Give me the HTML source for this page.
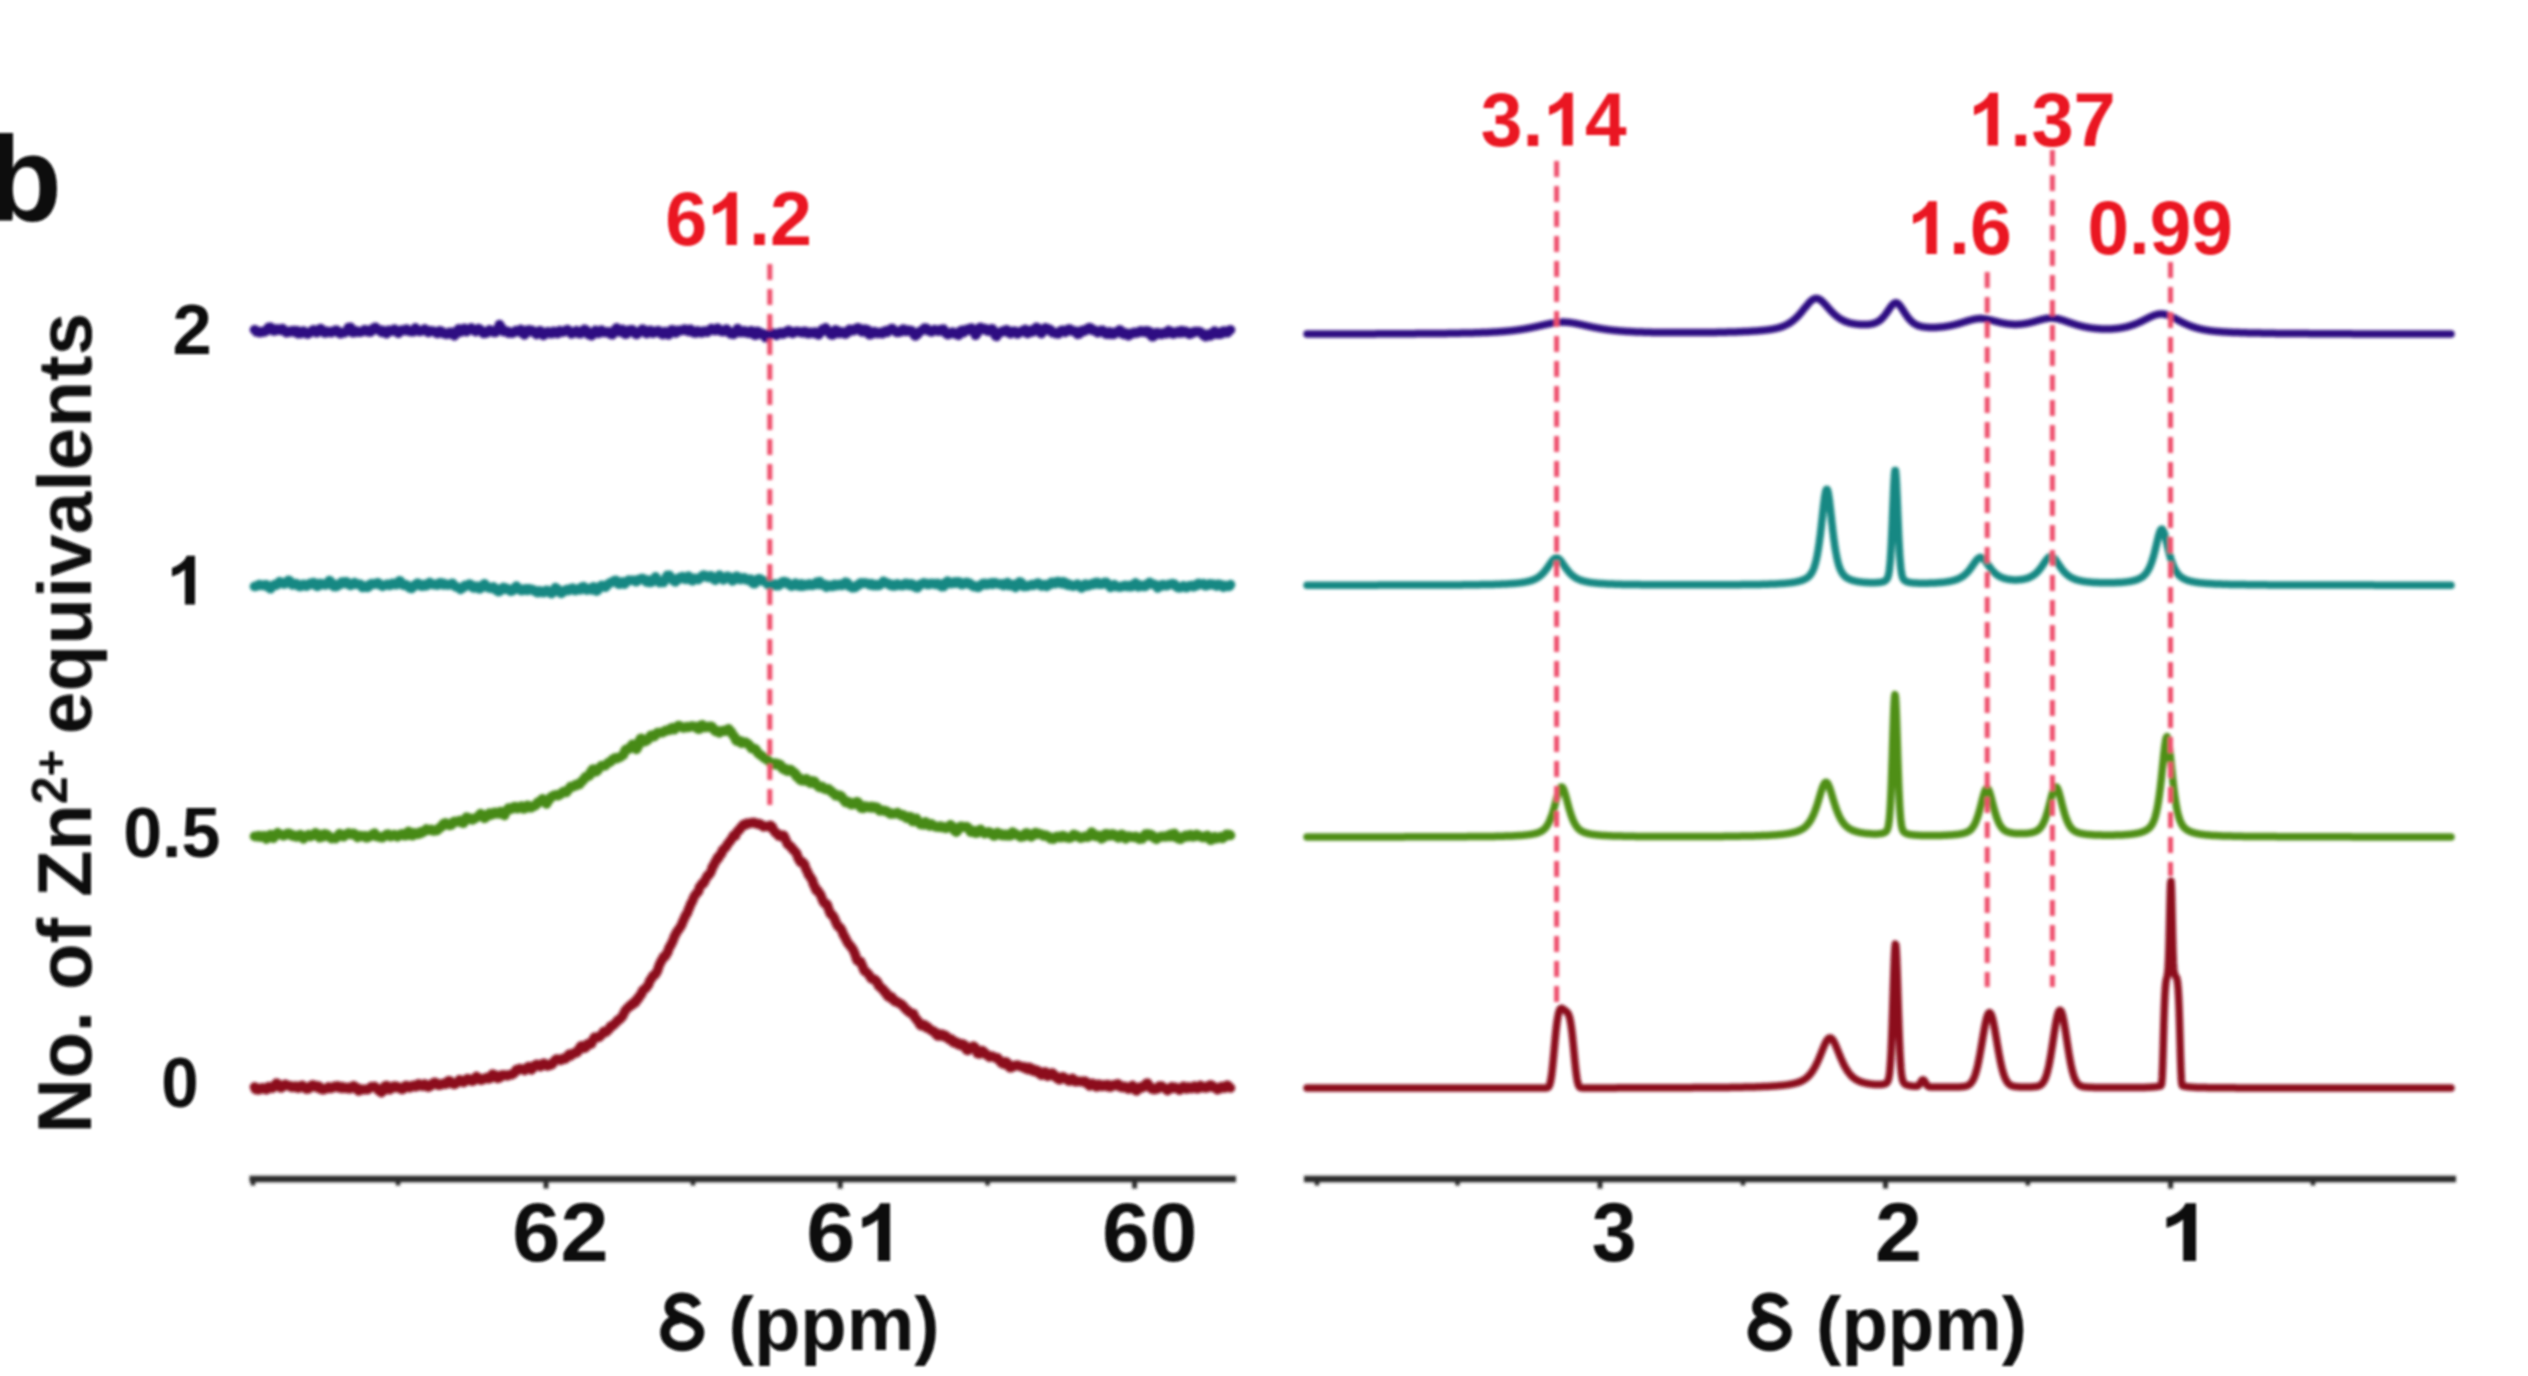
<!DOCTYPE html>
<html lang="en"><head><meta charset="utf-8"><title>NMR titration spectra</title>
<style>
html,body{margin:0;padding:0;background:#fff;}
body{width:2528px;height:1376px;overflow:hidden;font-family:"Liberation Sans",sans-serif;}
svg{display:block;}
text{font-family:"Liberation Sans",sans-serif;}
.tr{fill:none;stroke-linejoin:round;stroke-linecap:round;}
.dash{stroke:#ee4d6b;stroke-width:5;stroke-dasharray:16 9;fill:none;}
</style></head><body>
<svg width="2528" height="1376" viewBox="0 0 2528 1376">
<defs><filter id="soft" x="-2%" y="-2%" width="104%" height="104%"><feGaussianBlur stdDeviation="1.6"/></filter><filter id="softtxt" x="-2%" y="-2%" width="104%" height="104%"><feGaussianBlur stdDeviation="1.1"/></filter></defs>
<rect width="2528" height="1376" fill="#ffffff"/>
<g filter="url(#soft)">
<g id="left-panel">
<path class="tr" stroke="#2e0f82" stroke-width="9.6" d="M254.5,329.7 L255.5,330.0 L256.5,331.9 L257.5,331.9 L258.5,332.2 L259.5,332.6 L260.5,331.7 L261.5,332.2 L262.5,332.0 L263.5,331.5 L264.5,331.8 L265.5,330.5 L266.5,330.9 L267.5,329.3 L268.5,327.5 L269.5,327.1 L270.5,327.3 L271.5,327.8 L272.5,329.2 L273.5,330.9 L274.5,331.0 L275.5,329.9 L276.5,329.1 L277.5,329.0 L278.5,329.2 L279.5,330.1 L280.5,330.1 L281.5,329.3 L282.5,328.5 L283.5,330.8 L284.5,330.5 L285.5,331.3 L286.5,332.8 L287.5,331.3 L288.5,331.9 L289.5,332.1 L290.5,331.3 L291.5,330.8 L292.5,330.9 L293.5,332.0 L294.5,330.6 L295.5,332.4 L296.5,332.5 L297.5,330.7 L298.5,333.8 L299.5,333.7 L300.5,332.6 L301.5,333.2 L302.5,331.9 L303.5,331.1 L304.5,332.7 L305.5,332.6 L306.5,332.7 L307.5,334.1 L308.5,332.9 L309.5,333.1 L310.5,332.1 L311.5,331.0 L312.5,330.5 L313.5,329.8 L314.5,330.1 L315.5,330.7 L316.5,332.8 L317.5,332.1 L318.5,331.6 L319.5,331.4 L320.5,328.6 L321.5,329.4 L322.5,330.0 L323.5,330.5 L324.5,332.9 L325.5,333.0 L326.5,332.7 L327.5,331.4 L328.5,332.1 L329.5,332.0 L330.5,332.1 L331.5,332.6 L332.5,331.2 L333.5,331.4 L334.5,330.7 L335.5,330.3 L336.5,330.1 L337.5,331.2 L338.5,332.8 L339.5,332.8 L340.5,333.8 L341.5,332.4 L342.5,332.8 L343.5,332.8 L344.5,332.7 L345.5,331.9 L346.5,331.3 L347.5,329.8 L348.5,327.5 L349.5,328.3 L350.5,327.2 L351.5,328.9 L352.5,332.6 L353.5,332.2 L354.5,332.4 L355.5,332.4 L356.5,330.9 L357.5,331.5 L358.5,331.8 L359.5,332.3 L360.5,332.3 L361.5,331.5 L362.5,331.6 L363.5,331.0 L364.5,329.7 L365.5,330.8 L366.5,330.1 L367.5,330.9 L368.5,332.0 L369.5,331.9 L370.5,332.1 L371.5,331.1 L372.5,329.2 L373.5,328.1 L374.5,329.0 L375.5,327.2 L376.5,329.7 L377.5,329.2 L378.5,329.5 L379.5,330.6 L380.5,330.6 L381.5,332.2 L382.5,330.2 L383.5,332.1 L384.5,332.6 L385.5,332.5 L386.5,333.6 L387.5,332.3 L388.5,330.2 L389.5,331.2 L390.5,331.0 L391.5,331.1 L392.5,331.2 L393.5,329.7 L394.5,329.1 L395.5,330.2 L396.5,330.8 L397.5,332.2 L398.5,333.3 L399.5,331.6 L400.5,331.5 L401.5,330.1 L402.5,330.1 L403.5,330.4 L404.5,330.4 L405.5,329.7 L406.5,329.0 L407.5,330.8 L408.5,330.4 L409.5,330.7 L410.5,331.7 L411.5,331.5 L412.5,330.8 L413.5,331.6 L414.5,330.7 L415.5,327.9 L416.5,329.9 L417.5,330.0 L418.5,330.7 L419.5,331.5 L420.5,331.3 L421.5,330.8 L422.5,330.7 L423.5,330.3 L424.5,328.9 L425.5,330.5 L426.5,330.2 L427.5,331.4 L428.5,332.5 L429.5,330.9 L430.5,330.9 L431.5,331.2 L432.5,331.0 L433.5,331.2 L434.5,331.7 L435.5,332.2 L436.5,333.1 L437.5,333.5 L438.5,333.0 L439.5,330.8 L440.5,331.0 L441.5,331.5 L442.5,331.9 L443.5,333.6 L444.5,333.5 L445.5,333.3 L446.5,334.3 L447.5,333.4 L448.5,334.0 L449.5,332.2 L450.5,332.2 L451.5,333.0 L452.5,332.4 L453.5,335.2 L454.5,335.7 L455.5,334.3 L456.5,332.1 L457.5,331.1 L458.5,328.9 L459.5,329.9 L460.5,332.2 L461.5,330.0 L462.5,329.0 L463.5,329.3 L464.5,328.6 L465.5,329.8 L466.5,331.7 L467.5,330.7 L468.5,329.4 L469.5,329.4 L470.5,328.6 L471.5,327.9 L472.5,329.7 L473.5,329.7 L474.5,331.0 L475.5,331.5 L476.5,330.5 L477.5,329.7 L478.5,328.6 L479.5,329.6 L480.5,329.5 L481.5,330.7 L482.5,331.8 L483.5,333.4 L484.5,332.9 L485.5,333.3 L486.5,333.0 L487.5,331.2 L488.5,331.1 L489.5,329.9 L490.5,330.7 L491.5,330.6 L492.5,332.0 L493.5,332.1 L494.5,332.5 L495.5,332.5 L496.5,330.5 L497.5,330.2 L498.5,327.5 L499.5,324.6 L500.5,326.1 L501.5,327.9 L502.5,329.7 L503.5,331.5 L504.5,331.1 L505.5,330.9 L506.5,331.0 L507.5,332.1 L508.5,332.9 L509.5,332.0 L510.5,332.5 L511.5,333.0 L512.5,333.2 L513.5,332.3 L514.5,332.0 L515.5,330.9 L516.5,331.7 L517.5,331.5 L518.5,330.9 L519.5,331.5 L520.5,329.4 L521.5,332.1 L522.5,333.5 L523.5,333.1 L524.5,334.9 L525.5,333.7 L526.5,330.2 L527.5,330.8 L528.5,330.1 L529.5,329.8 L530.5,331.2 L531.5,330.7 L532.5,330.6 L533.5,331.6 L534.5,332.8 L535.5,333.1 L536.5,334.6 L537.5,333.0 L538.5,332.4 L539.5,330.8 L540.5,330.8 L541.5,332.2 L542.5,333.3 L543.5,335.5 L544.5,334.2 L545.5,333.6 L546.5,332.6 L547.5,331.8 L548.5,331.8 L549.5,332.9 L550.5,333.6 L551.5,333.7 L552.5,333.2 L553.5,331.3 L554.5,332.2 L555.5,332.7 L556.5,333.3 L557.5,333.5 L558.5,331.2 L559.5,330.7 L560.5,331.4 L561.5,331.3 L562.5,332.1 L563.5,332.0 L564.5,331.3 L565.5,330.3 L566.5,330.3 L567.5,329.7 L568.5,330.4 L569.5,331.1 L570.5,331.8 L571.5,333.9 L572.5,332.9 L573.5,333.0 L574.5,332.7 L575.5,331.3 L576.5,330.7 L577.5,331.7 L578.5,333.3 L579.5,333.1 L580.5,333.8 L581.5,332.4 L582.5,330.9 L583.5,330.1 L584.5,329.3 L585.5,331.3 L586.5,330.3 L587.5,332.3 L588.5,334.6 L589.5,333.7 L590.5,335.0 L591.5,335.8 L592.5,334.3 L593.5,333.5 L594.5,331.8 L595.5,330.2 L596.5,331.6 L597.5,333.0 L598.5,333.4 L599.5,332.6 L600.5,330.8 L601.5,330.2 L602.5,330.9 L603.5,331.8 L604.5,332.5 L605.5,332.0 L606.5,332.2 L607.5,332.1 L608.5,331.8 L609.5,332.5 L610.5,334.2 L611.5,334.5 L612.5,334.7 L613.5,332.7 L614.5,331.4 L615.5,329.2 L616.5,327.9 L617.5,330.1 L618.5,330.4 L619.5,332.0 L620.5,331.7 L621.5,330.7 L622.5,329.4 L623.5,330.1 L624.5,333.6 L625.5,334.1 L626.5,334.0 L627.5,332.5 L628.5,330.4 L629.5,330.1 L630.5,329.8 L631.5,330.9 L632.5,329.9 L633.5,331.1 L634.5,333.0 L635.5,333.9 L636.5,334.4 L637.5,333.9 L638.5,332.9 L639.5,331.6 L640.5,331.7 L641.5,330.1 L642.5,329.0 L643.5,330.0 L644.5,330.1 L645.5,331.5 L646.5,333.6 L647.5,331.4 L648.5,330.9 L649.5,330.8 L650.5,330.3 L651.5,331.5 L652.5,333.1 L653.5,333.1 L654.5,331.7 L655.5,331.2 L656.5,331.0 L657.5,331.2 L658.5,330.6 L659.5,332.6 L660.5,332.4 L661.5,333.2 L662.5,334.6 L663.5,333.1 L664.5,331.6 L665.5,332.6 L666.5,332.8 L667.5,334.5 L668.5,334.9 L669.5,332.8 L670.5,331.5 L671.5,329.8 L672.5,331.2 L673.5,330.0 L674.5,332.4 L675.5,333.0 L676.5,331.2 L677.5,331.9 L678.5,330.5 L679.5,330.2 L680.5,330.6 L681.5,330.4 L682.5,330.5 L683.5,329.6 L684.5,329.0 L685.5,329.7 L686.5,330.7 L687.5,330.3 L688.5,331.4 L689.5,330.9 L690.5,329.2 L691.5,331.3 L692.5,330.9 L693.5,332.8 L694.5,332.9 L695.5,332.5 L696.5,332.8 L697.5,330.8 L698.5,332.0 L699.5,331.5 L700.5,332.2 L701.5,332.9 L702.5,331.4 L703.5,331.4 L704.5,331.0 L705.5,331.8 L706.5,332.0 L707.5,332.1 L708.5,330.5 L709.5,330.2 L710.5,330.1 L711.5,328.5 L712.5,330.0 L713.5,330.4 L714.5,330.0 L715.5,330.6 L716.5,330.0 L717.5,328.1 L718.5,329.7 L719.5,330.0 L720.5,330.0 L721.5,331.5 L722.5,330.5 L723.5,331.6 L724.5,331.4 L725.5,329.9 L726.5,329.0 L727.5,330.3 L728.5,330.9 L729.5,332.2 L730.5,333.9 L731.5,332.4 L732.5,332.8 L733.5,334.4 L734.5,333.6 L735.5,332.1 L736.5,331.3 L737.5,328.5 L738.5,330.2 L739.5,332.3 L740.5,332.5 L741.5,332.5 L742.5,331.6 L743.5,332.2 L744.5,330.7 L745.5,332.4 L746.5,331.9 L747.5,331.7 L748.5,333.3 L749.5,332.7 L750.5,332.4 L751.5,330.7 L752.5,332.9 L753.5,334.0 L754.5,335.0 L755.5,335.2 L756.5,332.4 L757.5,331.4 L758.5,331.8 L759.5,332.5 L760.5,334.2 L761.5,333.6 L762.5,333.6 L763.5,333.7 L764.5,335.0 L765.5,337.6 L766.5,337.6 L767.5,337.0 L768.5,335.8 L769.5,333.6 L770.5,333.1 L771.5,333.7 L772.5,332.8 L773.5,333.9 L774.5,334.4 L775.5,334.6 L776.5,335.3 L777.5,334.1 L778.5,333.3 L779.5,332.9 L780.5,332.5 L781.5,333.2 L782.5,334.0 L783.5,332.9 L784.5,333.4 L785.5,331.9 L786.5,331.3 L787.5,332.2 L788.5,330.2 L789.5,331.4 L790.5,332.0 L791.5,332.0 L792.5,333.4 L793.5,332.9 L794.5,331.8 L795.5,331.6 L796.5,331.4 L797.5,331.7 L798.5,331.5 L799.5,331.8 L800.5,332.4 L801.5,332.1 L802.5,332.7 L803.5,332.9 L804.5,331.3 L805.5,331.7 L806.5,332.3 L807.5,332.0 L808.5,333.8 L809.5,332.7 L810.5,332.3 L811.5,332.6 L812.5,332.6 L813.5,333.3 L814.5,332.2 L815.5,332.0 L816.5,332.7 L817.5,333.3 L818.5,334.9 L819.5,333.0 L820.5,332.8 L821.5,331.7 L822.5,329.3 L823.5,330.9 L824.5,328.8 L825.5,327.7 L826.5,329.4 L827.5,330.1 L828.5,331.1 L829.5,332.5 L830.5,334.5 L831.5,334.8 L832.5,335.0 L833.5,334.5 L834.5,331.8 L835.5,329.8 L836.5,330.3 L837.5,330.8 L838.5,332.0 L839.5,333.4 L840.5,332.4 L841.5,331.9 L842.5,332.5 L843.5,332.1 L844.5,333.7 L845.5,334.1 L846.5,333.1 L847.5,332.9 L848.5,331.1 L849.5,329.3 L850.5,330.0 L851.5,329.6 L852.5,330.8 L853.5,330.7 L854.5,329.9 L855.5,329.4 L856.5,328.3 L857.5,327.8 L858.5,327.8 L859.5,329.1 L860.5,330.2 L861.5,331.6 L862.5,331.9 L863.5,331.7 L864.5,329.0 L865.5,329.4 L866.5,329.9 L867.5,329.8 L868.5,333.7 L869.5,334.8 L870.5,334.6 L871.5,334.2 L872.5,333.4 L873.5,331.9 L874.5,331.6 L875.5,332.1 L876.5,333.1 L877.5,333.5 L878.5,333.4 L879.5,332.8 L880.5,332.3 L881.5,332.4 L882.5,333.7 L883.5,332.7 L884.5,331.3 L885.5,331.2 L886.5,330.5 L887.5,332.3 L888.5,331.1 L889.5,330.5 L890.5,330.1 L891.5,328.6 L892.5,328.6 L893.5,330.3 L894.5,330.4 L895.5,331.4 L896.5,332.4 L897.5,332.4 L898.5,331.7 L899.5,332.2 L900.5,331.9 L901.5,330.2 L902.5,330.6 L903.5,329.0 L904.5,330.4 L905.5,331.4 L906.5,330.4 L907.5,331.1 L908.5,330.2 L909.5,330.8 L910.5,331.0 L911.5,330.6 L912.5,331.9 L913.5,333.1 L914.5,335.4 L915.5,335.9 L916.5,335.0 L917.5,334.4 L918.5,332.5 L919.5,331.6 L920.5,331.5 L921.5,330.6 L922.5,329.9 L923.5,329.4 L924.5,328.0 L925.5,328.2 L926.5,328.2 L927.5,329.6 L928.5,331.0 L929.5,331.0 L930.5,331.4 L931.5,331.9 L932.5,331.0 L933.5,330.1 L934.5,329.5 L935.5,330.1 L936.5,330.8 L937.5,330.5 L938.5,331.1 L939.5,329.9 L940.5,330.5 L941.5,329.8 L942.5,329.2 L943.5,329.1 L944.5,330.7 L945.5,332.9 L946.5,333.7 L947.5,334.7 L948.5,334.3 L949.5,333.2 L950.5,333.0 L951.5,333.5 L952.5,332.1 L953.5,332.9 L954.5,332.8 L955.5,333.4 L956.5,334.5 L957.5,334.4 L958.5,335.4 L959.5,332.0 L960.5,331.0 L961.5,330.4 L962.5,330.2 L963.5,332.6 L964.5,331.7 L965.5,330.4 L966.5,330.3 L967.5,329.1 L968.5,329.1 L969.5,330.1 L970.5,329.4 L971.5,328.1 L972.5,329.4 L973.5,330.2 L974.5,331.5 L975.5,335.3 L976.5,334.2 L977.5,332.4 L978.5,330.7 L979.5,327.9 L980.5,327.4 L981.5,329.1 L982.5,328.1 L983.5,329.5 L984.5,328.6 L985.5,328.8 L986.5,330.4 L987.5,329.9 L988.5,331.1 L989.5,330.4 L990.5,330.0 L991.5,328.8 L992.5,328.8 L993.5,330.9 L994.5,333.2 L995.5,335.9 L996.5,336.5 L997.5,334.3 L998.5,333.8 L999.5,332.6 L1000.5,332.0 L1001.5,332.3 L1002.5,331.1 L1003.5,330.8 L1004.5,330.8 L1005.5,330.1 L1006.5,329.7 L1007.5,332.1 L1008.5,332.1 L1009.5,332.9 L1010.5,333.7 L1011.5,332.3 L1012.5,331.4 L1013.5,331.4 L1014.5,331.8 L1015.5,331.4 L1016.5,332.5 L1017.5,334.0 L1018.5,332.6 L1019.5,332.5 L1020.5,331.9 L1021.5,331.9 L1022.5,330.8 L1023.5,330.1 L1024.5,330.1 L1025.5,329.4 L1026.5,331.6 L1027.5,333.5 L1028.5,332.5 L1029.5,332.6 L1030.5,331.8 L1031.5,330.0 L1032.5,331.9 L1033.5,330.4 L1034.5,328.9 L1035.5,329.1 L1036.5,327.4 L1037.5,327.6 L1038.5,329.8 L1039.5,330.4 L1040.5,333.1 L1041.5,333.5 L1042.5,331.8 L1043.5,330.9 L1044.5,328.7 L1045.5,327.8 L1046.5,329.5 L1047.5,329.6 L1048.5,328.7 L1049.5,330.4 L1050.5,329.9 L1051.5,330.8 L1052.5,332.7 L1053.5,332.6 L1054.5,332.7 L1055.5,333.5 L1056.5,333.8 L1057.5,333.6 L1058.5,333.9 L1059.5,331.6 L1060.5,331.1 L1061.5,330.5 L1062.5,330.3 L1063.5,330.4 L1064.5,332.0 L1065.5,332.3 L1066.5,331.1 L1067.5,330.8 L1068.5,329.1 L1069.5,329.0 L1070.5,329.4 L1071.5,331.0 L1072.5,330.7 L1073.5,331.2 L1074.5,331.2 L1075.5,331.1 L1076.5,332.6 L1077.5,334.3 L1078.5,334.1 L1079.5,333.7 L1080.5,332.1 L1081.5,330.6 L1082.5,330.5 L1083.5,330.4 L1084.5,331.2 L1085.5,329.6 L1086.5,329.8 L1087.5,329.8 L1088.5,328.0 L1089.5,327.6 L1090.5,328.1 L1091.5,328.6 L1092.5,330.3 L1093.5,330.0 L1094.5,330.0 L1095.5,330.6 L1096.5,331.2 L1097.5,332.7 L1098.5,332.3 L1099.5,332.2 L1100.5,331.2 L1101.5,330.2 L1102.5,330.3 L1103.5,331.0 L1104.5,331.8 L1105.5,333.8 L1106.5,334.1 L1107.5,333.6 L1108.5,332.9 L1109.5,331.8 L1110.5,334.4 L1111.5,334.2 L1112.5,334.3 L1113.5,334.4 L1114.5,332.5 L1115.5,332.9 L1116.5,332.9 L1117.5,331.5 L1118.5,330.9 L1119.5,329.9 L1120.5,330.4 L1121.5,333.1 L1122.5,333.6 L1123.5,334.3 L1124.5,333.3 L1125.5,332.9 L1126.5,334.5 L1127.5,334.4 L1128.5,335.6 L1129.5,335.0 L1130.5,334.7 L1131.5,333.2 L1132.5,332.9 L1133.5,333.2 L1134.5,332.3 L1135.5,332.7 L1136.5,333.1 L1137.5,332.4 L1138.5,331.9 L1139.5,332.2 L1140.5,330.9 L1141.5,331.1 L1142.5,331.8 L1143.5,331.1 L1144.5,331.9 L1145.5,332.5 L1146.5,330.8 L1147.5,331.8 L1148.5,331.1 L1149.5,331.5 L1150.5,334.5 L1151.5,336.1 L1152.5,336.8 L1153.5,336.5 L1154.5,334.6 L1155.5,332.9 L1156.5,334.4 L1157.5,332.6 L1158.5,333.5 L1159.5,333.3 L1160.5,333.2 L1161.5,334.5 L1162.5,333.0 L1163.5,333.3 L1164.5,332.7 L1165.5,332.6 L1166.5,333.6 L1167.5,332.9 L1168.5,330.4 L1169.5,331.2 L1170.5,331.4 L1171.5,331.9 L1172.5,333.9 L1173.5,334.0 L1174.5,333.0 L1175.5,332.2 L1176.5,332.0 L1177.5,332.2 L1178.5,331.3 L1179.5,333.0 L1180.5,332.6 L1181.5,330.6 L1182.5,332.9 L1183.5,331.8 L1184.5,331.2 L1185.5,331.9 L1186.5,331.6 L1187.5,332.7 L1188.5,333.5 L1189.5,334.2 L1190.5,334.0 L1191.5,332.4 L1192.5,333.1 L1193.5,332.7 L1194.5,331.6 L1195.5,331.7 L1196.5,331.5 L1197.5,331.6 L1198.5,331.5 L1199.5,331.6 L1200.5,332.5 L1201.5,332.7 L1202.5,334.0 L1203.5,335.4 L1204.5,334.9 L1205.5,336.7 L1206.5,335.2 L1207.5,334.9 L1208.5,334.1 L1209.5,333.8 L1210.5,336.0 L1211.5,333.6 L1212.5,333.0 L1213.5,331.9 L1214.5,331.1 L1215.5,333.5 L1216.5,334.3 L1217.5,334.1 L1218.5,334.0 L1219.5,333.3 L1220.5,334.3 L1221.5,331.9 L1222.5,331.9 L1223.5,331.0 L1224.5,331.0 L1225.5,332.8 L1226.5,331.4 L1227.5,332.7 L1228.5,331.0 L1229.5,330.4 L1230.5,329.8"/>
<path class="tr" stroke="#138883" stroke-width="9.6" d="M254.5,586.5 L255.5,586.3 L256.5,586.1 L257.5,585.6 L258.5,584.9 L259.5,584.5 L260.5,585.3 L261.5,585.1 L262.5,585.4 L263.5,585.4 L264.5,584.9 L265.5,585.5 L266.5,584.8 L267.5,586.8 L268.5,586.8 L269.5,587.8 L270.5,588.8 L271.5,586.8 L272.5,586.3 L273.5,585.3 L274.5,584.7 L275.5,585.1 L276.5,585.2 L277.5,583.6 L278.5,583.4 L279.5,581.7 L280.5,582.2 L281.5,582.9 L282.5,582.6 L283.5,584.0 L284.5,583.9 L285.5,583.4 L286.5,582.6 L287.5,582.0 L288.5,580.3 L289.5,580.7 L290.5,583.0 L291.5,583.0 L292.5,584.9 L293.5,584.6 L294.5,583.7 L295.5,584.2 L296.5,583.7 L297.5,585.0 L298.5,586.1 L299.5,586.4 L300.5,586.5 L301.5,585.4 L302.5,584.6 L303.5,584.3 L304.5,584.8 L305.5,585.4 L306.5,586.2 L307.5,585.0 L308.5,584.2 L309.5,584.8 L310.5,583.3 L311.5,584.2 L312.5,584.2 L313.5,582.6 L314.5,582.9 L315.5,585.2 L316.5,586.2 L317.5,586.4 L318.5,585.7 L319.5,583.6 L320.5,583.5 L321.5,583.7 L322.5,583.9 L323.5,584.8 L324.5,584.7 L325.5,585.0 L326.5,584.7 L327.5,583.0 L328.5,581.8 L329.5,580.5 L330.5,581.8 L331.5,582.5 L332.5,583.3 L333.5,586.3 L334.5,586.6 L335.5,586.2 L336.5,586.5 L337.5,586.0 L338.5,584.6 L339.5,584.7 L340.5,584.0 L341.5,582.1 L342.5,583.7 L343.5,582.6 L344.5,581.9 L345.5,582.9 L346.5,581.7 L347.5,583.5 L348.5,584.5 L349.5,584.5 L350.5,585.5 L351.5,583.9 L352.5,583.7 L353.5,583.3 L354.5,582.6 L355.5,584.3 L356.5,583.6 L357.5,583.7 L358.5,584.2 L359.5,584.3 L360.5,584.4 L361.5,586.3 L362.5,587.4 L363.5,586.1 L364.5,586.9 L365.5,587.2 L366.5,586.1 L367.5,587.3 L368.5,587.0 L369.5,584.8 L370.5,584.1 L371.5,583.5 L372.5,584.2 L373.5,584.3 L374.5,584.2 L375.5,583.7 L376.5,583.2 L377.5,582.8 L378.5,583.0 L379.5,584.6 L380.5,584.9 L381.5,585.9 L382.5,586.3 L383.5,585.6 L384.5,585.3 L385.5,584.7 L386.5,585.0 L387.5,584.2 L388.5,585.2 L389.5,585.5 L390.5,584.4 L391.5,584.8 L392.5,583.4 L393.5,583.5 L394.5,583.5 L395.5,584.7 L396.5,584.6 L397.5,582.9 L398.5,582.9 L399.5,580.7 L400.5,581.2 L401.5,583.6 L402.5,584.6 L403.5,585.1 L404.5,584.6 L405.5,585.1 L406.5,584.9 L407.5,585.8 L408.5,587.1 L409.5,587.6 L410.5,588.3 L411.5,588.4 L412.5,587.9 L413.5,586.6 L414.5,585.3 L415.5,584.5 L416.5,584.3 L417.5,583.1 L418.5,583.6 L419.5,584.4 L420.5,586.0 L421.5,586.1 L422.5,586.1 L423.5,585.9 L424.5,584.6 L425.5,585.9 L426.5,585.7 L427.5,585.2 L428.5,583.8 L429.5,582.4 L430.5,583.1 L431.5,583.8 L432.5,584.2 L433.5,584.7 L434.5,584.3 L435.5,584.7 L436.5,585.0 L437.5,585.1 L438.5,583.8 L439.5,582.7 L440.5,584.3 L441.5,582.9 L442.5,584.0 L443.5,585.0 L444.5,583.6 L445.5,584.7 L446.5,584.9 L447.5,584.8 L448.5,585.0 L449.5,584.3 L450.5,584.3 L451.5,583.7 L452.5,583.4 L453.5,584.9 L454.5,585.5 L455.5,586.8 L456.5,586.9 L457.5,587.4 L458.5,587.8 L459.5,588.1 L460.5,589.4 L461.5,588.7 L462.5,587.8 L463.5,587.6 L464.5,585.7 L465.5,586.0 L466.5,585.8 L467.5,585.0 L468.5,584.8 L469.5,584.0 L470.5,584.4 L471.5,585.4 L472.5,587.4 L473.5,588.0 L474.5,587.9 L475.5,586.7 L476.5,586.3 L477.5,586.3 L478.5,586.9 L479.5,588.8 L480.5,588.5 L481.5,587.7 L482.5,586.7 L483.5,584.4 L484.5,583.7 L485.5,585.7 L486.5,586.5 L487.5,586.6 L488.5,587.9 L489.5,588.0 L490.5,587.6 L491.5,588.3 L492.5,587.6 L493.5,587.0 L494.5,587.8 L495.5,589.2 L496.5,590.4 L497.5,591.1 L498.5,591.7 L499.5,591.4 L500.5,589.5 L501.5,588.6 L502.5,587.9 L503.5,587.3 L504.5,589.1 L505.5,589.0 L506.5,588.2 L507.5,589.5 L508.5,589.4 L509.5,589.9 L510.5,591.3 L511.5,591.1 L512.5,590.9 L513.5,589.1 L514.5,588.0 L515.5,587.0 L516.5,586.1 L517.5,588.0 L518.5,589.4 L519.5,589.4 L520.5,589.4 L521.5,590.7 L522.5,589.6 L523.5,589.1 L524.5,590.1 L525.5,589.0 L526.5,588.9 L527.5,590.4 L528.5,589.9 L529.5,589.0 L530.5,589.7 L531.5,589.7 L532.5,589.6 L533.5,590.6 L534.5,590.4 L535.5,591.9 L536.5,591.9 L537.5,592.7 L538.5,592.7 L539.5,590.7 L540.5,591.7 L541.5,591.4 L542.5,592.4 L543.5,592.7 L544.5,591.8 L545.5,590.8 L546.5,590.3 L547.5,590.5 L548.5,591.9 L549.5,592.6 L550.5,593.0 L551.5,593.6 L552.5,592.7 L553.5,591.4 L554.5,589.8 L555.5,587.6 L556.5,588.6 L557.5,589.0 L558.5,590.7 L559.5,592.1 L560.5,592.2 L561.5,593.4 L562.5,592.4 L563.5,591.8 L564.5,590.6 L565.5,590.0 L566.5,589.6 L567.5,589.7 L568.5,590.7 L569.5,589.3 L570.5,589.8 L571.5,589.1 L572.5,588.0 L573.5,589.7 L574.5,589.4 L575.5,590.6 L576.5,589.2 L577.5,589.3 L578.5,588.9 L579.5,588.7 L580.5,589.9 L581.5,587.2 L582.5,587.0 L583.5,586.6 L584.5,587.5 L585.5,589.4 L586.5,590.0 L587.5,588.8 L588.5,588.5 L589.5,589.5 L590.5,589.2 L591.5,589.9 L592.5,587.6 L593.5,586.8 L594.5,588.6 L595.5,589.1 L596.5,591.0 L597.5,590.6 L598.5,587.8 L599.5,588.1 L600.5,586.2 L601.5,585.5 L602.5,586.2 L603.5,585.8 L604.5,586.8 L605.5,587.1 L606.5,586.2 L607.5,584.5 L608.5,584.1 L609.5,583.2 L610.5,582.6 L611.5,582.5 L612.5,581.9 L613.5,581.0 L614.5,580.8 L615.5,580.4 L616.5,580.7 L617.5,582.1 L618.5,584.3 L619.5,584.2 L620.5,583.5 L621.5,583.6 L622.5,581.9 L623.5,582.5 L624.5,584.1 L625.5,583.0 L626.5,582.2 L627.5,581.3 L628.5,580.2 L629.5,580.5 L630.5,580.2 L631.5,580.2 L632.5,580.2 L633.5,580.3 L634.5,580.7 L635.5,581.7 L636.5,581.6 L637.5,579.8 L638.5,580.0 L639.5,579.8 L640.5,578.9 L641.5,578.5 L642.5,578.5 L643.5,578.7 L644.5,580.1 L645.5,580.0 L646.5,582.0 L647.5,580.6 L648.5,580.1 L649.5,582.5 L650.5,581.3 L651.5,582.2 L652.5,580.6 L653.5,580.1 L654.5,578.9 L655.5,576.9 L656.5,579.7 L657.5,579.7 L658.5,581.5 L659.5,582.6 L660.5,581.6 L661.5,582.2 L662.5,581.9 L663.5,582.5 L664.5,580.6 L665.5,579.3 L666.5,576.6 L667.5,575.3 L668.5,576.2 L669.5,575.6 L670.5,577.0 L671.5,578.1 L672.5,579.4 L673.5,581.0 L674.5,581.0 L675.5,581.9 L676.5,579.9 L677.5,578.7 L678.5,579.4 L679.5,577.6 L680.5,577.9 L681.5,577.2 L682.5,576.6 L683.5,578.6 L684.5,578.2 L685.5,579.3 L686.5,578.6 L687.5,576.5 L688.5,576.2 L689.5,577.0 L690.5,579.3 L691.5,580.4 L692.5,580.8 L693.5,580.2 L694.5,578.3 L695.5,578.5 L696.5,579.1 L697.5,578.8 L698.5,579.5 L699.5,578.4 L700.5,577.9 L701.5,576.5 L702.5,575.7 L703.5,575.1 L704.5,575.2 L705.5,575.7 L706.5,576.1 L707.5,577.4 L708.5,576.4 L709.5,576.5 L710.5,575.7 L711.5,575.9 L712.5,578.1 L713.5,579.3 L714.5,579.7 L715.5,580.2 L716.5,577.8 L717.5,578.3 L718.5,578.1 L719.5,575.0 L720.5,578.0 L721.5,578.1 L722.5,577.8 L723.5,580.0 L724.5,578.0 L725.5,577.0 L726.5,576.7 L727.5,576.2 L728.5,576.7 L729.5,576.9 L730.5,578.9 L731.5,579.5 L732.5,581.0 L733.5,580.4 L734.5,579.8 L735.5,578.5 L736.5,576.1 L737.5,577.6 L738.5,576.9 L739.5,578.7 L740.5,579.7 L741.5,578.1 L742.5,578.6 L743.5,578.0 L744.5,577.8 L745.5,579.1 L746.5,579.9 L747.5,580.0 L748.5,579.8 L749.5,579.5 L750.5,579.1 L751.5,580.3 L752.5,583.0 L753.5,583.5 L754.5,583.7 L755.5,582.9 L756.5,580.5 L757.5,579.4 L758.5,578.8 L759.5,578.8 L760.5,579.2 L761.5,580.5 L762.5,581.0 L763.5,581.2 L764.5,580.8 L765.5,581.5 L766.5,582.3 L767.5,583.8 L768.5,585.3 L769.5,585.3 L770.5,584.9 L771.5,584.2 L772.5,585.6 L773.5,583.8 L774.5,584.9 L775.5,585.6 L776.5,584.1 L777.5,585.6 L778.5,585.7 L779.5,584.1 L780.5,584.2 L781.5,583.1 L782.5,581.7 L783.5,581.8 L784.5,581.5 L785.5,582.3 L786.5,583.2 L787.5,582.7 L788.5,584.3 L789.5,585.1 L790.5,585.4 L791.5,586.2 L792.5,584.8 L793.5,584.4 L794.5,584.2 L795.5,583.3 L796.5,584.0 L797.5,585.8 L798.5,584.2 L799.5,586.2 L800.5,586.0 L801.5,583.8 L802.5,586.2 L803.5,584.6 L804.5,584.5 L805.5,585.7 L806.5,584.6 L807.5,585.2 L808.5,585.2 L809.5,583.8 L810.5,585.1 L811.5,584.8 L812.5,585.3 L813.5,584.8 L814.5,584.1 L815.5,584.7 L816.5,582.2 L817.5,583.1 L818.5,581.9 L819.5,581.7 L820.5,584.7 L821.5,583.9 L822.5,583.9 L823.5,585.3 L824.5,584.3 L825.5,586.2 L826.5,587.3 L827.5,585.6 L828.5,585.5 L829.5,585.2 L830.5,585.7 L831.5,586.4 L832.5,586.5 L833.5,585.5 L834.5,584.4 L835.5,585.8 L836.5,585.8 L837.5,585.1 L838.5,585.1 L839.5,584.3 L840.5,584.7 L841.5,585.5 L842.5,585.3 L843.5,584.8 L844.5,583.1 L845.5,582.3 L846.5,583.4 L847.5,583.0 L848.5,584.5 L849.5,586.4 L850.5,586.3 L851.5,586.6 L852.5,587.9 L853.5,587.5 L854.5,586.8 L855.5,587.3 L856.5,586.1 L857.5,584.9 L858.5,585.3 L859.5,584.6 L860.5,582.9 L861.5,583.4 L862.5,583.1 L863.5,582.9 L864.5,583.1 L865.5,583.0 L866.5,583.2 L867.5,583.6 L868.5,584.0 L869.5,584.7 L870.5,583.8 L871.5,583.6 L872.5,585.4 L873.5,584.4 L874.5,584.9 L875.5,585.8 L876.5,584.6 L877.5,584.9 L878.5,585.4 L879.5,585.4 L880.5,584.1 L881.5,583.7 L882.5,582.8 L883.5,581.2 L884.5,582.2 L885.5,582.2 L886.5,583.1 L887.5,583.3 L888.5,584.0 L889.5,584.9 L890.5,584.1 L891.5,584.9 L892.5,586.0 L893.5,585.9 L894.5,586.0 L895.5,585.8 L896.5,584.0 L897.5,583.9 L898.5,585.0 L899.5,584.5 L900.5,585.0 L901.5,585.6 L902.5,584.6 L903.5,585.3 L904.5,584.7 L905.5,583.3 L906.5,583.3 L907.5,584.7 L908.5,585.2 L909.5,585.4 L910.5,585.3 L911.5,583.7 L912.5,584.4 L913.5,584.9 L914.5,586.8 L915.5,587.0 L916.5,587.6 L917.5,587.7 L918.5,586.6 L919.5,585.4 L920.5,584.3 L921.5,584.1 L922.5,583.5 L923.5,582.9 L924.5,583.7 L925.5,583.4 L926.5,583.3 L927.5,584.6 L928.5,583.8 L929.5,584.4 L930.5,583.8 L931.5,583.3 L932.5,583.7 L933.5,583.5 L934.5,584.1 L935.5,584.4 L936.5,583.5 L937.5,583.4 L938.5,584.5 L939.5,584.2 L940.5,585.8 L941.5,586.5 L942.5,585.3 L943.5,586.6 L944.5,584.5 L945.5,582.6 L946.5,582.0 L947.5,581.2 L948.5,582.0 L949.5,582.8 L950.5,583.8 L951.5,582.6 L952.5,583.2 L953.5,582.5 L954.5,582.0 L955.5,583.2 L956.5,582.0 L957.5,582.0 L958.5,581.8 L959.5,582.1 L960.5,583.3 L961.5,584.7 L962.5,584.7 L963.5,584.1 L964.5,583.1 L965.5,583.0 L966.5,582.2 L967.5,583.7 L968.5,584.0 L969.5,583.1 L970.5,584.8 L971.5,584.6 L972.5,585.2 L973.5,586.5 L974.5,586.4 L975.5,586.5 L976.5,587.1 L977.5,586.3 L978.5,587.2 L979.5,586.5 L980.5,585.7 L981.5,585.1 L982.5,583.8 L983.5,584.3 L984.5,583.3 L985.5,584.4 L986.5,584.8 L987.5,584.5 L988.5,583.8 L989.5,583.3 L990.5,583.5 L991.5,582.8 L992.5,584.4 L993.5,582.8 L994.5,582.8 L995.5,582.9 L996.5,583.4 L997.5,583.8 L998.5,583.8 L999.5,584.1 L1000.5,584.1 L1001.5,584.7 L1002.5,583.8 L1003.5,585.6 L1004.5,584.4 L1005.5,584.6 L1006.5,584.8 L1007.5,582.5 L1008.5,583.9 L1009.5,585.7 L1010.5,585.3 L1011.5,584.8 L1012.5,584.8 L1013.5,584.4 L1014.5,585.5 L1015.5,587.5 L1016.5,586.1 L1017.5,585.2 L1018.5,583.6 L1019.5,581.8 L1020.5,583.1 L1021.5,582.7 L1022.5,585.3 L1023.5,586.4 L1024.5,585.3 L1025.5,586.3 L1026.5,586.0 L1027.5,586.3 L1028.5,585.8 L1029.5,585.5 L1030.5,585.2 L1031.5,584.5 L1032.5,584.9 L1033.5,585.3 L1034.5,584.4 L1035.5,584.0 L1036.5,584.3 L1037.5,583.0 L1038.5,583.1 L1039.5,584.0 L1040.5,585.1 L1041.5,586.1 L1042.5,584.8 L1043.5,585.0 L1044.5,584.9 L1045.5,584.7 L1046.5,586.5 L1047.5,585.8 L1048.5,584.5 L1049.5,584.9 L1050.5,583.4 L1051.5,582.2 L1052.5,583.6 L1053.5,582.5 L1054.5,583.0 L1055.5,583.6 L1056.5,581.9 L1057.5,581.6 L1058.5,581.5 L1059.5,582.8 L1060.5,582.1 L1061.5,583.5 L1062.5,582.9 L1063.5,581.9 L1064.5,584.0 L1065.5,583.4 L1066.5,583.1 L1067.5,585.2 L1068.5,584.1 L1069.5,584.4 L1070.5,585.6 L1071.5,585.3 L1072.5,585.6 L1073.5,586.1 L1074.5,585.5 L1075.5,585.3 L1076.5,585.0 L1077.5,584.1 L1078.5,585.9 L1079.5,585.4 L1080.5,586.0 L1081.5,587.9 L1082.5,586.8 L1083.5,586.0 L1084.5,586.4 L1085.5,584.0 L1086.5,584.5 L1087.5,586.0 L1088.5,585.0 L1089.5,585.4 L1090.5,584.8 L1091.5,583.9 L1092.5,583.6 L1093.5,584.5 L1094.5,582.9 L1095.5,582.6 L1096.5,583.0 L1097.5,582.4 L1098.5,584.1 L1099.5,583.5 L1100.5,584.2 L1101.5,584.3 L1102.5,583.6 L1103.5,583.5 L1104.5,582.3 L1105.5,582.7 L1106.5,582.4 L1107.5,583.5 L1108.5,585.1 L1109.5,585.5 L1110.5,587.3 L1111.5,587.1 L1112.5,585.6 L1113.5,585.6 L1114.5,584.7 L1115.5,585.7 L1116.5,586.5 L1117.5,586.6 L1118.5,587.0 L1119.5,586.7 L1120.5,587.1 L1121.5,586.5 L1122.5,586.1 L1123.5,585.7 L1124.5,586.1 L1125.5,585.4 L1126.5,586.5 L1127.5,586.3 L1128.5,586.3 L1129.5,586.6 L1130.5,585.2 L1131.5,586.7 L1132.5,585.8 L1133.5,584.9 L1134.5,584.6 L1135.5,582.9 L1136.5,584.7 L1137.5,585.8 L1138.5,586.9 L1139.5,586.5 L1140.5,585.2 L1141.5,585.5 L1142.5,586.1 L1143.5,586.4 L1144.5,586.5 L1145.5,586.3 L1146.5,584.3 L1147.5,584.8 L1148.5,584.2 L1149.5,582.3 L1150.5,583.5 L1151.5,583.9 L1152.5,583.7 L1153.5,584.4 L1154.5,585.1 L1155.5,584.9 L1156.5,585.9 L1157.5,587.9 L1158.5,586.5 L1159.5,586.9 L1160.5,586.0 L1161.5,584.9 L1162.5,585.3 L1163.5,584.7 L1164.5,585.7 L1165.5,585.8 L1166.5,585.8 L1167.5,585.6 L1168.5,585.0 L1169.5,584.3 L1170.5,584.1 L1171.5,584.2 L1172.5,583.6 L1173.5,584.1 L1174.5,584.1 L1175.5,585.5 L1176.5,586.9 L1177.5,587.3 L1178.5,587.7 L1179.5,587.8 L1180.5,587.1 L1181.5,586.8 L1182.5,587.0 L1183.5,585.7 L1184.5,586.5 L1185.5,586.5 L1186.5,587.8 L1187.5,587.0 L1188.5,586.5 L1189.5,585.8 L1190.5,585.6 L1191.5,586.0 L1192.5,585.5 L1193.5,586.8 L1194.5,586.4 L1195.5,585.9 L1196.5,585.7 L1197.5,584.1 L1198.5,583.3 L1199.5,584.0 L1200.5,584.0 L1201.5,584.5 L1202.5,584.1 L1203.5,583.7 L1204.5,584.3 L1205.5,585.9 L1206.5,584.8 L1207.5,585.3 L1208.5,584.6 L1209.5,583.9 L1210.5,584.6 L1211.5,584.6 L1212.5,584.1 L1213.5,584.3 L1214.5,585.0 L1215.5,585.0 L1216.5,586.1 L1217.5,585.4 L1218.5,584.2 L1219.5,584.8 L1220.5,584.7 L1221.5,584.8 L1222.5,586.6 L1223.5,587.1 L1224.5,586.1 L1225.5,585.6 L1226.5,586.1 L1227.5,586.2 L1228.5,586.5 L1229.5,586.2 L1230.5,584.6"/>
<path class="tr" stroke="#468a12" stroke-width="9.6" d="M254.5,836.4 L255.5,836.3 L256.5,836.6 L257.5,836.6 L258.5,835.6 L259.5,836.3 L260.5,837.0 L261.5,836.1 L262.5,836.8 L263.5,836.0 L264.5,835.9 L265.5,838.0 L266.5,839.0 L267.5,838.1 L268.5,837.7 L269.5,835.4 L270.5,834.6 L271.5,835.1 L272.5,837.1 L273.5,838.2 L274.5,836.4 L275.5,835.8 L276.5,833.9 L277.5,832.9 L278.5,833.8 L279.5,834.1 L280.5,834.2 L281.5,835.0 L282.5,835.0 L283.5,835.9 L284.5,835.2 L285.5,835.0 L286.5,834.6 L287.5,833.4 L288.5,834.3 L289.5,833.5 L290.5,834.5 L291.5,835.6 L292.5,834.8 L293.5,836.2 L294.5,835.4 L295.5,835.8 L296.5,836.9 L297.5,836.9 L298.5,836.5 L299.5,834.7 L300.5,834.6 L301.5,835.7 L302.5,837.2 L303.5,838.9 L304.5,837.7 L305.5,836.3 L306.5,836.1 L307.5,835.5 L308.5,834.8 L309.5,835.7 L310.5,836.7 L311.5,835.5 L312.5,835.6 L313.5,835.2 L314.5,833.7 L315.5,832.8 L316.5,834.4 L317.5,834.3 L318.5,834.4 L319.5,837.7 L320.5,837.2 L321.5,836.6 L322.5,837.0 L323.5,834.7 L324.5,834.0 L325.5,834.8 L326.5,834.3 L327.5,834.8 L328.5,836.6 L329.5,836.9 L330.5,837.9 L331.5,838.6 L332.5,837.7 L333.5,838.2 L334.5,837.6 L335.5,838.5 L336.5,837.5 L337.5,836.2 L338.5,835.2 L339.5,833.6 L340.5,834.7 L341.5,835.9 L342.5,836.4 L343.5,836.7 L344.5,836.0 L345.5,834.4 L346.5,834.0 L347.5,834.1 L348.5,833.0 L349.5,833.7 L350.5,834.5 L351.5,834.0 L352.5,834.5 L353.5,833.4 L354.5,834.8 L355.5,834.3 L356.5,836.1 L357.5,837.6 L358.5,835.9 L359.5,836.1 L360.5,835.7 L361.5,836.5 L362.5,836.1 L363.5,836.7 L364.5,836.7 L365.5,835.7 L366.5,837.8 L367.5,837.6 L368.5,837.2 L369.5,836.0 L370.5,836.1 L371.5,836.0 L372.5,833.9 L373.5,834.7 L374.5,833.1 L375.5,835.0 L376.5,836.4 L377.5,836.5 L378.5,837.0 L379.5,836.7 L380.5,836.9 L381.5,837.7 L382.5,837.6 L383.5,836.2 L384.5,836.3 L385.5,835.5 L386.5,834.4 L387.5,835.5 L388.5,834.4 L389.5,835.2 L390.5,836.6 L391.5,835.6 L392.5,836.0 L393.5,834.9 L394.5,834.5 L395.5,835.1 L396.5,835.9 L397.5,836.7 L398.5,835.9 L399.5,835.5 L400.5,834.1 L401.5,833.9 L402.5,834.4 L403.5,833.8 L404.5,835.7 L405.5,835.6 L406.5,833.3 L407.5,833.5 L408.5,831.4 L409.5,831.6 L410.5,835.3 L411.5,834.8 L412.5,835.7 L413.5,834.6 L414.5,832.8 L415.5,833.5 L416.5,834.2 L417.5,833.5 L418.5,834.2 L419.5,832.8 L420.5,831.8 L421.5,833.2 L422.5,832.3 L423.5,832.1 L424.5,831.1 L425.5,829.7 L426.5,828.9 L427.5,830.2 L428.5,829.5 L429.5,829.9 L430.5,830.2 L431.5,829.5 L432.5,830.5 L433.5,831.0 L434.5,830.7 L435.5,830.7 L436.5,830.5 L437.5,830.4 L438.5,828.4 L439.5,828.5 L440.5,827.6 L441.5,825.9 L442.5,826.3 L443.5,823.7 L444.5,823.4 L445.5,822.9 L446.5,823.7 L447.5,823.8 L448.5,824.9 L449.5,825.4 L450.5,824.6 L451.5,824.9 L452.5,823.1 L453.5,821.8 L454.5,821.4 L455.5,821.6 L456.5,821.9 L457.5,821.4 L458.5,821.4 L459.5,820.5 L460.5,820.5 L461.5,822.6 L462.5,823.0 L463.5,823.2 L464.5,821.6 L465.5,819.0 L466.5,817.0 L467.5,817.5 L468.5,817.9 L469.5,818.7 L470.5,819.3 L471.5,818.5 L472.5,819.9 L473.5,819.1 L474.5,819.0 L475.5,818.1 L476.5,817.4 L477.5,816.9 L478.5,816.1 L479.5,815.4 L480.5,813.5 L481.5,814.3 L482.5,816.8 L483.5,816.8 L484.5,818.3 L485.5,817.9 L486.5,814.9 L487.5,815.2 L488.5,814.0 L489.5,813.1 L490.5,815.1 L491.5,813.6 L492.5,813.8 L493.5,814.3 L494.5,812.2 L495.5,813.5 L496.5,813.6 L497.5,813.2 L498.5,813.7 L499.5,813.9 L500.5,811.5 L501.5,812.3 L502.5,813.4 L503.5,813.4 L504.5,815.4 L505.5,813.0 L506.5,811.0 L507.5,809.5 L508.5,808.1 L509.5,809.6 L510.5,808.9 L511.5,809.2 L512.5,808.0 L513.5,806.9 L514.5,807.4 L515.5,806.7 L516.5,807.4 L517.5,808.7 L518.5,807.5 L519.5,807.0 L520.5,806.7 L521.5,806.0 L522.5,808.2 L523.5,808.9 L524.5,808.8 L525.5,807.3 L526.5,806.3 L527.5,805.2 L528.5,806.5 L529.5,807.6 L530.5,806.6 L531.5,807.5 L532.5,806.7 L533.5,806.5 L534.5,805.4 L535.5,805.5 L536.5,804.4 L537.5,802.4 L538.5,802.9 L539.5,801.6 L540.5,800.8 L541.5,799.9 L542.5,798.8 L543.5,799.7 L544.5,801.5 L545.5,802.8 L546.5,804.0 L547.5,802.2 L548.5,800.3 L549.5,799.6 L550.5,797.5 L551.5,796.7 L552.5,796.4 L553.5,795.5 L554.5,795.1 L555.5,795.6 L556.5,794.9 L557.5,795.4 L558.5,795.7 L559.5,794.7 L560.5,794.5 L561.5,793.1 L562.5,792.1 L563.5,791.5 L564.5,791.4 L565.5,791.5 L566.5,792.4 L567.5,790.9 L568.5,789.5 L569.5,788.2 L570.5,786.7 L571.5,787.0 L572.5,786.3 L573.5,786.6 L574.5,785.9 L575.5,784.8 L576.5,785.4 L577.5,784.9 L578.5,783.7 L579.5,784.5 L580.5,782.3 L581.5,781.7 L582.5,781.2 L583.5,779.4 L584.5,778.9 L585.5,776.8 L586.5,776.4 L587.5,776.5 L588.5,776.1 L589.5,775.6 L590.5,772.0 L591.5,771.3 L592.5,769.2 L593.5,769.1 L594.5,771.9 L595.5,771.3 L596.5,771.7 L597.5,770.7 L598.5,769.0 L599.5,767.7 L600.5,766.8 L601.5,765.6 L602.5,765.8 L603.5,765.5 L604.5,765.9 L605.5,765.7 L606.5,764.2 L607.5,763.4 L608.5,762.3 L609.5,762.4 L610.5,761.8 L611.5,760.8 L612.5,759.2 L613.5,759.2 L614.5,758.2 L615.5,757.8 L616.5,758.8 L617.5,757.8 L618.5,757.8 L619.5,757.1 L620.5,757.1 L621.5,756.0 L622.5,755.4 L623.5,755.0 L624.5,751.6 L625.5,749.8 L626.5,749.1 L627.5,748.9 L628.5,749.2 L629.5,748.7 L630.5,746.8 L631.5,745.7 L632.5,744.2 L633.5,745.1 L634.5,746.5 L635.5,748.2 L636.5,749.4 L637.5,747.7 L638.5,745.6 L639.5,740.4 L640.5,738.7 L641.5,738.4 L642.5,739.1 L643.5,741.4 L644.5,741.7 L645.5,741.3 L646.5,740.5 L647.5,740.5 L648.5,738.7 L649.5,737.6 L650.5,735.6 L651.5,735.1 L652.5,736.4 L653.5,736.8 L654.5,736.4 L655.5,735.0 L656.5,733.5 L657.5,732.6 L658.5,733.0 L659.5,732.9 L660.5,732.4 L661.5,732.6 L662.5,732.6 L663.5,731.7 L664.5,731.6 L665.5,730.4 L666.5,730.6 L667.5,730.3 L668.5,730.4 L669.5,730.2 L670.5,728.3 L671.5,729.0 L672.5,727.8 L673.5,728.4 L674.5,729.7 L675.5,727.6 L676.5,727.6 L677.5,726.5 L678.5,725.5 L679.5,725.7 L680.5,726.8 L681.5,726.9 L682.5,727.6 L683.5,728.0 L684.5,727.6 L685.5,727.1 L686.5,726.7 L687.5,727.4 L688.5,727.1 L689.5,727.2 L690.5,726.3 L691.5,726.0 L692.5,726.1 L693.5,726.3 L694.5,726.5 L695.5,726.7 L696.5,728.3 L697.5,728.2 L698.5,729.1 L699.5,729.0 L700.5,725.3 L701.5,725.6 L702.5,724.9 L703.5,725.7 L704.5,727.5 L705.5,726.9 L706.5,727.4 L707.5,726.6 L708.5,726.4 L709.5,727.1 L710.5,726.4 L711.5,726.2 L712.5,727.3 L713.5,728.9 L714.5,730.6 L715.5,731.1 L716.5,731.6 L717.5,731.0 L718.5,731.9 L719.5,732.7 L720.5,731.9 L721.5,731.6 L722.5,730.8 L723.5,730.6 L724.5,731.3 L725.5,731.0 L726.5,729.9 L727.5,729.8 L728.5,728.7 L729.5,730.0 L730.5,732.1 L731.5,732.0 L732.5,734.5 L733.5,735.7 L734.5,736.4 L735.5,739.5 L736.5,741.0 L737.5,740.2 L738.5,741.5 L739.5,741.3 L740.5,741.0 L741.5,743.3 L742.5,742.7 L743.5,742.7 L744.5,742.5 L745.5,742.1 L746.5,743.3 L747.5,743.4 L748.5,744.0 L749.5,745.7 L750.5,746.4 L751.5,748.5 L752.5,748.6 L753.5,748.3 L754.5,748.6 L755.5,749.0 L756.5,750.6 L757.5,752.5 L758.5,753.5 L759.5,754.2 L760.5,755.2 L761.5,755.7 L762.5,756.0 L763.5,757.4 L764.5,758.4 L765.5,758.6 L766.5,759.5 L767.5,759.7 L768.5,760.7 L769.5,761.9 L770.5,762.7 L771.5,763.6 L772.5,763.5 L773.5,764.3 L774.5,764.6 L775.5,763.0 L776.5,764.5 L777.5,764.2 L778.5,763.9 L779.5,765.9 L780.5,764.8 L781.5,766.9 L782.5,768.7 L783.5,768.2 L784.5,769.9 L785.5,768.6 L786.5,770.2 L787.5,771.1 L788.5,769.7 L789.5,770.6 L790.5,769.5 L791.5,770.5 L792.5,771.1 L793.5,771.9 L794.5,774.0 L795.5,773.4 L796.5,776.4 L797.5,776.2 L798.5,777.2 L799.5,779.5 L800.5,779.0 L801.5,780.7 L802.5,779.9 L803.5,779.6 L804.5,780.8 L805.5,780.1 L806.5,778.8 L807.5,781.2 L808.5,780.9 L809.5,781.3 L810.5,783.3 L811.5,781.1 L812.5,780.8 L813.5,781.3 L814.5,781.2 L815.5,782.8 L816.5,785.0 L817.5,785.5 L818.5,786.7 L819.5,787.5 L820.5,786.3 L821.5,787.3 L822.5,786.7 L823.5,787.5 L824.5,789.0 L825.5,789.3 L826.5,789.5 L827.5,789.3 L828.5,788.9 L829.5,789.9 L830.5,791.3 L831.5,791.1 L832.5,792.9 L833.5,793.4 L834.5,793.6 L835.5,795.6 L836.5,795.3 L837.5,795.1 L838.5,796.1 L839.5,795.3 L840.5,795.7 L841.5,796.3 L842.5,797.9 L843.5,800.0 L844.5,800.7 L845.5,802.5 L846.5,801.8 L847.5,801.4 L848.5,802.7 L849.5,802.1 L850.5,804.3 L851.5,804.6 L852.5,803.4 L853.5,804.5 L854.5,802.8 L855.5,802.7 L856.5,801.8 L857.5,801.8 L858.5,803.1 L859.5,804.2 L860.5,807.4 L861.5,808.2 L862.5,807.9 L863.5,808.3 L864.5,807.3 L865.5,806.1 L866.5,807.1 L867.5,807.0 L868.5,806.9 L869.5,807.6 L870.5,807.0 L871.5,806.4 L872.5,808.0 L873.5,807.7 L874.5,806.9 L875.5,807.0 L876.5,808.2 L877.5,807.7 L878.5,809.2 L879.5,810.7 L880.5,810.2 L881.5,810.6 L882.5,810.5 L883.5,810.4 L884.5,810.7 L885.5,811.4 L886.5,811.0 L887.5,811.9 L888.5,812.3 L889.5,813.3 L890.5,814.0 L891.5,813.8 L892.5,813.3 L893.5,813.9 L894.5,813.7 L895.5,813.7 L896.5,813.8 L897.5,812.6 L898.5,813.9 L899.5,814.2 L900.5,814.3 L901.5,815.7 L902.5,814.8 L903.5,815.0 L904.5,815.9 L905.5,816.2 L906.5,818.3 L907.5,817.8 L908.5,816.7 L909.5,817.0 L910.5,816.8 L911.5,819.6 L912.5,821.5 L913.5,821.0 L914.5,821.5 L915.5,819.6 L916.5,818.4 L917.5,821.2 L918.5,821.2 L919.5,822.6 L920.5,824.4 L921.5,824.0 L922.5,824.3 L923.5,824.9 L924.5,823.9 L925.5,821.8 L926.5,822.9 L927.5,823.3 L928.5,824.6 L929.5,826.0 L930.5,825.3 L931.5,823.9 L932.5,824.9 L933.5,825.4 L934.5,825.9 L935.5,826.9 L936.5,826.7 L937.5,826.8 L938.5,827.1 L939.5,826.2 L940.5,826.0 L941.5,827.4 L942.5,826.7 L943.5,827.6 L944.5,828.0 L945.5,827.3 L946.5,828.3 L947.5,827.4 L948.5,827.3 L949.5,825.9 L950.5,824.9 L951.5,826.7 L952.5,826.3 L953.5,827.9 L954.5,830.9 L955.5,831.2 L956.5,832.1 L957.5,831.0 L958.5,828.4 L959.5,827.2 L960.5,826.4 L961.5,826.4 L962.5,826.5 L963.5,827.3 L964.5,827.1 L965.5,827.0 L966.5,826.6 L967.5,827.2 L968.5,828.2 L969.5,830.1 L970.5,832.0 L971.5,831.6 L972.5,832.2 L973.5,830.6 L974.5,831.7 L975.5,833.0 L976.5,832.5 L977.5,832.9 L978.5,831.7 L979.5,829.6 L980.5,829.4 L981.5,831.0 L982.5,831.0 L983.5,832.2 L984.5,833.7 L985.5,832.5 L986.5,832.9 L987.5,833.0 L988.5,831.9 L989.5,833.2 L990.5,832.4 L991.5,834.3 L992.5,834.6 L993.5,835.9 L994.5,835.9 L995.5,835.1 L996.5,834.8 L997.5,832.4 L998.5,833.4 L999.5,833.5 L1000.5,833.5 L1001.5,835.4 L1002.5,834.8 L1003.5,834.4 L1004.5,835.7 L1005.5,835.3 L1006.5,834.6 L1007.5,835.7 L1008.5,835.9 L1009.5,835.2 L1010.5,835.8 L1011.5,833.4 L1012.5,832.0 L1013.5,832.8 L1014.5,833.3 L1015.5,833.8 L1016.5,834.4 L1017.5,835.2 L1018.5,835.2 L1019.5,835.7 L1020.5,837.1 L1021.5,836.3 L1022.5,836.6 L1023.5,836.6 L1024.5,834.5 L1025.5,833.3 L1026.5,832.9 L1027.5,833.3 L1028.5,834.7 L1029.5,836.0 L1030.5,836.5 L1031.5,836.8 L1032.5,835.9 L1033.5,833.9 L1034.5,833.4 L1035.5,832.5 L1036.5,832.8 L1037.5,834.2 L1038.5,833.7 L1039.5,833.6 L1040.5,834.0 L1041.5,834.3 L1042.5,834.8 L1043.5,835.9 L1044.5,835.9 L1045.5,835.1 L1046.5,835.6 L1047.5,836.6 L1048.5,836.3 L1049.5,837.9 L1050.5,838.9 L1051.5,838.6 L1052.5,838.6 L1053.5,839.2 L1054.5,838.3 L1055.5,837.0 L1056.5,837.5 L1057.5,836.4 L1058.5,836.4 L1059.5,836.5 L1060.5,837.6 L1061.5,836.6 L1062.5,835.8 L1063.5,836.6 L1064.5,836.2 L1065.5,837.5 L1066.5,837.5 L1067.5,837.7 L1068.5,837.6 L1069.5,838.1 L1070.5,837.9 L1071.5,837.3 L1072.5,836.8 L1073.5,834.3 L1074.5,834.7 L1075.5,835.4 L1076.5,835.3 L1077.5,835.9 L1078.5,837.1 L1079.5,837.0 L1080.5,838.1 L1081.5,838.0 L1082.5,837.4 L1083.5,837.4 L1084.5,836.2 L1085.5,836.2 L1086.5,836.9 L1087.5,837.3 L1088.5,836.9 L1089.5,835.6 L1090.5,833.9 L1091.5,832.0 L1092.5,832.8 L1093.5,835.1 L1094.5,836.1 L1095.5,836.3 L1096.5,836.5 L1097.5,835.4 L1098.5,835.5 L1099.5,835.5 L1100.5,837.4 L1101.5,838.7 L1102.5,838.1 L1103.5,837.8 L1104.5,835.5 L1105.5,833.7 L1106.5,833.8 L1107.5,834.0 L1108.5,835.0 L1109.5,835.9 L1110.5,835.8 L1111.5,835.4 L1112.5,833.9 L1113.5,834.1 L1114.5,834.5 L1115.5,836.4 L1116.5,836.8 L1117.5,837.6 L1118.5,837.9 L1119.5,837.1 L1120.5,836.1 L1121.5,834.4 L1122.5,834.7 L1123.5,835.7 L1124.5,837.4 L1125.5,838.9 L1126.5,838.0 L1127.5,836.7 L1128.5,836.1 L1129.5,836.3 L1130.5,836.8 L1131.5,836.9 L1132.5,837.2 L1133.5,836.8 L1134.5,836.8 L1135.5,836.4 L1136.5,837.9 L1137.5,837.7 L1138.5,837.4 L1139.5,839.1 L1140.5,838.6 L1141.5,838.4 L1142.5,838.8 L1143.5,836.9 L1144.5,835.7 L1145.5,834.1 L1146.5,834.6 L1147.5,834.0 L1148.5,834.9 L1149.5,836.0 L1150.5,834.4 L1151.5,835.6 L1152.5,835.3 L1153.5,836.4 L1154.5,838.4 L1155.5,838.8 L1156.5,839.3 L1157.5,838.4 L1158.5,837.6 L1159.5,837.4 L1160.5,836.5 L1161.5,836.8 L1162.5,836.3 L1163.5,836.3 L1164.5,836.9 L1165.5,836.6 L1166.5,836.1 L1167.5,836.5 L1168.5,835.0 L1169.5,834.9 L1170.5,836.6 L1171.5,834.0 L1172.5,834.8 L1173.5,835.7 L1174.5,833.4 L1175.5,837.3 L1176.5,835.9 L1177.5,836.5 L1178.5,838.8 L1179.5,837.6 L1180.5,839.3 L1181.5,838.5 L1182.5,836.7 L1183.5,836.6 L1184.5,836.0 L1185.5,835.5 L1186.5,836.9 L1187.5,835.5 L1188.5,836.0 L1189.5,836.4 L1190.5,834.6 L1191.5,836.3 L1192.5,836.8 L1193.5,835.6 L1194.5,836.6 L1195.5,835.1 L1196.5,834.4 L1197.5,835.6 L1198.5,835.1 L1199.5,836.4 L1200.5,836.3 L1201.5,837.0 L1202.5,837.5 L1203.5,837.4 L1204.5,837.5 L1205.5,836.4 L1206.5,835.6 L1207.5,835.4 L1208.5,836.5 L1209.5,838.4 L1210.5,840.2 L1211.5,840.0 L1212.5,839.1 L1213.5,837.9 L1214.5,836.9 L1215.5,837.8 L1216.5,838.6 L1217.5,837.7 L1218.5,837.2 L1219.5,837.2 L1220.5,836.7 L1221.5,837.2 L1222.5,838.5 L1223.5,837.2 L1224.5,836.8 L1225.5,836.6 L1226.5,834.3 L1227.5,835.2 L1228.5,834.6 L1229.5,834.5 L1230.5,835.4"/>
<path class="tr" stroke="#8c0e1d" stroke-width="9.6" d="M254.5,1086.9 L255.5,1089.5 L256.5,1089.6 L257.5,1089.8 L258.5,1089.9 L259.5,1088.3 L260.5,1088.6 L261.5,1089.0 L262.5,1087.9 L263.5,1088.8 L264.5,1088.5 L265.5,1088.4 L266.5,1089.7 L267.5,1088.0 L268.5,1086.8 L269.5,1087.4 L270.5,1087.3 L271.5,1087.1 L272.5,1088.2 L273.5,1086.6 L274.5,1085.1 L275.5,1084.5 L276.5,1083.1 L277.5,1083.5 L278.5,1084.8 L279.5,1086.3 L280.5,1087.7 L281.5,1087.9 L282.5,1086.4 L283.5,1086.4 L284.5,1085.6 L285.5,1084.3 L286.5,1085.4 L287.5,1085.5 L288.5,1085.9 L289.5,1085.8 L290.5,1085.8 L291.5,1087.4 L292.5,1086.8 L293.5,1086.6 L294.5,1087.2 L295.5,1086.1 L296.5,1087.2 L297.5,1087.7 L298.5,1088.2 L299.5,1087.2 L300.5,1086.0 L301.5,1086.4 L302.5,1085.6 L303.5,1086.7 L304.5,1087.9 L305.5,1088.4 L306.5,1089.1 L307.5,1088.7 L308.5,1088.9 L309.5,1087.9 L310.5,1086.1 L311.5,1086.6 L312.5,1084.9 L313.5,1085.7 L314.5,1086.8 L315.5,1085.8 L316.5,1086.5 L317.5,1087.8 L318.5,1086.0 L319.5,1087.0 L320.5,1089.0 L321.5,1088.0 L322.5,1089.8 L323.5,1089.7 L324.5,1089.4 L325.5,1088.5 L326.5,1088.6 L327.5,1087.9 L328.5,1087.0 L329.5,1087.9 L330.5,1088.4 L331.5,1088.2 L332.5,1087.8 L333.5,1087.2 L334.5,1086.3 L335.5,1086.5 L336.5,1086.4 L337.5,1086.0 L338.5,1087.6 L339.5,1087.6 L340.5,1086.7 L341.5,1088.4 L342.5,1086.7 L343.5,1087.2 L344.5,1088.2 L345.5,1087.6 L346.5,1088.3 L347.5,1087.5 L348.5,1087.6 L349.5,1088.9 L350.5,1087.1 L351.5,1087.6 L352.5,1087.9 L353.5,1085.7 L354.5,1086.4 L355.5,1087.9 L356.5,1087.3 L357.5,1089.6 L358.5,1091.0 L359.5,1089.5 L360.5,1090.1 L361.5,1089.1 L362.5,1089.6 L363.5,1089.8 L364.5,1089.6 L365.5,1089.3 L366.5,1089.4 L367.5,1089.7 L368.5,1088.9 L369.5,1088.3 L370.5,1087.6 L371.5,1086.6 L372.5,1087.0 L373.5,1086.8 L374.5,1086.4 L375.5,1087.1 L376.5,1088.1 L377.5,1088.8 L378.5,1090.5 L379.5,1090.2 L380.5,1091.8 L381.5,1092.5 L382.5,1091.3 L383.5,1091.0 L384.5,1086.6 L385.5,1085.8 L386.5,1085.5 L387.5,1087.2 L388.5,1088.2 L389.5,1089.7 L390.5,1089.3 L391.5,1088.4 L392.5,1087.5 L393.5,1086.2 L394.5,1086.1 L395.5,1086.0 L396.5,1087.8 L397.5,1086.8 L398.5,1087.7 L399.5,1087.6 L400.5,1087.9 L401.5,1089.4 L402.5,1089.5 L403.5,1088.9 L404.5,1087.4 L405.5,1085.5 L406.5,1085.6 L407.5,1086.1 L408.5,1087.1 L409.5,1087.7 L410.5,1086.6 L411.5,1086.0 L412.5,1085.6 L413.5,1085.3 L414.5,1086.8 L415.5,1086.8 L416.5,1086.6 L417.5,1086.0 L418.5,1083.8 L419.5,1084.1 L420.5,1085.0 L421.5,1085.7 L422.5,1086.2 L423.5,1085.3 L424.5,1083.9 L425.5,1084.9 L426.5,1085.1 L427.5,1087.0 L428.5,1087.1 L429.5,1086.0 L430.5,1086.3 L431.5,1084.2 L432.5,1083.6 L433.5,1082.9 L434.5,1082.3 L435.5,1082.6 L436.5,1083.4 L437.5,1084.7 L438.5,1085.3 L439.5,1085.1 L440.5,1085.1 L441.5,1084.1 L442.5,1083.6 L443.5,1083.9 L444.5,1083.8 L445.5,1084.2 L446.5,1083.5 L447.5,1081.6 L448.5,1080.7 L449.5,1080.8 L450.5,1081.3 L451.5,1083.3 L452.5,1083.9 L453.5,1083.9 L454.5,1084.4 L455.5,1083.8 L456.5,1083.2 L457.5,1082.3 L458.5,1081.3 L459.5,1079.7 L460.5,1080.4 L461.5,1081.1 L462.5,1080.5 L463.5,1082.5 L464.5,1081.8 L465.5,1080.8 L466.5,1080.8 L467.5,1078.7 L468.5,1079.1 L469.5,1079.1 L470.5,1080.3 L471.5,1081.1 L472.5,1081.1 L473.5,1080.8 L474.5,1078.4 L475.5,1077.7 L476.5,1076.6 L477.5,1077.3 L478.5,1078.1 L479.5,1079.2 L480.5,1080.2 L481.5,1080.0 L482.5,1080.0 L483.5,1078.8 L484.5,1078.6 L485.5,1078.5 L486.5,1077.6 L487.5,1077.6 L488.5,1078.9 L489.5,1078.0 L490.5,1078.2 L491.5,1077.1 L492.5,1074.0 L493.5,1074.8 L494.5,1074.8 L495.5,1075.4 L496.5,1077.6 L497.5,1078.3 L498.5,1077.5 L499.5,1077.8 L500.5,1076.8 L501.5,1075.0 L502.5,1075.9 L503.5,1074.9 L504.5,1075.4 L505.5,1075.4 L506.5,1075.1 L507.5,1075.8 L508.5,1075.1 L509.5,1074.8 L510.5,1074.6 L511.5,1074.8 L512.5,1074.3 L513.5,1073.7 L514.5,1072.6 L515.5,1070.9 L516.5,1069.5 L517.5,1069.5 L518.5,1070.1 L519.5,1068.6 L520.5,1069.2 L521.5,1069.4 L522.5,1069.1 L523.5,1069.7 L524.5,1070.4 L525.5,1069.2 L526.5,1068.0 L527.5,1067.7 L528.5,1066.5 L529.5,1067.5 L530.5,1069.0 L531.5,1069.8 L532.5,1068.7 L533.5,1067.3 L534.5,1065.5 L535.5,1065.0 L536.5,1064.4 L537.5,1064.7 L538.5,1065.5 L539.5,1065.3 L540.5,1066.7 L541.5,1065.7 L542.5,1063.9 L543.5,1063.3 L544.5,1063.5 L545.5,1064.6 L546.5,1065.1 L547.5,1066.1 L548.5,1064.8 L549.5,1064.8 L550.5,1065.2 L551.5,1063.7 L552.5,1064.2 L553.5,1062.2 L554.5,1060.8 L555.5,1059.8 L556.5,1059.1 L557.5,1059.2 L558.5,1059.5 L559.5,1059.8 L560.5,1060.3 L561.5,1059.6 L562.5,1058.7 L563.5,1059.4 L564.5,1059.0 L565.5,1059.0 L566.5,1057.8 L567.5,1056.0 L568.5,1054.9 L569.5,1054.1 L570.5,1056.0 L571.5,1054.9 L572.5,1054.4 L573.5,1053.4 L574.5,1052.7 L575.5,1053.1 L576.5,1052.7 L577.5,1052.2 L578.5,1049.6 L579.5,1048.3 L580.5,1046.5 L581.5,1045.7 L582.5,1047.0 L583.5,1048.1 L584.5,1048.2 L585.5,1047.6 L586.5,1046.0 L587.5,1043.9 L588.5,1044.1 L589.5,1044.5 L590.5,1044.3 L591.5,1043.8 L592.5,1040.6 L593.5,1039.1 L594.5,1037.3 L595.5,1037.1 L596.5,1037.9 L597.5,1037.2 L598.5,1037.0 L599.5,1037.1 L600.5,1035.6 L601.5,1034.7 L602.5,1034.0 L603.5,1031.6 L604.5,1031.2 L605.5,1031.4 L606.5,1032.0 L607.5,1030.4 L608.5,1029.8 L609.5,1028.5 L610.5,1026.3 L611.5,1026.6 L612.5,1025.4 L613.5,1025.1 L614.5,1023.9 L615.5,1022.9 L616.5,1022.2 L617.5,1020.5 L618.5,1019.7 L619.5,1019.5 L620.5,1018.4 L621.5,1017.4 L622.5,1016.4 L623.5,1013.9 L624.5,1012.2 L625.5,1010.2 L626.5,1009.2 L627.5,1008.3 L628.5,1007.0 L629.5,1006.8 L630.5,1005.9 L631.5,1004.0 L632.5,1004.8 L633.5,1003.4 L634.5,1001.7 L635.5,1002.6 L636.5,1000.2 L637.5,998.4 L638.5,998.8 L639.5,996.0 L640.5,994.6 L641.5,994.3 L642.5,990.6 L643.5,989.9 L644.5,988.9 L645.5,988.6 L646.5,987.3 L647.5,985.9 L648.5,984.7 L649.5,981.5 L650.5,979.8 L651.5,978.6 L652.5,976.6 L653.5,975.2 L654.5,975.3 L655.5,974.0 L656.5,972.5 L657.5,970.7 L658.5,967.3 L659.5,964.6 L660.5,962.7 L661.5,960.3 L662.5,959.3 L663.5,956.9 L664.5,956.0 L665.5,956.0 L666.5,953.7 L667.5,952.7 L668.5,949.5 L669.5,947.0 L670.5,945.7 L671.5,943.6 L672.5,941.7 L673.5,939.1 L674.5,936.2 L675.5,934.7 L676.5,932.5 L677.5,930.9 L678.5,929.8 L679.5,928.1 L680.5,926.7 L681.5,925.1 L682.5,922.4 L683.5,920.1 L684.5,918.0 L685.5,915.5 L686.5,914.3 L687.5,912.6 L688.5,909.4 L689.5,907.5 L690.5,904.5 L691.5,902.8 L692.5,901.0 L693.5,898.2 L694.5,896.2 L695.5,894.7 L696.5,893.4 L697.5,892.4 L698.5,891.5 L699.5,887.2 L700.5,886.1 L701.5,884.7 L702.5,883.2 L703.5,883.5 L704.5,881.7 L705.5,879.5 L706.5,877.6 L707.5,875.5 L708.5,875.4 L709.5,874.0 L710.5,872.7 L711.5,870.4 L712.5,866.8 L713.5,866.0 L714.5,863.4 L715.5,861.6 L716.5,860.5 L717.5,857.5 L718.5,858.2 L719.5,855.6 L720.5,854.4 L721.5,853.7 L722.5,850.0 L723.5,849.7 L724.5,848.3 L725.5,847.5 L726.5,846.2 L727.5,844.1 L728.5,843.1 L729.5,841.6 L730.5,840.7 L731.5,838.9 L732.5,837.9 L733.5,835.4 L734.5,835.2 L735.5,835.5 L736.5,832.8 L737.5,831.3 L738.5,830.3 L739.5,830.2 L740.5,827.9 L741.5,826.6 L742.5,826.2 L743.5,824.5 L744.5,824.7 L745.5,825.0 L746.5,823.4 L747.5,823.3 L748.5,823.7 L749.5,823.3 L750.5,822.9 L751.5,823.0 L752.5,822.6 L753.5,822.5 L754.5,822.6 L755.5,823.2 L756.5,823.9 L757.5,824.0 L758.5,824.4 L759.5,823.7 L760.5,824.2 L761.5,824.7 L762.5,825.8 L763.5,826.8 L764.5,826.4 L765.5,826.3 L766.5,826.2 L767.5,826.2 L768.5,826.8 L769.5,826.7 L770.5,825.4 L771.5,826.0 L772.5,827.5 L773.5,830.1 L774.5,831.4 L775.5,832.9 L776.5,833.0 L777.5,833.7 L778.5,835.8 L779.5,835.4 L780.5,836.2 L781.5,835.3 L782.5,835.2 L783.5,835.3 L784.5,837.0 L785.5,839.4 L786.5,841.7 L787.5,844.3 L788.5,844.6 L789.5,845.9 L790.5,846.1 L791.5,847.4 L792.5,849.3 L793.5,849.6 L794.5,851.2 L795.5,852.2 L796.5,853.2 L797.5,856.1 L798.5,858.9 L799.5,860.3 L800.5,862.1 L801.5,861.6 L802.5,862.0 L803.5,863.8 L804.5,864.2 L805.5,867.8 L806.5,870.1 L807.5,871.7 L808.5,874.8 L809.5,875.7 L810.5,877.6 L811.5,878.8 L812.5,880.6 L813.5,884.5 L814.5,885.7 L815.5,888.9 L816.5,890.7 L817.5,890.1 L818.5,891.8 L819.5,893.4 L820.5,894.5 L821.5,897.3 L822.5,899.9 L823.5,902.1 L824.5,903.4 L825.5,904.1 L826.5,903.8 L827.5,905.5 L828.5,908.8 L829.5,911.7 L830.5,914.0 L831.5,914.1 L832.5,915.5 L833.5,916.8 L834.5,918.6 L835.5,921.3 L836.5,923.5 L837.5,925.4 L838.5,927.0 L839.5,927.1 L840.5,928.2 L841.5,929.8 L842.5,932.1 L843.5,935.0 L844.5,936.3 L845.5,938.4 L846.5,940.3 L847.5,942.4 L848.5,943.9 L849.5,944.6 L850.5,946.4 L851.5,947.3 L852.5,948.7 L853.5,950.6 L854.5,952.9 L855.5,955.4 L856.5,959.0 L857.5,960.7 L858.5,961.1 L859.5,961.5 L860.5,961.5 L861.5,964.1 L862.5,966.0 L863.5,968.9 L864.5,971.1 L865.5,971.4 L866.5,972.3 L867.5,973.0 L868.5,974.2 L869.5,975.7 L870.5,977.4 L871.5,978.6 L872.5,978.7 L873.5,979.3 L874.5,979.3 L875.5,981.0 L876.5,981.1 L877.5,982.2 L878.5,985.6 L879.5,985.7 L880.5,987.4 L881.5,988.5 L882.5,988.7 L883.5,989.8 L884.5,992.0 L885.5,993.1 L886.5,992.8 L887.5,996.1 L888.5,996.7 L889.5,997.2 L890.5,998.0 L891.5,996.9 L892.5,998.1 L893.5,999.9 L894.5,1001.3 L895.5,1000.9 L896.5,1001.9 L897.5,1002.0 L898.5,1002.7 L899.5,1003.5 L900.5,1003.7 L901.5,1004.3 L902.5,1005.4 L903.5,1006.3 L904.5,1007.7 L905.5,1009.2 L906.5,1009.4 L907.5,1010.9 L908.5,1011.1 L909.5,1012.6 L910.5,1012.5 L911.5,1013.6 L912.5,1013.9 L913.5,1013.8 L914.5,1017.1 L915.5,1017.7 L916.5,1019.8 L917.5,1020.3 L918.5,1021.9 L919.5,1023.8 L920.5,1025.3 L921.5,1025.7 L922.5,1024.2 L923.5,1025.1 L924.5,1024.8 L925.5,1026.2 L926.5,1027.9 L927.5,1026.8 L928.5,1028.1 L929.5,1028.9 L930.5,1029.6 L931.5,1030.6 L932.5,1030.9 L933.5,1031.0 L934.5,1031.8 L935.5,1033.7 L936.5,1034.5 L937.5,1035.9 L938.5,1036.1 L939.5,1033.8 L940.5,1034.3 L941.5,1034.2 L942.5,1034.2 L943.5,1036.5 L944.5,1035.3 L945.5,1035.6 L946.5,1036.4 L947.5,1038.1 L948.5,1039.1 L949.5,1039.3 L950.5,1040.3 L951.5,1039.0 L952.5,1041.4 L953.5,1042.5 L954.5,1041.3 L955.5,1043.1 L956.5,1043.2 L957.5,1042.5 L958.5,1044.7 L959.5,1044.2 L960.5,1044.5 L961.5,1045.7 L962.5,1043.9 L963.5,1044.8 L964.5,1044.9 L965.5,1047.1 L966.5,1049.9 L967.5,1050.5 L968.5,1050.1 L969.5,1048.6 L970.5,1047.6 L971.5,1046.9 L972.5,1047.3 L973.5,1046.3 L974.5,1047.0 L975.5,1048.1 L976.5,1050.5 L977.5,1053.4 L978.5,1053.3 L979.5,1054.1 L980.5,1051.8 L981.5,1051.3 L982.5,1050.7 L983.5,1051.7 L984.5,1053.4 L985.5,1053.4 L986.5,1055.2 L987.5,1055.2 L988.5,1055.5 L989.5,1057.1 L990.5,1056.9 L991.5,1056.1 L992.5,1056.2 L993.5,1057.0 L994.5,1057.4 L995.5,1057.5 L996.5,1058.6 L997.5,1057.7 L998.5,1059.4 L999.5,1060.8 L1000.5,1061.0 L1001.5,1063.3 L1002.5,1063.4 L1003.5,1064.1 L1004.5,1063.2 L1005.5,1061.8 L1006.5,1062.1 L1007.5,1063.0 L1008.5,1065.0 L1009.5,1067.6 L1010.5,1067.7 L1011.5,1067.0 L1012.5,1067.1 L1013.5,1065.8 L1014.5,1065.8 L1015.5,1065.3 L1016.5,1065.6 L1017.5,1065.1 L1018.5,1065.9 L1019.5,1066.0 L1020.5,1066.4 L1021.5,1066.7 L1022.5,1067.3 L1023.5,1067.5 L1024.5,1066.7 L1025.5,1068.6 L1026.5,1067.7 L1027.5,1069.3 L1028.5,1069.6 L1029.5,1067.3 L1030.5,1068.5 L1031.5,1069.0 L1032.5,1068.9 L1033.5,1071.3 L1034.5,1070.8 L1035.5,1070.0 L1036.5,1071.1 L1037.5,1070.5 L1038.5,1073.1 L1039.5,1072.9 L1040.5,1073.8 L1041.5,1075.3 L1042.5,1072.4 L1043.5,1072.6 L1044.5,1072.7 L1045.5,1071.9 L1046.5,1073.9 L1047.5,1076.2 L1048.5,1075.8 L1049.5,1075.6 L1050.5,1073.6 L1051.5,1073.2 L1052.5,1073.0 L1053.5,1074.3 L1054.5,1076.6 L1055.5,1075.7 L1056.5,1077.9 L1057.5,1078.6 L1058.5,1079.3 L1059.5,1079.7 L1060.5,1078.4 L1061.5,1077.4 L1062.5,1076.7 L1063.5,1077.0 L1064.5,1077.8 L1065.5,1078.6 L1066.5,1079.4 L1067.5,1080.0 L1068.5,1080.9 L1069.5,1081.1 L1070.5,1079.0 L1071.5,1079.1 L1072.5,1078.4 L1073.5,1079.1 L1074.5,1081.1 L1075.5,1081.6 L1076.5,1081.3 L1077.5,1081.3 L1078.5,1081.4 L1079.5,1081.3 L1080.5,1081.5 L1081.5,1081.6 L1082.5,1081.7 L1083.5,1081.1 L1084.5,1082.2 L1085.5,1081.5 L1086.5,1082.3 L1087.5,1083.9 L1088.5,1084.5 L1089.5,1085.9 L1090.5,1085.4 L1091.5,1085.1 L1092.5,1083.4 L1093.5,1084.0 L1094.5,1084.9 L1095.5,1086.1 L1096.5,1086.9 L1097.5,1084.3 L1098.5,1085.2 L1099.5,1084.4 L1100.5,1084.8 L1101.5,1086.4 L1102.5,1085.8 L1103.5,1086.2 L1104.5,1085.1 L1105.5,1085.9 L1106.5,1085.1 L1107.5,1084.5 L1108.5,1086.9 L1109.5,1086.9 L1110.5,1087.1 L1111.5,1086.2 L1112.5,1085.1 L1113.5,1084.9 L1114.5,1085.1 L1115.5,1085.7 L1116.5,1085.0 L1117.5,1083.8 L1118.5,1084.1 L1119.5,1085.6 L1120.5,1087.0 L1121.5,1087.4 L1122.5,1087.5 L1123.5,1087.4 L1124.5,1086.3 L1125.5,1086.8 L1126.5,1088.2 L1127.5,1088.0 L1128.5,1089.1 L1129.5,1088.9 L1130.5,1087.4 L1131.5,1086.1 L1132.5,1085.5 L1133.5,1086.7 L1134.5,1088.2 L1135.5,1090.3 L1136.5,1090.9 L1137.5,1090.1 L1138.5,1088.2 L1139.5,1087.2 L1140.5,1087.2 L1141.5,1086.6 L1142.5,1087.7 L1143.5,1087.1 L1144.5,1085.4 L1145.5,1085.2 L1146.5,1083.4 L1147.5,1083.1 L1148.5,1085.2 L1149.5,1085.8 L1150.5,1087.2 L1151.5,1089.0 L1152.5,1089.1 L1153.5,1088.9 L1154.5,1089.7 L1155.5,1089.1 L1156.5,1088.2 L1157.5,1088.9 L1158.5,1086.9 L1159.5,1086.1 L1160.5,1086.0 L1161.5,1086.1 L1162.5,1086.9 L1163.5,1087.4 L1164.5,1088.2 L1165.5,1088.7 L1166.5,1089.6 L1167.5,1090.6 L1168.5,1089.6 L1169.5,1088.4 L1170.5,1088.0 L1171.5,1086.9 L1172.5,1086.8 L1173.5,1088.3 L1174.5,1087.9 L1175.5,1087.4 L1176.5,1088.1 L1177.5,1088.3 L1178.5,1088.5 L1179.5,1090.1 L1180.5,1089.4 L1181.5,1087.7 L1182.5,1087.2 L1183.5,1086.2 L1184.5,1087.8 L1185.5,1087.3 L1186.5,1089.0 L1187.5,1088.4 L1188.5,1086.9 L1189.5,1088.3 L1190.5,1087.6 L1191.5,1088.6 L1192.5,1087.5 L1193.5,1087.2 L1194.5,1086.0 L1195.5,1087.7 L1196.5,1088.7 L1197.5,1088.6 L1198.5,1088.5 L1199.5,1086.3 L1200.5,1085.5 L1201.5,1086.1 L1202.5,1086.7 L1203.5,1087.5 L1204.5,1087.9 L1205.5,1086.8 L1206.5,1088.0 L1207.5,1086.9 L1208.5,1086.0 L1209.5,1086.7 L1210.5,1084.9 L1211.5,1085.3 L1212.5,1087.3 L1213.5,1086.4 L1214.5,1087.9 L1215.5,1087.7 L1216.5,1088.1 L1217.5,1089.7 L1218.5,1088.7 L1219.5,1089.0 L1220.5,1087.4 L1221.5,1086.5 L1222.5,1087.7 L1223.5,1086.8 L1224.5,1088.1 L1225.5,1087.0 L1226.5,1085.5 L1227.5,1085.3 L1228.5,1086.1 L1229.5,1087.1 L1230.5,1087.9"/>
</g>
<g id="right-panel">
<path class="tr" stroke="#2e0f82" stroke-width="7.5" d="M1307.0,334.0 L1307.4,334.0 L1307.8,334.0 L1308.2,334.0 L1308.6,334.0 L1309.0,334.0 L1309.4,334.0 L1309.8,334.0 L1310.2,334.0 L1310.6,334.0 L1311.0,334.0 L1311.4,334.0 L1311.8,334.0 L1312.2,334.0 L1312.6,334.0 L1313.0,334.0 L1313.4,334.0 L1313.8,334.0 L1314.2,334.0 L1314.6,334.0 L1315.0,334.0 L1315.4,334.0 L1315.8,334.0 L1316.2,334.0 L1316.6,334.0 L1317.0,334.0 L1317.4,334.0 L1317.8,334.0 L1318.2,334.0 L1318.6,334.0 L1319.0,334.0 L1319.4,334.0 L1319.8,334.0 L1320.2,334.0 L1320.6,334.0 L1321.0,334.0 L1321.4,334.0 L1321.8,334.0 L1322.2,334.0 L1322.6,334.0 L1323.0,334.0 L1323.4,334.0 L1323.8,334.0 L1324.2,334.0 L1324.6,334.0 L1325.0,334.0 L1325.4,334.0 L1325.8,334.0 L1326.2,334.0 L1326.6,334.0 L1327.0,334.0 L1327.4,334.0 L1327.8,334.0 L1328.2,334.0 L1328.6,334.0 L1329.0,334.0 L1329.4,334.0 L1329.8,334.0 L1330.2,334.0 L1330.6,334.0 L1331.0,334.0 L1331.4,334.0 L1331.8,334.0 L1332.2,334.0 L1332.6,334.0 L1333.0,334.0 L1333.4,334.0 L1333.8,334.0 L1334.2,334.0 L1334.6,334.0 L1335.0,334.0 L1335.4,334.0 L1335.8,334.0 L1336.2,334.0 L1336.6,334.0 L1337.0,334.0 L1337.4,334.0 L1337.8,334.0 L1338.2,334.0 L1338.6,334.0 L1339.0,334.0 L1339.4,334.0 L1339.8,334.0 L1340.2,334.0 L1340.6,334.0 L1341.0,334.0 L1341.4,334.0 L1341.8,334.0 L1342.2,334.0 L1342.6,334.0 L1343.0,333.9 L1343.4,333.9 L1343.8,333.9 L1344.2,333.9 L1344.6,333.9 L1345.0,333.9 L1345.4,333.9 L1345.8,333.9 L1346.2,333.9 L1346.6,333.9 L1347.0,333.9 L1347.4,333.9 L1347.8,333.9 L1348.2,333.9 L1348.6,333.9 L1349.0,333.9 L1349.4,333.9 L1349.8,333.9 L1350.2,333.9 L1350.6,333.9 L1351.0,333.9 L1351.4,333.9 L1351.8,333.9 L1352.2,333.9 L1352.6,333.9 L1353.0,333.9 L1353.4,333.9 L1353.8,333.9 L1354.2,333.9 L1354.6,333.9 L1355.0,333.9 L1355.4,333.9 L1355.8,333.9 L1356.2,333.9 L1356.6,333.9 L1357.0,333.9 L1357.4,333.9 L1357.8,333.9 L1358.2,333.9 L1358.6,333.9 L1359.0,333.9 L1359.4,333.9 L1359.8,333.9 L1360.2,333.9 L1360.6,333.9 L1361.0,333.9 L1361.4,333.9 L1361.8,333.9 L1362.2,333.9 L1362.6,333.9 L1363.0,333.9 L1363.4,333.9 L1363.8,333.9 L1364.2,333.9 L1364.6,333.9 L1365.0,333.9 L1365.4,333.9 L1365.8,333.9 L1366.2,333.9 L1366.6,333.9 L1367.0,333.9 L1367.4,333.9 L1367.8,333.9 L1368.2,333.9 L1368.6,333.9 L1369.0,333.9 L1369.4,333.9 L1369.8,333.9 L1370.2,333.9 L1370.6,333.9 L1371.0,333.9 L1371.4,333.9 L1371.8,333.9 L1372.2,333.9 L1372.6,333.9 L1373.0,333.9 L1373.4,333.9 L1373.8,333.9 L1374.2,333.9 L1374.6,333.9 L1375.0,333.9 L1375.4,333.9 L1375.8,333.9 L1376.2,333.8 L1376.6,333.8 L1377.0,333.8 L1377.4,333.8 L1377.8,333.8 L1378.2,333.8 L1378.6,333.8 L1379.0,333.8 L1379.4,333.8 L1379.8,333.8 L1380.2,333.8 L1380.6,333.8 L1381.0,333.8 L1381.4,333.8 L1381.8,333.8 L1382.2,333.8 L1382.6,333.8 L1383.0,333.8 L1383.4,333.8 L1383.8,333.8 L1384.2,333.8 L1384.6,333.8 L1385.0,333.8 L1385.4,333.8 L1385.8,333.8 L1386.2,333.8 L1386.6,333.8 L1387.0,333.8 L1387.4,333.8 L1387.8,333.8 L1388.2,333.8 L1388.6,333.8 L1389.0,333.8 L1389.4,333.8 L1389.8,333.8 L1390.2,333.8 L1390.6,333.8 L1391.0,333.8 L1391.4,333.8 L1391.8,333.8 L1392.2,333.8 L1392.6,333.8 L1393.0,333.8 L1393.4,333.8 L1393.8,333.8 L1394.2,333.8 L1394.6,333.8 L1395.0,333.8 L1395.4,333.8 L1395.8,333.8 L1396.2,333.8 L1396.6,333.8 L1397.0,333.8 L1397.4,333.8 L1397.8,333.8 L1398.2,333.8 L1398.6,333.8 L1399.0,333.7 L1399.4,333.7 L1399.8,333.7 L1400.2,333.7 L1400.6,333.7 L1401.0,333.7 L1401.4,333.7 L1401.8,333.7 L1402.2,333.7 L1402.6,333.7 L1403.0,333.7 L1403.4,333.7 L1403.8,333.7 L1404.2,333.7 L1404.6,333.7 L1405.0,333.7 L1405.4,333.7 L1405.8,333.7 L1406.2,333.7 L1406.6,333.7 L1407.0,333.7 L1407.4,333.7 L1407.8,333.7 L1408.2,333.7 L1408.6,333.7 L1409.0,333.7 L1409.4,333.7 L1409.8,333.7 L1410.2,333.7 L1410.6,333.7 L1411.0,333.7 L1411.4,333.7 L1411.8,333.7 L1412.2,333.7 L1412.6,333.7 L1413.0,333.7 L1413.4,333.7 L1413.8,333.7 L1414.2,333.7 L1414.6,333.7 L1415.0,333.7 L1415.4,333.7 L1415.8,333.6 L1416.2,333.6 L1416.6,333.6 L1417.0,333.6 L1417.4,333.6 L1417.8,333.6 L1418.2,333.6 L1418.6,333.6 L1419.0,333.6 L1419.4,333.6 L1419.8,333.6 L1420.2,333.6 L1420.6,333.6 L1421.0,333.6 L1421.4,333.6 L1421.8,333.6 L1422.2,333.6 L1422.6,333.6 L1423.0,333.6 L1423.4,333.6 L1423.8,333.6 L1424.2,333.6 L1424.6,333.6 L1425.0,333.6 L1425.4,333.6 L1425.8,333.6 L1426.2,333.6 L1426.6,333.6 L1427.0,333.6 L1427.4,333.6 L1427.8,333.6 L1428.2,333.6 L1428.6,333.5 L1429.0,333.5 L1429.4,333.5 L1429.8,333.5 L1430.2,333.5 L1430.6,333.5 L1431.0,333.5 L1431.4,333.5 L1431.8,333.5 L1432.2,333.5 L1432.6,333.5 L1433.0,333.5 L1433.4,333.5 L1433.8,333.5 L1434.2,333.5 L1434.6,333.5 L1435.0,333.5 L1435.4,333.5 L1435.8,333.5 L1436.2,333.5 L1436.6,333.5 L1437.0,333.5 L1437.4,333.5 L1437.8,333.5 L1438.2,333.5 L1438.6,333.5 L1439.0,333.4 L1439.4,333.4 L1439.8,333.4 L1440.2,333.4 L1440.6,333.4 L1441.0,333.4 L1441.4,333.4 L1441.8,333.4 L1442.2,333.4 L1442.6,333.4 L1443.0,333.4 L1443.4,333.4 L1443.8,333.4 L1444.2,333.4 L1444.6,333.4 L1445.0,333.4 L1445.4,333.4 L1445.8,333.4 L1446.2,333.4 L1446.6,333.4 L1447.0,333.4 L1447.4,333.3 L1447.8,333.3 L1448.2,333.3 L1448.6,333.3 L1449.0,333.3 L1449.4,333.3 L1449.8,333.3 L1450.2,333.3 L1450.6,333.3 L1451.0,333.3 L1451.4,333.3 L1451.8,333.3 L1452.2,333.3 L1452.6,333.3 L1453.0,333.3 L1453.4,333.3 L1453.8,333.3 L1454.2,333.3 L1454.6,333.2 L1455.0,333.2 L1455.4,333.2 L1455.8,333.2 L1456.2,333.2 L1456.6,333.2 L1457.0,333.2 L1457.4,333.2 L1457.8,333.2 L1458.2,333.2 L1458.6,333.2 L1459.0,333.2 L1459.4,333.2 L1459.8,333.2 L1460.2,333.2 L1460.6,333.1 L1461.0,333.1 L1461.4,333.1 L1461.8,333.1 L1462.2,333.1 L1462.6,333.1 L1463.0,333.1 L1463.4,333.1 L1463.8,333.1 L1464.2,333.1 L1464.6,333.1 L1465.0,333.1 L1465.4,333.1 L1465.8,333.0 L1466.2,333.0 L1466.6,333.0 L1467.0,333.0 L1467.4,333.0 L1467.8,333.0 L1468.2,333.0 L1468.6,333.0 L1469.0,333.0 L1469.4,333.0 L1469.8,333.0 L1470.2,332.9 L1470.6,332.9 L1471.0,332.9 L1471.4,332.9 L1471.8,332.9 L1472.2,332.9 L1472.6,332.9 L1473.0,332.9 L1473.4,332.9 L1473.8,332.9 L1474.2,332.8 L1474.6,332.8 L1475.0,332.8 L1475.4,332.8 L1475.8,332.8 L1476.2,332.8 L1476.6,332.8 L1477.0,332.8 L1477.4,332.8 L1477.8,332.7 L1478.2,332.7 L1478.6,332.7 L1479.0,332.7 L1479.4,332.7 L1479.8,332.7 L1480.2,332.7 L1480.6,332.7 L1481.0,332.6 L1481.4,332.6 L1481.8,332.6 L1482.2,332.6 L1482.6,332.6 L1483.0,332.6 L1483.4,332.6 L1483.8,332.5 L1484.2,332.5 L1484.6,332.5 L1485.0,332.5 L1485.4,332.5 L1485.8,332.5 L1486.2,332.4 L1486.6,332.4 L1487.0,332.4 L1487.4,332.4 L1487.8,332.4 L1488.2,332.4 L1488.6,332.3 L1489.0,332.3 L1489.4,332.3 L1489.8,332.3 L1490.2,332.3 L1490.6,332.2 L1491.0,332.2 L1491.4,332.2 L1491.8,332.2 L1492.2,332.2 L1492.6,332.1 L1493.0,332.1 L1493.4,332.1 L1493.8,332.1 L1494.2,332.1 L1494.6,332.0 L1495.0,332.0 L1495.4,332.0 L1495.8,332.0 L1496.2,331.9 L1496.6,331.9 L1497.0,331.9 L1497.4,331.9 L1497.8,331.8 L1498.2,331.8 L1498.6,331.8 L1499.0,331.8 L1499.4,331.7 L1499.8,331.7 L1500.2,331.7 L1500.6,331.7 L1501.0,331.6 L1501.4,331.6 L1501.8,331.6 L1502.2,331.5 L1502.6,331.5 L1503.0,331.5 L1503.4,331.4 L1503.8,331.4 L1504.2,331.4 L1504.6,331.3 L1505.0,331.3 L1505.4,331.3 L1505.8,331.2 L1506.2,331.2 L1506.6,331.2 L1507.0,331.1 L1507.4,331.1 L1507.8,331.1 L1508.2,331.0 L1508.6,331.0 L1509.0,330.9 L1509.4,330.9 L1509.8,330.9 L1510.2,330.8 L1510.6,330.8 L1511.0,330.7 L1511.4,330.7 L1511.8,330.7 L1512.2,330.6 L1512.6,330.6 L1513.0,330.5 L1513.4,330.5 L1513.8,330.4 L1514.2,330.4 L1514.6,330.3 L1515.0,330.3 L1515.4,330.2 L1515.8,330.2 L1516.2,330.1 L1516.6,330.1 L1517.0,330.0 L1517.4,330.0 L1517.8,329.9 L1518.2,329.9 L1518.6,329.8 L1519.0,329.7 L1519.4,329.7 L1519.8,329.6 L1520.2,329.6 L1520.6,329.5 L1521.0,329.5 L1521.4,329.4 L1521.8,329.3 L1522.2,329.3 L1522.6,329.2 L1523.0,329.1 L1523.4,329.1 L1523.8,329.0 L1524.2,329.0 L1524.6,328.9 L1525.0,328.8 L1525.4,328.8 L1525.8,328.7 L1526.2,328.6 L1526.6,328.5 L1527.0,328.5 L1527.4,328.4 L1527.8,328.3 L1528.2,328.3 L1528.6,328.2 L1529.0,328.1 L1529.4,328.0 L1529.8,327.9 L1530.2,327.9 L1530.6,327.8 L1531.0,327.7 L1531.4,327.6 L1531.8,327.6 L1532.2,327.5 L1532.6,327.4 L1533.0,327.3 L1533.4,327.2 L1533.8,327.1 L1534.2,327.1 L1534.6,327.0 L1535.0,326.9 L1535.4,326.8 L1535.8,326.7 L1536.2,326.6 L1536.6,326.5 L1537.0,326.5 L1537.4,326.4 L1537.8,326.3 L1538.2,326.2 L1538.6,326.1 L1539.0,326.0 L1539.4,325.9 L1539.8,325.8 L1540.2,325.7 L1540.6,325.7 L1541.0,325.6 L1541.4,325.5 L1541.8,325.4 L1542.2,325.3 L1542.6,325.2 L1543.0,325.1 L1543.4,325.0 L1543.8,324.9 L1544.2,324.8 L1544.6,324.7 L1545.0,324.7 L1545.4,324.6 L1545.8,324.5 L1546.2,324.4 L1546.6,324.3 L1547.0,324.2 L1547.4,324.1 L1547.8,324.0 L1548.2,324.0 L1548.6,323.9 L1549.0,323.8 L1549.4,323.7 L1549.8,323.6 L1550.2,323.6 L1550.6,323.5 L1551.0,323.4 L1551.4,323.3 L1551.8,323.3 L1552.2,323.2 L1552.6,323.1 L1553.0,323.0 L1553.4,323.0 L1553.8,322.9 L1554.2,322.9 L1554.6,322.8 L1555.0,322.7 L1555.4,322.7 L1555.8,322.6 L1556.2,322.6 L1556.6,322.5 L1557.0,322.5 L1557.4,322.4 L1557.8,322.4 L1558.2,322.4 L1558.6,322.3 L1559.0,322.3 L1559.4,322.3 L1559.8,322.2 L1560.2,322.2 L1560.6,322.2 L1561.0,322.2 L1561.4,322.2 L1561.8,322.2 L1562.2,322.1 L1562.6,322.1 L1563.0,322.1 L1563.4,322.1 L1563.8,322.1 L1564.2,322.1 L1564.6,322.2 L1565.0,322.2 L1565.4,322.2 L1565.8,322.2 L1566.2,322.2 L1566.6,322.3 L1567.0,322.3 L1567.4,322.3 L1567.8,322.3 L1568.2,322.4 L1568.6,322.4 L1569.0,322.5 L1569.4,322.5 L1569.8,322.5 L1570.2,322.6 L1570.6,322.6 L1571.0,322.7 L1571.4,322.8 L1571.8,322.8 L1572.2,322.9 L1572.6,322.9 L1573.0,323.0 L1573.4,323.1 L1573.8,323.1 L1574.2,323.2 L1574.6,323.3 L1575.0,323.3 L1575.4,323.4 L1575.8,323.5 L1576.2,323.6 L1576.6,323.7 L1577.0,323.7 L1577.4,323.8 L1577.8,323.9 L1578.2,324.0 L1578.6,324.1 L1579.0,324.1 L1579.4,324.2 L1579.8,324.3 L1580.2,324.4 L1580.6,324.5 L1581.0,324.6 L1581.4,324.7 L1581.8,324.7 L1582.2,324.8 L1582.6,324.9 L1583.0,325.0 L1583.4,325.1 L1583.8,325.2 L1584.2,325.3 L1584.6,325.4 L1585.0,325.5 L1585.4,325.5 L1585.8,325.6 L1586.2,325.7 L1586.6,325.8 L1587.0,325.9 L1587.4,326.0 L1587.8,326.1 L1588.2,326.2 L1588.6,326.3 L1589.0,326.3 L1589.4,326.4 L1589.8,326.5 L1590.2,326.6 L1590.6,326.7 L1591.0,326.8 L1591.4,326.8 L1591.8,326.9 L1592.2,327.0 L1592.6,327.1 L1593.0,327.2 L1593.4,327.3 L1593.8,327.3 L1594.2,327.4 L1594.6,327.5 L1595.0,327.6 L1595.4,327.6 L1595.8,327.7 L1596.2,327.8 L1596.6,327.9 L1597.0,327.9 L1597.4,328.0 L1597.8,328.1 L1598.2,328.2 L1598.6,328.2 L1599.0,328.3 L1599.4,328.4 L1599.8,328.4 L1600.2,328.5 L1600.6,328.6 L1601.0,328.6 L1601.4,328.7 L1601.8,328.8 L1602.2,328.8 L1602.6,328.9 L1603.0,329.0 L1603.4,329.0 L1603.8,329.1 L1604.2,329.1 L1604.6,329.2 L1605.0,329.3 L1605.4,329.3 L1605.8,329.4 L1606.2,329.4 L1606.6,329.5 L1607.0,329.5 L1607.4,329.6 L1607.8,329.6 L1608.2,329.7 L1608.6,329.8 L1609.0,329.8 L1609.4,329.9 L1609.8,329.9 L1610.2,330.0 L1610.6,330.0 L1611.0,330.0 L1611.4,330.1 L1611.8,330.1 L1612.2,330.2 L1612.6,330.2 L1613.0,330.3 L1613.4,330.3 L1613.8,330.4 L1614.2,330.4 L1614.6,330.4 L1615.0,330.5 L1615.4,330.5 L1615.8,330.6 L1616.2,330.6 L1616.6,330.6 L1617.0,330.7 L1617.4,330.7 L1617.8,330.8 L1618.2,330.8 L1618.6,330.8 L1619.0,330.9 L1619.4,330.9 L1619.8,330.9 L1620.2,331.0 L1620.6,331.0 L1621.0,331.0 L1621.4,331.1 L1621.8,331.1 L1622.2,331.1 L1622.6,331.1 L1623.0,331.2 L1623.4,331.2 L1623.8,331.2 L1624.2,331.3 L1624.6,331.3 L1625.0,331.3 L1625.4,331.3 L1625.8,331.4 L1626.2,331.4 L1626.6,331.4 L1627.0,331.4 L1627.4,331.5 L1627.8,331.5 L1628.2,331.5 L1628.6,331.5 L1629.0,331.6 L1629.4,331.6 L1629.8,331.6 L1630.2,331.6 L1630.6,331.6 L1631.0,331.7 L1631.4,331.7 L1631.8,331.7 L1632.2,331.7 L1632.6,331.7 L1633.0,331.8 L1633.4,331.8 L1633.8,331.8 L1634.2,331.8 L1634.6,331.8 L1635.0,331.9 L1635.4,331.9 L1635.8,331.9 L1636.2,331.9 L1636.6,331.9 L1637.0,331.9 L1637.4,332.0 L1637.8,332.0 L1638.2,332.0 L1638.6,332.0 L1639.0,332.0 L1639.4,332.0 L1639.8,332.0 L1640.2,332.1 L1640.6,332.1 L1641.0,332.1 L1641.4,332.1 L1641.8,332.1 L1642.2,332.1 L1642.6,332.1 L1643.0,332.1 L1643.4,332.2 L1643.8,332.2 L1644.2,332.2 L1644.6,332.2 L1645.0,332.2 L1645.4,332.2 L1645.8,332.2 L1646.2,332.2 L1646.6,332.2 L1647.0,332.3 L1647.4,332.3 L1647.8,332.3 L1648.2,332.3 L1648.6,332.3 L1649.0,332.3 L1649.4,332.3 L1649.8,332.3 L1650.2,332.3 L1650.6,332.3 L1651.0,332.3 L1651.4,332.4 L1651.8,332.4 L1652.2,332.4 L1652.6,332.4 L1653.0,332.4 L1653.4,332.4 L1653.8,332.4 L1654.2,332.4 L1654.6,332.4 L1655.0,332.4 L1655.4,332.4 L1655.8,332.4 L1656.2,332.4 L1656.6,332.4 L1657.0,332.4 L1657.4,332.5 L1657.8,332.5 L1658.2,332.5 L1658.6,332.5 L1659.0,332.5 L1659.4,332.5 L1659.8,332.5 L1660.2,332.5 L1660.6,332.5 L1661.0,332.5 L1661.4,332.5 L1661.8,332.5 L1662.2,332.5 L1662.6,332.5 L1663.0,332.5 L1663.4,332.5 L1663.8,332.5 L1664.2,332.5 L1664.6,332.5 L1665.0,332.5 L1665.4,332.5 L1665.8,332.5 L1666.2,332.6 L1666.6,332.6 L1667.0,332.6 L1667.4,332.6 L1667.8,332.6 L1668.2,332.6 L1668.6,332.6 L1669.0,332.6 L1669.4,332.6 L1669.8,332.6 L1670.2,332.6 L1670.6,332.6 L1671.0,332.6 L1671.4,332.6 L1671.8,332.6 L1672.2,332.6 L1672.6,332.6 L1673.0,332.6 L1673.4,332.6 L1673.8,332.6 L1674.2,332.6 L1674.6,332.6 L1675.0,332.6 L1675.4,332.6 L1675.8,332.6 L1676.2,332.6 L1676.6,332.6 L1677.0,332.6 L1677.4,332.6 L1677.8,332.6 L1678.2,332.6 L1678.6,332.6 L1679.0,332.6 L1679.4,332.6 L1679.8,332.6 L1680.2,332.6 L1680.6,332.6 L1681.0,332.6 L1681.4,332.6 L1681.8,332.6 L1682.2,332.6 L1682.6,332.6 L1683.0,332.6 L1683.4,332.6 L1683.8,332.6 L1684.2,332.6 L1684.6,332.6 L1685.0,332.6 L1685.4,332.6 L1685.8,332.6 L1686.2,332.6 L1686.6,332.6 L1687.0,332.6 L1687.4,332.6 L1687.8,332.6 L1688.2,332.6 L1688.6,332.6 L1689.0,332.6 L1689.4,332.6 L1689.8,332.6 L1690.2,332.6 L1690.6,332.6 L1691.0,332.6 L1691.4,332.6 L1691.8,332.6 L1692.2,332.6 L1692.6,332.6 L1693.0,332.6 L1693.4,332.6 L1693.8,332.6 L1694.2,332.6 L1694.6,332.6 L1695.0,332.6 L1695.4,332.6 L1695.8,332.6 L1696.2,332.6 L1696.6,332.6 L1697.0,332.6 L1697.4,332.6 L1697.8,332.6 L1698.2,332.6 L1698.6,332.6 L1699.0,332.6 L1699.4,332.6 L1699.8,332.6 L1700.2,332.6 L1700.6,332.5 L1701.0,332.5 L1701.4,332.5 L1701.8,332.5 L1702.2,332.5 L1702.6,332.5 L1703.0,332.5 L1703.4,332.5 L1703.8,332.5 L1704.2,332.5 L1704.6,332.5 L1705.0,332.5 L1705.4,332.5 L1705.8,332.5 L1706.2,332.5 L1706.6,332.5 L1707.0,332.5 L1707.4,332.5 L1707.8,332.5 L1708.2,332.5 L1708.6,332.5 L1709.0,332.5 L1709.4,332.5 L1709.8,332.5 L1710.2,332.4 L1710.6,332.4 L1711.0,332.4 L1711.4,332.4 L1711.8,332.4 L1712.2,332.4 L1712.6,332.4 L1713.0,332.4 L1713.4,332.4 L1713.8,332.4 L1714.2,332.4 L1714.6,332.4 L1715.0,332.4 L1715.4,332.4 L1715.8,332.4 L1716.2,332.4 L1716.6,332.4 L1717.0,332.3 L1717.4,332.3 L1717.8,332.3 L1718.2,332.3 L1718.6,332.3 L1719.0,332.3 L1719.4,332.3 L1719.8,332.3 L1720.2,332.3 L1720.6,332.3 L1721.0,332.3 L1721.4,332.3 L1721.8,332.3 L1722.2,332.3 L1722.6,332.2 L1723.0,332.2 L1723.4,332.2 L1723.8,332.2 L1724.2,332.2 L1724.6,332.2 L1725.0,332.2 L1725.4,332.2 L1725.8,332.2 L1726.2,332.2 L1726.6,332.2 L1727.0,332.1 L1727.4,332.1 L1727.8,332.1 L1728.2,332.1 L1728.6,332.1 L1729.0,332.1 L1729.4,332.1 L1729.8,332.1 L1730.2,332.1 L1730.6,332.1 L1731.0,332.0 L1731.4,332.0 L1731.8,332.0 L1732.2,332.0 L1732.6,332.0 L1733.0,332.0 L1733.4,332.0 L1733.8,332.0 L1734.2,331.9 L1734.6,331.9 L1735.0,331.9 L1735.4,331.9 L1735.8,331.9 L1736.2,331.9 L1736.6,331.9 L1737.0,331.9 L1737.4,331.8 L1737.8,331.8 L1738.2,331.8 L1738.6,331.8 L1739.0,331.8 L1739.4,331.8 L1739.8,331.8 L1740.2,331.7 L1740.6,331.7 L1741.0,331.7 L1741.4,331.7 L1741.8,331.7 L1742.2,331.7 L1742.6,331.6 L1743.0,331.6 L1743.4,331.6 L1743.8,331.6 L1744.2,331.6 L1744.6,331.6 L1745.0,331.5 L1745.4,331.5 L1745.8,331.5 L1746.2,331.5 L1746.6,331.5 L1747.0,331.4 L1747.4,331.4 L1747.8,331.4 L1748.2,331.4 L1748.6,331.4 L1749.0,331.3 L1749.4,331.3 L1749.8,331.3 L1750.2,331.3 L1750.6,331.3 L1751.0,331.2 L1751.4,331.2 L1751.8,331.2 L1752.2,331.2 L1752.6,331.1 L1753.0,331.1 L1753.4,331.1 L1753.8,331.1 L1754.2,331.0 L1754.6,331.0 L1755.0,331.0 L1755.4,331.0 L1755.8,330.9 L1756.2,330.9 L1756.6,330.9 L1757.0,330.9 L1757.4,330.8 L1757.8,330.8 L1758.2,330.8 L1758.6,330.7 L1759.0,330.7 L1759.4,330.7 L1759.8,330.6 L1760.2,330.6 L1760.6,330.6 L1761.0,330.5 L1761.4,330.5 L1761.8,330.5 L1762.2,330.4 L1762.6,330.4 L1763.0,330.3 L1763.4,330.3 L1763.8,330.3 L1764.2,330.2 L1764.6,330.2 L1765.0,330.1 L1765.4,330.1 L1765.8,330.1 L1766.2,330.0 L1766.6,330.0 L1767.0,329.9 L1767.4,329.9 L1767.8,329.8 L1768.2,329.8 L1768.6,329.7 L1769.0,329.7 L1769.4,329.6 L1769.8,329.5 L1770.2,329.5 L1770.6,329.4 L1771.0,329.4 L1771.4,329.3 L1771.8,329.2 L1772.2,329.2 L1772.6,329.1 L1773.0,329.0 L1773.4,329.0 L1773.8,328.9 L1774.2,328.8 L1774.6,328.7 L1775.0,328.6 L1775.4,328.6 L1775.8,328.5 L1776.2,328.4 L1776.6,328.3 L1777.0,328.2 L1777.4,328.1 L1777.8,328.0 L1778.2,327.9 L1778.6,327.8 L1779.0,327.7 L1779.4,327.6 L1779.8,327.4 L1780.2,327.3 L1780.6,327.2 L1781.0,327.1 L1781.4,326.9 L1781.8,326.8 L1782.2,326.6 L1782.6,326.5 L1783.0,326.3 L1783.4,326.2 L1783.8,326.0 L1784.2,325.9 L1784.6,325.7 L1785.0,325.5 L1785.4,325.3 L1785.8,325.1 L1786.2,324.9 L1786.6,324.7 L1787.0,324.5 L1787.4,324.3 L1787.8,324.1 L1788.2,323.9 L1788.6,323.6 L1789.0,323.4 L1789.4,323.2 L1789.8,322.9 L1790.2,322.6 L1790.6,322.4 L1791.0,322.1 L1791.4,321.8 L1791.8,321.5 L1792.2,321.2 L1792.6,320.9 L1793.0,320.6 L1793.4,320.3 L1793.8,319.9 L1794.2,319.6 L1794.6,319.3 L1795.0,318.9 L1795.4,318.5 L1795.8,318.2 L1796.2,317.8 L1796.6,317.4 L1797.0,317.0 L1797.4,316.6 L1797.8,316.2 L1798.2,315.8 L1798.6,315.3 L1799.0,314.9 L1799.4,314.5 L1799.8,314.0 L1800.2,313.6 L1800.6,313.1 L1801.0,312.6 L1801.4,312.2 L1801.8,311.7 L1802.2,311.2 L1802.6,310.7 L1803.0,310.2 L1803.4,309.7 L1803.8,309.2 L1804.2,308.7 L1804.6,308.2 L1805.0,307.7 L1805.4,307.2 L1805.8,306.8 L1806.2,306.3 L1806.6,305.8 L1807.0,305.3 L1807.4,304.8 L1807.8,304.3 L1808.2,303.9 L1808.6,303.4 L1809.0,303.0 L1809.4,302.5 L1809.8,302.1 L1810.2,301.7 L1810.6,301.3 L1811.0,301.0 L1811.4,300.6 L1811.8,300.3 L1812.2,300.0 L1812.6,299.7 L1813.0,299.5 L1813.4,299.2 L1813.8,299.0 L1814.2,298.9 L1814.6,298.7 L1815.0,298.6 L1815.4,298.5 L1815.8,298.5 L1816.2,298.4 L1816.6,298.4 L1817.0,298.5 L1817.4,298.6 L1817.8,298.7 L1818.2,298.8 L1818.6,298.9 L1819.0,299.1 L1819.4,299.3 L1819.8,299.6 L1820.2,299.8 L1820.6,300.1 L1821.0,300.4 L1821.4,300.7 L1821.8,301.0 L1822.2,301.4 L1822.6,301.8 L1823.0,302.2 L1823.4,302.6 L1823.8,303.0 L1824.2,303.4 L1824.6,303.8 L1825.0,304.2 L1825.4,304.7 L1825.8,305.1 L1826.2,305.6 L1826.6,306.0 L1827.0,306.5 L1827.4,306.9 L1827.8,307.4 L1828.2,307.8 L1828.6,308.3 L1829.0,308.7 L1829.4,309.2 L1829.8,309.6 L1830.2,310.1 L1830.6,310.5 L1831.0,310.9 L1831.4,311.3 L1831.8,311.8 L1832.2,312.2 L1832.6,312.6 L1833.0,313.0 L1833.4,313.4 L1833.8,313.7 L1834.2,314.1 L1834.6,314.5 L1835.0,314.8 L1835.4,315.2 L1835.8,315.5 L1836.2,315.9 L1836.6,316.2 L1837.0,316.5 L1837.4,316.8 L1837.8,317.1 L1838.2,317.4 L1838.6,317.7 L1839.0,318.0 L1839.4,318.3 L1839.8,318.5 L1840.2,318.8 L1840.6,319.0 L1841.0,319.3 L1841.4,319.5 L1841.8,319.7 L1842.2,319.9 L1842.6,320.1 L1843.0,320.4 L1843.4,320.6 L1843.8,320.7 L1844.2,320.9 L1844.6,321.1 L1845.0,321.3 L1845.4,321.4 L1845.8,321.6 L1846.2,321.8 L1846.6,321.9 L1847.0,322.0 L1847.4,322.2 L1847.8,322.3 L1848.2,322.4 L1848.6,322.6 L1849.0,322.7 L1849.4,322.8 L1849.8,322.9 L1850.2,323.0 L1850.6,323.1 L1851.0,323.2 L1851.4,323.3 L1851.8,323.4 L1852.2,323.4 L1852.6,323.5 L1853.0,323.6 L1853.4,323.7 L1853.8,323.7 L1854.2,323.8 L1854.6,323.9 L1855.0,323.9 L1855.4,324.0 L1855.8,324.0 L1856.2,324.1 L1856.6,324.1 L1857.0,324.2 L1857.4,324.2 L1857.8,324.2 L1858.2,324.3 L1858.6,324.3 L1859.0,324.3 L1859.4,324.4 L1859.8,324.4 L1860.2,324.4 L1860.6,324.4 L1861.0,324.5 L1861.4,324.5 L1861.8,324.5 L1862.2,324.5 L1862.6,324.5 L1863.0,324.5 L1863.4,324.5 L1863.8,324.5 L1864.2,324.5 L1864.6,324.5 L1865.0,324.5 L1865.4,324.5 L1865.8,324.5 L1866.2,324.5 L1866.6,324.5 L1867.0,324.5 L1867.4,324.4 L1867.8,324.4 L1868.2,324.4 L1868.6,324.4 L1869.0,324.3 L1869.4,324.3 L1869.8,324.2 L1870.2,324.2 L1870.6,324.1 L1871.0,324.1 L1871.4,324.0 L1871.8,323.9 L1872.2,323.8 L1872.6,323.7 L1873.0,323.6 L1873.4,323.5 L1873.8,323.4 L1874.2,323.3 L1874.6,323.2 L1875.0,323.0 L1875.4,322.9 L1875.8,322.7 L1876.2,322.5 L1876.6,322.3 L1877.0,322.1 L1877.4,321.9 L1877.8,321.7 L1878.2,321.5 L1878.6,321.2 L1879.0,320.9 L1879.4,320.7 L1879.8,320.4 L1880.2,320.1 L1880.6,319.7 L1881.0,319.4 L1881.4,319.0 L1881.8,318.6 L1882.2,318.2 L1882.6,317.8 L1883.0,317.4 L1883.4,317.0 L1883.8,316.5 L1884.2,316.0 L1884.6,315.5 L1885.0,315.0 L1885.4,314.5 L1885.8,314.0 L1886.2,313.4 L1886.6,312.9 L1887.0,312.3 L1887.4,311.7 L1887.8,311.1 L1888.2,310.6 L1888.6,310.0 L1889.0,309.4 L1889.4,308.8 L1889.8,308.2 L1890.2,307.6 L1890.6,307.1 L1891.0,306.5 L1891.4,306.0 L1891.8,305.5 L1892.2,305.1 L1892.6,304.6 L1893.0,304.2 L1893.4,303.9 L1893.8,303.6 L1894.2,303.3 L1894.6,303.1 L1895.0,302.9 L1895.4,302.8 L1895.8,302.8 L1896.2,302.8 L1896.6,302.9 L1897.0,303.0 L1897.4,303.2 L1897.8,303.5 L1898.2,303.8 L1898.6,304.2 L1899.0,304.6 L1899.4,305.0 L1899.8,305.5 L1900.2,306.0 L1900.6,306.5 L1901.0,307.1 L1901.4,307.7 L1901.8,308.3 L1902.2,308.9 L1902.6,309.5 L1903.0,310.1 L1903.4,310.8 L1903.8,311.4 L1904.2,312.0 L1904.6,312.6 L1905.0,313.3 L1905.4,313.9 L1905.8,314.5 L1906.2,315.0 L1906.6,315.6 L1907.0,316.2 L1907.4,316.7 L1907.8,317.3 L1908.2,317.8 L1908.6,318.3 L1909.0,318.8 L1909.4,319.2 L1909.8,319.7 L1910.2,320.1 L1910.6,320.5 L1911.0,320.9 L1911.4,321.3 L1911.8,321.7 L1912.2,322.0 L1912.6,322.4 L1913.0,322.7 L1913.4,323.0 L1913.8,323.3 L1914.2,323.5 L1914.6,323.8 L1915.0,324.0 L1915.4,324.3 L1915.8,324.5 L1916.2,324.7 L1916.6,324.9 L1917.0,325.1 L1917.4,325.3 L1917.8,325.4 L1918.2,325.6 L1918.6,325.7 L1919.0,325.9 L1919.4,326.0 L1919.8,326.1 L1920.2,326.2 L1920.6,326.3 L1921.0,326.4 L1921.4,326.5 L1921.8,326.6 L1922.2,326.7 L1922.6,326.8 L1923.0,326.8 L1923.4,326.9 L1923.8,327.0 L1924.2,327.0 L1924.6,327.1 L1925.0,327.1 L1925.4,327.1 L1925.8,327.2 L1926.2,327.2 L1926.6,327.3 L1927.0,327.3 L1927.4,327.3 L1927.8,327.3 L1928.2,327.4 L1928.6,327.4 L1929.0,327.4 L1929.4,327.4 L1929.8,327.4 L1930.2,327.4 L1930.6,327.5 L1931.0,327.5 L1931.4,327.5 L1931.8,327.5 L1932.2,327.5 L1932.6,327.5 L1933.0,327.5 L1933.4,327.5 L1933.8,327.4 L1934.2,327.4 L1934.6,327.4 L1935.0,327.4 L1935.4,327.4 L1935.8,327.4 L1936.2,327.4 L1936.6,327.4 L1937.0,327.3 L1937.4,327.3 L1937.8,327.3 L1938.2,327.3 L1938.6,327.2 L1939.0,327.2 L1939.4,327.2 L1939.8,327.1 L1940.2,327.1 L1940.6,327.1 L1941.0,327.0 L1941.4,327.0 L1941.8,326.9 L1942.2,326.9 L1942.6,326.9 L1943.0,326.8 L1943.4,326.8 L1943.8,326.7 L1944.2,326.7 L1944.6,326.6 L1945.0,326.6 L1945.4,326.5 L1945.8,326.4 L1946.2,326.4 L1946.6,326.3 L1947.0,326.2 L1947.4,326.2 L1947.8,326.1 L1948.2,326.0 L1948.6,326.0 L1949.0,325.9 L1949.4,325.8 L1949.8,325.8 L1950.2,325.7 L1950.6,325.6 L1951.0,325.5 L1951.4,325.4 L1951.8,325.3 L1952.2,325.3 L1952.6,325.2 L1953.0,325.1 L1953.4,325.0 L1953.8,324.9 L1954.2,324.8 L1954.6,324.7 L1955.0,324.6 L1955.4,324.5 L1955.8,324.4 L1956.2,324.3 L1956.6,324.2 L1957.0,324.1 L1957.4,324.0 L1957.8,323.9 L1958.2,323.8 L1958.6,323.6 L1959.0,323.5 L1959.4,323.4 L1959.8,323.3 L1960.2,323.2 L1960.6,323.1 L1961.0,322.9 L1961.4,322.8 L1961.8,322.7 L1962.2,322.6 L1962.6,322.5 L1963.0,322.3 L1963.4,322.2 L1963.8,322.1 L1964.2,322.0 L1964.6,321.8 L1965.0,321.7 L1965.4,321.6 L1965.8,321.5 L1966.2,321.4 L1966.6,321.2 L1967.0,321.1 L1967.4,321.0 L1967.8,320.9 L1968.2,320.7 L1968.6,320.6 L1969.0,320.5 L1969.4,320.4 L1969.8,320.3 L1970.2,320.2 L1970.6,320.1 L1971.0,320.0 L1971.4,319.9 L1971.8,319.8 L1972.2,319.7 L1972.6,319.6 L1973.0,319.5 L1973.4,319.4 L1973.8,319.3 L1974.2,319.2 L1974.6,319.2 L1975.0,319.1 L1975.4,319.0 L1975.8,319.0 L1976.2,318.9 L1976.6,318.8 L1977.0,318.8 L1977.4,318.8 L1977.8,318.7 L1978.2,318.7 L1978.6,318.7 L1979.0,318.6 L1979.4,318.6 L1979.8,318.6 L1980.2,318.6 L1980.6,318.6 L1981.0,318.6 L1981.4,318.6 L1981.8,318.6 L1982.2,318.6 L1982.6,318.7 L1983.0,318.7 L1983.4,318.7 L1983.8,318.8 L1984.2,318.8 L1984.6,318.9 L1985.0,318.9 L1985.4,319.0 L1985.8,319.0 L1986.2,319.1 L1986.6,319.2 L1987.0,319.3 L1987.4,319.3 L1987.8,319.4 L1988.2,319.5 L1988.6,319.6 L1989.0,319.7 L1989.4,319.8 L1989.8,319.9 L1990.2,320.0 L1990.6,320.1 L1991.0,320.2 L1991.4,320.3 L1991.8,320.4 L1992.2,320.5 L1992.6,320.6 L1993.0,320.7 L1993.4,320.8 L1993.8,320.9 L1994.2,321.0 L1994.6,321.1 L1995.0,321.2 L1995.4,321.3 L1995.8,321.4 L1996.2,321.5 L1996.6,321.6 L1997.0,321.7 L1997.4,321.8 L1997.8,321.9 L1998.2,322.0 L1998.6,322.1 L1999.0,322.2 L1999.4,322.3 L1999.8,322.4 L2000.2,322.5 L2000.6,322.6 L2001.0,322.7 L2001.4,322.8 L2001.8,322.8 L2002.2,322.9 L2002.6,323.0 L2003.0,323.1 L2003.4,323.2 L2003.8,323.2 L2004.2,323.3 L2004.6,323.4 L2005.0,323.5 L2005.4,323.5 L2005.8,323.6 L2006.2,323.7 L2006.6,323.7 L2007.0,323.8 L2007.4,323.8 L2007.8,323.9 L2008.2,323.9 L2008.6,324.0 L2009.0,324.0 L2009.4,324.1 L2009.8,324.1 L2010.2,324.1 L2010.6,324.2 L2011.0,324.2 L2011.4,324.2 L2011.8,324.3 L2012.2,324.3 L2012.6,324.3 L2013.0,324.3 L2013.4,324.3 L2013.8,324.4 L2014.2,324.4 L2014.6,324.4 L2015.0,324.4 L2015.4,324.4 L2015.8,324.4 L2016.2,324.4 L2016.6,324.4 L2017.0,324.4 L2017.4,324.3 L2017.8,324.3 L2018.2,324.3 L2018.6,324.3 L2019.0,324.3 L2019.4,324.2 L2019.8,324.2 L2020.2,324.2 L2020.6,324.2 L2021.0,324.1 L2021.4,324.1 L2021.8,324.0 L2022.2,324.0 L2022.6,323.9 L2023.0,323.9 L2023.4,323.8 L2023.8,323.8 L2024.2,323.7 L2024.6,323.7 L2025.0,323.6 L2025.4,323.5 L2025.8,323.5 L2026.2,323.4 L2026.6,323.3 L2027.0,323.3 L2027.4,323.2 L2027.8,323.1 L2028.2,323.0 L2028.6,322.9 L2029.0,322.9 L2029.4,322.8 L2029.8,322.7 L2030.2,322.6 L2030.6,322.5 L2031.0,322.4 L2031.4,322.3 L2031.8,322.2 L2032.2,322.1 L2032.6,322.0 L2033.0,321.9 L2033.4,321.8 L2033.8,321.7 L2034.2,321.6 L2034.6,321.5 L2035.0,321.4 L2035.4,321.2 L2035.8,321.1 L2036.2,321.0 L2036.6,320.9 L2037.0,320.8 L2037.4,320.7 L2037.8,320.6 L2038.2,320.5 L2038.6,320.3 L2039.0,320.2 L2039.4,320.1 L2039.8,320.0 L2040.2,319.9 L2040.6,319.8 L2041.0,319.7 L2041.4,319.6 L2041.8,319.5 L2042.2,319.4 L2042.6,319.3 L2043.0,319.2 L2043.4,319.1 L2043.8,319.0 L2044.2,318.9 L2044.6,318.8 L2045.0,318.8 L2045.4,318.7 L2045.8,318.6 L2046.2,318.5 L2046.6,318.5 L2047.0,318.4 L2047.4,318.4 L2047.8,318.3 L2048.2,318.3 L2048.6,318.2 L2049.0,318.2 L2049.4,318.1 L2049.8,318.1 L2050.2,318.1 L2050.6,318.1 L2051.0,318.1 L2051.4,318.1 L2051.8,318.1 L2052.2,318.1 L2052.6,318.1 L2053.0,318.1 L2053.4,318.2 L2053.8,318.2 L2054.2,318.2 L2054.6,318.3 L2055.0,318.3 L2055.4,318.4 L2055.8,318.5 L2056.2,318.5 L2056.6,318.6 L2057.0,318.7 L2057.4,318.7 L2057.8,318.8 L2058.2,318.9 L2058.6,319.0 L2059.0,319.1 L2059.4,319.2 L2059.8,319.3 L2060.2,319.4 L2060.6,319.6 L2061.0,319.7 L2061.4,319.8 L2061.8,319.9 L2062.2,320.0 L2062.6,320.2 L2063.0,320.3 L2063.4,320.4 L2063.8,320.5 L2064.2,320.7 L2064.6,320.8 L2065.0,321.0 L2065.4,321.1 L2065.8,321.2 L2066.2,321.4 L2066.6,321.5 L2067.0,321.6 L2067.4,321.8 L2067.8,321.9 L2068.2,322.1 L2068.6,322.2 L2069.0,322.3 L2069.4,322.5 L2069.8,322.6 L2070.2,322.8 L2070.6,322.9 L2071.0,323.0 L2071.4,323.2 L2071.8,323.3 L2072.2,323.4 L2072.6,323.6 L2073.0,323.7 L2073.4,323.8 L2073.8,324.0 L2074.2,324.1 L2074.6,324.2 L2075.0,324.3 L2075.4,324.5 L2075.8,324.6 L2076.2,324.7 L2076.6,324.8 L2077.0,324.9 L2077.4,325.1 L2077.8,325.2 L2078.2,325.3 L2078.6,325.4 L2079.0,325.5 L2079.4,325.6 L2079.8,325.7 L2080.2,325.8 L2080.6,325.9 L2081.0,326.0 L2081.4,326.1 L2081.8,326.2 L2082.2,326.3 L2082.6,326.4 L2083.0,326.5 L2083.4,326.6 L2083.8,326.7 L2084.2,326.7 L2084.6,326.8 L2085.0,326.9 L2085.4,327.0 L2085.8,327.1 L2086.2,327.2 L2086.6,327.2 L2087.0,327.3 L2087.4,327.4 L2087.8,327.4 L2088.2,327.5 L2088.6,327.6 L2089.0,327.6 L2089.4,327.7 L2089.8,327.8 L2090.2,327.8 L2090.6,327.9 L2091.0,327.9 L2091.4,328.0 L2091.8,328.1 L2092.2,328.1 L2092.6,328.2 L2093.0,328.2 L2093.4,328.3 L2093.8,328.3 L2094.2,328.3 L2094.6,328.4 L2095.0,328.4 L2095.4,328.5 L2095.8,328.5 L2096.2,328.6 L2096.6,328.6 L2097.0,328.6 L2097.4,328.7 L2097.8,328.7 L2098.2,328.7 L2098.6,328.7 L2099.0,328.8 L2099.4,328.8 L2099.8,328.8 L2100.2,328.8 L2100.6,328.9 L2101.0,328.9 L2101.4,328.9 L2101.8,328.9 L2102.2,328.9 L2102.6,329.0 L2103.0,329.0 L2103.4,329.0 L2103.8,329.0 L2104.2,329.0 L2104.6,329.0 L2105.0,329.0 L2105.4,329.0 L2105.8,329.0 L2106.2,329.0 L2106.6,329.0 L2107.0,329.0 L2107.4,329.0 L2107.8,329.0 L2108.2,329.0 L2108.6,329.0 L2109.0,329.0 L2109.4,329.0 L2109.8,329.0 L2110.2,328.9 L2110.6,328.9 L2111.0,328.9 L2111.4,328.9 L2111.8,328.9 L2112.2,328.9 L2112.6,328.8 L2113.0,328.8 L2113.4,328.8 L2113.8,328.8 L2114.2,328.7 L2114.6,328.7 L2115.0,328.7 L2115.4,328.6 L2115.8,328.6 L2116.2,328.5 L2116.6,328.5 L2117.0,328.5 L2117.4,328.4 L2117.8,328.4 L2118.2,328.3 L2118.6,328.3 L2119.0,328.2 L2119.4,328.2 L2119.8,328.1 L2120.2,328.0 L2120.6,328.0 L2121.0,327.9 L2121.4,327.8 L2121.8,327.8 L2122.2,327.7 L2122.6,327.6 L2123.0,327.6 L2123.4,327.5 L2123.8,327.4 L2124.2,327.3 L2124.6,327.2 L2125.0,327.2 L2125.4,327.1 L2125.8,327.0 L2126.2,326.9 L2126.6,326.8 L2127.0,326.7 L2127.4,326.6 L2127.8,326.5 L2128.2,326.4 L2128.6,326.3 L2129.0,326.1 L2129.4,326.0 L2129.8,325.9 L2130.2,325.8 L2130.6,325.7 L2131.0,325.5 L2131.4,325.4 L2131.8,325.3 L2132.2,325.2 L2132.6,325.0 L2133.0,324.9 L2133.4,324.7 L2133.8,324.6 L2134.2,324.4 L2134.6,324.3 L2135.0,324.1 L2135.4,324.0 L2135.8,323.8 L2136.2,323.7 L2136.6,323.5 L2137.0,323.3 L2137.4,323.2 L2137.8,323.0 L2138.2,322.8 L2138.6,322.7 L2139.0,322.5 L2139.4,322.3 L2139.8,322.1 L2140.2,321.9 L2140.6,321.8 L2141.0,321.6 L2141.4,321.4 L2141.8,321.2 L2142.2,321.0 L2142.6,320.8 L2143.0,320.6 L2143.4,320.4 L2143.8,320.2 L2144.2,320.0 L2144.6,319.8 L2145.0,319.6 L2145.4,319.4 L2145.8,319.2 L2146.2,319.0 L2146.6,318.8 L2147.0,318.6 L2147.4,318.4 L2147.8,318.2 L2148.2,318.0 L2148.6,317.8 L2149.0,317.6 L2149.4,317.4 L2149.8,317.2 L2150.2,317.0 L2150.6,316.9 L2151.0,316.7 L2151.4,316.5 L2151.8,316.3 L2152.2,316.1 L2152.6,316.0 L2153.0,315.8 L2153.4,315.6 L2153.8,315.5 L2154.2,315.3 L2154.6,315.2 L2155.0,315.1 L2155.4,314.9 L2155.8,314.8 L2156.2,314.7 L2156.6,314.6 L2157.0,314.5 L2157.4,314.4 L2157.8,314.3 L2158.2,314.2 L2158.6,314.2 L2159.0,314.1 L2159.4,314.0 L2159.8,314.0 L2160.2,314.0 L2160.6,314.0 L2161.0,313.9 L2161.4,313.9 L2161.8,314.0 L2162.2,314.0 L2162.6,314.0 L2163.0,314.0 L2163.4,314.1 L2163.8,314.1 L2164.2,314.2 L2164.6,314.3 L2165.0,314.4 L2165.4,314.4 L2165.8,314.5 L2166.2,314.7 L2166.6,314.8 L2167.0,314.9 L2167.4,315.0 L2167.8,315.2 L2168.2,315.3 L2168.6,315.5 L2169.0,315.6 L2169.4,315.8 L2169.8,316.0 L2170.2,316.1 L2170.6,316.3 L2171.0,316.5 L2171.4,316.7 L2171.8,316.9 L2172.2,317.1 L2172.6,317.3 L2173.0,317.5 L2173.4,317.7 L2173.8,317.9 L2174.2,318.1 L2174.6,318.3 L2175.0,318.5 L2175.4,318.7 L2175.8,318.9 L2176.2,319.1 L2176.6,319.3 L2177.0,319.6 L2177.4,319.8 L2177.8,320.0 L2178.2,320.2 L2178.6,320.4 L2179.0,320.6 L2179.4,320.8 L2179.8,321.0 L2180.2,321.3 L2180.6,321.5 L2181.0,321.7 L2181.4,321.9 L2181.8,322.1 L2182.2,322.3 L2182.6,322.5 L2183.0,322.7 L2183.4,322.9 L2183.8,323.1 L2184.2,323.3 L2184.6,323.4 L2185.0,323.6 L2185.4,323.8 L2185.8,324.0 L2186.2,324.2 L2186.6,324.4 L2187.0,324.5 L2187.4,324.7 L2187.8,324.9 L2188.2,325.0 L2188.6,325.2 L2189.0,325.4 L2189.4,325.5 L2189.8,325.7 L2190.2,325.8 L2190.6,326.0 L2191.0,326.1 L2191.4,326.3 L2191.8,326.4 L2192.2,326.6 L2192.6,326.7 L2193.0,326.9 L2193.4,327.0 L2193.8,327.1 L2194.2,327.2 L2194.6,327.4 L2195.0,327.5 L2195.4,327.6 L2195.8,327.7 L2196.2,327.9 L2196.6,328.0 L2197.0,328.1 L2197.4,328.2 L2197.8,328.3 L2198.2,328.4 L2198.6,328.5 L2199.0,328.6 L2199.4,328.7 L2199.8,328.8 L2200.2,328.9 L2200.6,329.0 L2201.0,329.1 L2201.4,329.2 L2201.8,329.3 L2202.2,329.4 L2202.6,329.4 L2203.0,329.5 L2203.4,329.6 L2203.8,329.7 L2204.2,329.8 L2204.6,329.8 L2205.0,329.9 L2205.4,330.0 L2205.8,330.0 L2206.2,330.1 L2206.6,330.2 L2207.0,330.2 L2207.4,330.3 L2207.8,330.4 L2208.2,330.4 L2208.6,330.5 L2209.0,330.5 L2209.4,330.6 L2209.8,330.7 L2210.2,330.7 L2210.6,330.8 L2211.0,330.8 L2211.4,330.9 L2211.8,330.9 L2212.2,331.0 L2212.6,331.0 L2213.0,331.0 L2213.4,331.1 L2213.8,331.1 L2214.2,331.2 L2214.6,331.2 L2215.0,331.3 L2215.4,331.3 L2215.8,331.3 L2216.2,331.4 L2216.6,331.4 L2217.0,331.4 L2217.4,331.5 L2217.8,331.5 L2218.2,331.6 L2218.6,331.6 L2219.0,331.6 L2219.4,331.6 L2219.8,331.7 L2220.2,331.7 L2220.6,331.7 L2221.0,331.8 L2221.4,331.8 L2221.8,331.8 L2222.2,331.8 L2222.6,331.9 L2223.0,331.9 L2223.4,331.9 L2223.8,332.0 L2224.2,332.0 L2224.6,332.0 L2225.0,332.0 L2225.4,332.0 L2225.8,332.1 L2226.2,332.1 L2226.6,332.1 L2227.0,332.1 L2227.4,332.2 L2227.8,332.2 L2228.2,332.2 L2228.6,332.2 L2229.0,332.2 L2229.4,332.3 L2229.8,332.3 L2230.2,332.3 L2230.6,332.3 L2231.0,332.3 L2231.4,332.3 L2231.8,332.4 L2232.2,332.4 L2232.6,332.4 L2233.0,332.4 L2233.4,332.4 L2233.8,332.4 L2234.2,332.5 L2234.6,332.5 L2235.0,332.5 L2235.4,332.5 L2235.8,332.5 L2236.2,332.5 L2236.6,332.5 L2237.0,332.6 L2237.4,332.6 L2237.8,332.6 L2238.2,332.6 L2238.6,332.6 L2239.0,332.6 L2239.4,332.6 L2239.8,332.7 L2240.2,332.7 L2240.6,332.7 L2241.0,332.7 L2241.4,332.7 L2241.8,332.7 L2242.2,332.7 L2242.6,332.7 L2243.0,332.8 L2243.4,332.8 L2243.8,332.8 L2244.2,332.8 L2244.6,332.8 L2245.0,332.8 L2245.4,332.8 L2245.8,332.8 L2246.2,332.8 L2246.6,332.8 L2247.0,332.9 L2247.4,332.9 L2247.8,332.9 L2248.2,332.9 L2248.6,332.9 L2249.0,332.9 L2249.4,332.9 L2249.8,332.9 L2250.2,332.9 L2250.6,332.9 L2251.0,333.0 L2251.4,333.0 L2251.8,333.0 L2252.2,333.0 L2252.6,333.0 L2253.0,333.0 L2253.4,333.0 L2253.8,333.0 L2254.2,333.0 L2254.6,333.0 L2255.0,333.0 L2255.4,333.0 L2255.8,333.1 L2256.2,333.1 L2256.6,333.1 L2257.0,333.1 L2257.4,333.1 L2257.8,333.1 L2258.2,333.1 L2258.6,333.1 L2259.0,333.1 L2259.4,333.1 L2259.8,333.1 L2260.2,333.1 L2260.6,333.1 L2261.0,333.1 L2261.4,333.2 L2261.8,333.2 L2262.2,333.2 L2262.6,333.2 L2263.0,333.2 L2263.4,333.2 L2263.8,333.2 L2264.2,333.2 L2264.6,333.2 L2265.0,333.2 L2265.4,333.2 L2265.8,333.2 L2266.2,333.2 L2266.6,333.2 L2267.0,333.2 L2267.4,333.2 L2267.8,333.3 L2268.2,333.3 L2268.6,333.3 L2269.0,333.3 L2269.4,333.3 L2269.8,333.3 L2270.2,333.3 L2270.6,333.3 L2271.0,333.3 L2271.4,333.3 L2271.8,333.3 L2272.2,333.3 L2272.6,333.3 L2273.0,333.3 L2273.4,333.3 L2273.8,333.3 L2274.2,333.3 L2274.6,333.3 L2275.0,333.3 L2275.4,333.4 L2275.8,333.4 L2276.2,333.4 L2276.6,333.4 L2277.0,333.4 L2277.4,333.4 L2277.8,333.4 L2278.2,333.4 L2278.6,333.4 L2279.0,333.4 L2279.4,333.4 L2279.8,333.4 L2280.2,333.4 L2280.6,333.4 L2281.0,333.4 L2281.4,333.4 L2281.8,333.4 L2282.2,333.4 L2282.6,333.4 L2283.0,333.4 L2283.4,333.4 L2283.8,333.4 L2284.2,333.5 L2284.6,333.5 L2285.0,333.5 L2285.4,333.5 L2285.8,333.5 L2286.2,333.5 L2286.6,333.5 L2287.0,333.5 L2287.4,333.5 L2287.8,333.5 L2288.2,333.5 L2288.6,333.5 L2289.0,333.5 L2289.4,333.5 L2289.8,333.5 L2290.2,333.5 L2290.6,333.5 L2291.0,333.5 L2291.4,333.5 L2291.8,333.5 L2292.2,333.5 L2292.6,333.5 L2293.0,333.5 L2293.4,333.5 L2293.8,333.5 L2294.2,333.5 L2294.6,333.5 L2295.0,333.5 L2295.4,333.6 L2295.8,333.6 L2296.2,333.6 L2296.6,333.6 L2297.0,333.6 L2297.4,333.6 L2297.8,333.6 L2298.2,333.6 L2298.6,333.6 L2299.0,333.6 L2299.4,333.6 L2299.8,333.6 L2300.2,333.6 L2300.6,333.6 L2301.0,333.6 L2301.4,333.6 L2301.8,333.6 L2302.2,333.6 L2302.6,333.6 L2303.0,333.6 L2303.4,333.6 L2303.8,333.6 L2304.2,333.6 L2304.6,333.6 L2305.0,333.6 L2305.4,333.6 L2305.8,333.6 L2306.2,333.6 L2306.6,333.6 L2307.0,333.6 L2307.4,333.6 L2307.8,333.6 L2308.2,333.6 L2308.6,333.6 L2309.0,333.7 L2309.4,333.7 L2309.8,333.7 L2310.2,333.7 L2310.6,333.7 L2311.0,333.7 L2311.4,333.7 L2311.8,333.7 L2312.2,333.7 L2312.6,333.7 L2313.0,333.7 L2313.4,333.7 L2313.8,333.7 L2314.2,333.7 L2314.6,333.7 L2315.0,333.7 L2315.4,333.7 L2315.8,333.7 L2316.2,333.7 L2316.6,333.7 L2317.0,333.7 L2317.4,333.7 L2317.8,333.7 L2318.2,333.7 L2318.6,333.7 L2319.0,333.7 L2319.4,333.7 L2319.8,333.7 L2320.2,333.7 L2320.6,333.7 L2321.0,333.7 L2321.4,333.7 L2321.8,333.7 L2322.2,333.7 L2322.6,333.7 L2323.0,333.7 L2323.4,333.7 L2323.8,333.7 L2324.2,333.7 L2324.6,333.7 L2325.0,333.7 L2325.4,333.7 L2325.8,333.7 L2326.2,333.7 L2326.6,333.7 L2327.0,333.7 L2327.4,333.8 L2327.8,333.8 L2328.2,333.8 L2328.6,333.8 L2329.0,333.8 L2329.4,333.8 L2329.8,333.8 L2330.2,333.8 L2330.6,333.8 L2331.0,333.8 L2331.4,333.8 L2331.8,333.8 L2332.2,333.8 L2332.6,333.8 L2333.0,333.8 L2333.4,333.8 L2333.8,333.8 L2334.2,333.8 L2334.6,333.8 L2335.0,333.8 L2335.4,333.8 L2335.8,333.8 L2336.2,333.8 L2336.6,333.8 L2337.0,333.8 L2337.4,333.8 L2337.8,333.8 L2338.2,333.8 L2338.6,333.8 L2339.0,333.8 L2339.4,333.8 L2339.8,333.8 L2340.2,333.8 L2340.6,333.8 L2341.0,333.8 L2341.4,333.8 L2341.8,333.8 L2342.2,333.8 L2342.6,333.8 L2343.0,333.8 L2343.4,333.8 L2343.8,333.8 L2344.2,333.8 L2344.6,333.8 L2345.0,333.8 L2345.4,333.8 L2345.8,333.8 L2346.2,333.8 L2346.6,333.8 L2347.0,333.8 L2347.4,333.8 L2347.8,333.8 L2348.2,333.8 L2348.6,333.8 L2349.0,333.8 L2349.4,333.8 L2349.8,333.8 L2350.2,333.8 L2350.6,333.8 L2351.0,333.8 L2351.4,333.8 L2351.8,333.8 L2352.2,333.9 L2352.6,333.9 L2353.0,333.9 L2353.4,333.9 L2353.8,333.9 L2354.2,333.9 L2354.6,333.9 L2355.0,333.9 L2355.4,333.9 L2355.8,333.9 L2356.2,333.9 L2356.6,333.9 L2357.0,333.9 L2357.4,333.9 L2357.8,333.9 L2358.2,333.9 L2358.6,333.9 L2359.0,333.9 L2359.4,333.9 L2359.8,333.9 L2360.2,333.9 L2360.6,333.9 L2361.0,333.9 L2361.4,333.9 L2361.8,333.9 L2362.2,333.9 L2362.6,333.9 L2363.0,333.9 L2363.4,333.9 L2363.8,333.9 L2364.2,333.9 L2364.6,333.9 L2365.0,333.9 L2365.4,333.9 L2365.8,333.9 L2366.2,333.9 L2366.6,333.9 L2367.0,333.9 L2367.4,333.9 L2367.8,333.9 L2368.2,333.9 L2368.6,333.9 L2369.0,333.9 L2369.4,333.9 L2369.8,333.9 L2370.2,333.9 L2370.6,333.9 L2371.0,333.9 L2371.4,333.9 L2371.8,333.9 L2372.2,333.9 L2372.6,333.9 L2373.0,333.9 L2373.4,333.9 L2373.8,333.9 L2374.2,333.9 L2374.6,333.9 L2375.0,333.9 L2375.4,333.9 L2375.8,333.9 L2376.2,333.9 L2376.6,333.9 L2377.0,333.9 L2377.4,333.9 L2377.8,333.9 L2378.2,333.9 L2378.6,333.9 L2379.0,333.9 L2379.4,333.9 L2379.8,333.9 L2380.2,333.9 L2380.6,333.9 L2381.0,333.9 L2381.4,333.9 L2381.8,333.9 L2382.2,333.9 L2382.6,333.9 L2383.0,333.9 L2383.4,333.9 L2383.8,333.9 L2384.2,333.9 L2384.6,333.9 L2385.0,333.9 L2385.4,333.9 L2385.8,333.9 L2386.2,333.9 L2386.6,333.9 L2387.0,333.9 L2387.4,333.9 L2387.8,333.9 L2388.2,333.9 L2388.6,334.0 L2389.0,334.0 L2389.4,334.0 L2389.8,334.0 L2390.2,334.0 L2390.6,334.0 L2391.0,334.0 L2391.4,334.0 L2391.8,334.0 L2392.2,334.0 L2392.6,334.0 L2393.0,334.0 L2393.4,334.0 L2393.8,334.0 L2394.2,334.0 L2394.6,334.0 L2395.0,334.0 L2395.4,334.0 L2395.8,334.0 L2396.2,334.0 L2396.6,334.0 L2397.0,334.0 L2397.4,334.0 L2397.8,334.0 L2398.2,334.0 L2398.6,334.0 L2399.0,334.0 L2399.4,334.0 L2399.8,334.0 L2400.2,334.0 L2400.6,334.0 L2401.0,334.0 L2401.4,334.0 L2401.8,334.0 L2402.2,334.0 L2402.6,334.0 L2403.0,334.0 L2403.4,334.0 L2403.8,334.0 L2404.2,334.0 L2404.6,334.0 L2405.0,334.0 L2405.4,334.0 L2405.8,334.0 L2406.2,334.0 L2406.6,334.0 L2407.0,334.0 L2407.4,334.0 L2407.8,334.0 L2408.2,334.0 L2408.6,334.0 L2409.0,334.0 L2409.4,334.0 L2409.8,334.0 L2410.2,334.0 L2410.6,334.0 L2411.0,334.0 L2411.4,334.0 L2411.8,334.0 L2412.2,334.0 L2412.6,334.0 L2413.0,334.0 L2413.4,334.0 L2413.8,334.0 L2414.2,334.0 L2414.6,334.0 L2415.0,334.0 L2415.4,334.0 L2415.8,334.0 L2416.2,334.0 L2416.6,334.0 L2417.0,334.0 L2417.4,334.0 L2417.8,334.0 L2418.2,334.0 L2418.6,334.0 L2419.0,334.0 L2419.4,334.0 L2419.8,334.0 L2420.2,334.0 L2420.6,334.0 L2421.0,334.0 L2421.4,334.0 L2421.8,334.0 L2422.2,334.0 L2422.6,334.0 L2423.0,334.0 L2423.4,334.0 L2423.8,334.0 L2424.2,334.0 L2424.6,334.0 L2425.0,334.0 L2425.4,334.0 L2425.8,334.0 L2426.2,334.0 L2426.6,334.0 L2427.0,334.0 L2427.4,334.0 L2427.8,334.0 L2428.2,334.0 L2428.6,334.0 L2429.0,334.0 L2429.4,334.0 L2429.8,334.0 L2430.2,334.0 L2430.6,334.0 L2431.0,334.0 L2431.4,334.0 L2431.8,334.0 L2432.2,334.0 L2432.6,334.0 L2433.0,334.0 L2433.4,334.0 L2433.8,334.0 L2434.2,334.0 L2434.6,334.0 L2435.0,334.0 L2435.4,334.0 L2435.8,334.0 L2436.2,334.0 L2436.6,334.0 L2437.0,334.0 L2437.4,334.0 L2437.8,334.0 L2438.2,334.0 L2438.6,334.0 L2439.0,334.0 L2439.4,334.0 L2439.8,334.0 L2440.2,334.0 L2440.6,334.0 L2441.0,334.0 L2441.4,334.0 L2441.8,334.0 L2442.2,334.0 L2442.6,334.0 L2443.0,334.0 L2443.4,334.0 L2443.8,334.0 L2444.2,334.0 L2444.6,334.0 L2445.0,334.0 L2445.4,334.0 L2445.8,334.0 L2446.2,334.0 L2446.6,334.0 L2447.0,334.0 L2447.4,334.0 L2447.8,334.1 L2448.2,334.1 L2448.6,334.1 L2449.0,334.1 L2449.4,334.1 L2449.8,334.1 L2450.2,334.1 L2450.6,334.1 L2451.0,334.1"/>
<path class="tr" stroke="#138883" stroke-width="7.5" d="M1307.0,585.2 L1307.4,585.2 L1307.8,585.2 L1308.2,585.2 L1308.6,585.2 L1309.0,585.2 L1309.4,585.2 L1309.8,585.2 L1310.2,585.2 L1310.6,585.2 L1311.0,585.2 L1311.4,585.2 L1311.8,585.2 L1312.2,585.2 L1312.6,585.2 L1313.0,585.2 L1313.4,585.2 L1313.8,585.2 L1314.2,585.2 L1314.6,585.2 L1315.0,585.2 L1315.4,585.2 L1315.8,585.2 L1316.2,585.2 L1316.6,585.2 L1317.0,585.2 L1317.4,585.2 L1317.8,585.2 L1318.2,585.2 L1318.6,585.2 L1319.0,585.2 L1319.4,585.2 L1319.8,585.2 L1320.2,585.2 L1320.6,585.2 L1321.0,585.2 L1321.4,585.2 L1321.8,585.2 L1322.2,585.2 L1322.6,585.2 L1323.0,585.2 L1323.4,585.2 L1323.8,585.2 L1324.2,585.2 L1324.6,585.2 L1325.0,585.2 L1325.4,585.2 L1325.8,585.2 L1326.2,585.2 L1326.6,585.2 L1327.0,585.2 L1327.4,585.2 L1327.8,585.2 L1328.2,585.2 L1328.6,585.2 L1329.0,585.2 L1329.4,585.2 L1329.8,585.2 L1330.2,585.2 L1330.6,585.2 L1331.0,585.2 L1331.4,585.2 L1331.8,585.2 L1332.2,585.2 L1332.6,585.2 L1333.0,585.2 L1333.4,585.2 L1333.8,585.2 L1334.2,585.2 L1334.6,585.2 L1335.0,585.2 L1335.4,585.2 L1335.8,585.2 L1336.2,585.2 L1336.6,585.2 L1337.0,585.2 L1337.4,585.2 L1337.8,585.2 L1338.2,585.2 L1338.6,585.2 L1339.0,585.2 L1339.4,585.2 L1339.8,585.2 L1340.2,585.2 L1340.6,585.2 L1341.0,585.2 L1341.4,585.2 L1341.8,585.2 L1342.2,585.2 L1342.6,585.2 L1343.0,585.2 L1343.4,585.2 L1343.8,585.2 L1344.2,585.2 L1344.6,585.2 L1345.0,585.2 L1345.4,585.2 L1345.8,585.2 L1346.2,585.2 L1346.6,585.2 L1347.0,585.2 L1347.4,585.2 L1347.8,585.2 L1348.2,585.2 L1348.6,585.2 L1349.0,585.2 L1349.4,585.2 L1349.8,585.2 L1350.2,585.2 L1350.6,585.2 L1351.0,585.2 L1351.4,585.2 L1351.8,585.2 L1352.2,585.2 L1352.6,585.2 L1353.0,585.2 L1353.4,585.2 L1353.8,585.2 L1354.2,585.2 L1354.6,585.2 L1355.0,585.2 L1355.4,585.2 L1355.8,585.2 L1356.2,585.2 L1356.6,585.2 L1357.0,585.2 L1357.4,585.2 L1357.8,585.2 L1358.2,585.2 L1358.6,585.2 L1359.0,585.2 L1359.4,585.2 L1359.8,585.2 L1360.2,585.2 L1360.6,585.2 L1361.0,585.2 L1361.4,585.2 L1361.8,585.2 L1362.2,585.2 L1362.6,585.2 L1363.0,585.2 L1363.4,585.2 L1363.8,585.2 L1364.2,585.2 L1364.6,585.2 L1365.0,585.2 L1365.4,585.2 L1365.8,585.2 L1366.2,585.2 L1366.6,585.2 L1367.0,585.2 L1367.4,585.2 L1367.8,585.2 L1368.2,585.2 L1368.6,585.2 L1369.0,585.2 L1369.4,585.2 L1369.8,585.2 L1370.2,585.2 L1370.6,585.2 L1371.0,585.2 L1371.4,585.2 L1371.8,585.2 L1372.2,585.2 L1372.6,585.2 L1373.0,585.2 L1373.4,585.2 L1373.8,585.2 L1374.2,585.2 L1374.6,585.2 L1375.0,585.2 L1375.4,585.2 L1375.8,585.2 L1376.2,585.2 L1376.6,585.2 L1377.0,585.2 L1377.4,585.2 L1377.8,585.2 L1378.2,585.1 L1378.6,585.1 L1379.0,585.1 L1379.4,585.1 L1379.8,585.1 L1380.2,585.1 L1380.6,585.1 L1381.0,585.1 L1381.4,585.1 L1381.8,585.1 L1382.2,585.1 L1382.6,585.1 L1383.0,585.1 L1383.4,585.1 L1383.8,585.1 L1384.2,585.1 L1384.6,585.1 L1385.0,585.1 L1385.4,585.1 L1385.8,585.1 L1386.2,585.1 L1386.6,585.1 L1387.0,585.1 L1387.4,585.1 L1387.8,585.1 L1388.2,585.1 L1388.6,585.1 L1389.0,585.1 L1389.4,585.1 L1389.8,585.1 L1390.2,585.1 L1390.6,585.1 L1391.0,585.1 L1391.4,585.1 L1391.8,585.1 L1392.2,585.1 L1392.6,585.1 L1393.0,585.1 L1393.4,585.1 L1393.8,585.1 L1394.2,585.1 L1394.6,585.1 L1395.0,585.1 L1395.4,585.1 L1395.8,585.1 L1396.2,585.1 L1396.6,585.1 L1397.0,585.1 L1397.4,585.1 L1397.8,585.1 L1398.2,585.1 L1398.6,585.1 L1399.0,585.1 L1399.4,585.1 L1399.8,585.1 L1400.2,585.1 L1400.6,585.1 L1401.0,585.1 L1401.4,585.1 L1401.8,585.1 L1402.2,585.1 L1402.6,585.1 L1403.0,585.1 L1403.4,585.1 L1403.8,585.1 L1404.2,585.1 L1404.6,585.1 L1405.0,585.1 L1405.4,585.1 L1405.8,585.1 L1406.2,585.1 L1406.6,585.1 L1407.0,585.1 L1407.4,585.1 L1407.8,585.1 L1408.2,585.1 L1408.6,585.1 L1409.0,585.1 L1409.4,585.1 L1409.8,585.1 L1410.2,585.1 L1410.6,585.1 L1411.0,585.1 L1411.4,585.1 L1411.8,585.1 L1412.2,585.1 L1412.6,585.1 L1413.0,585.1 L1413.4,585.1 L1413.8,585.1 L1414.2,585.1 L1414.6,585.1 L1415.0,585.1 L1415.4,585.1 L1415.8,585.1 L1416.2,585.1 L1416.6,585.1 L1417.0,585.1 L1417.4,585.1 L1417.8,585.1 L1418.2,585.1 L1418.6,585.1 L1419.0,585.1 L1419.4,585.1 L1419.8,585.1 L1420.2,585.1 L1420.6,585.1 L1421.0,585.1 L1421.4,585.1 L1421.8,585.1 L1422.2,585.1 L1422.6,585.1 L1423.0,585.1 L1423.4,585.1 L1423.8,585.1 L1424.2,585.1 L1424.6,585.1 L1425.0,585.0 L1425.4,585.0 L1425.8,585.0 L1426.2,585.0 L1426.6,585.0 L1427.0,585.0 L1427.4,585.0 L1427.8,585.0 L1428.2,585.0 L1428.6,585.0 L1429.0,585.0 L1429.4,585.0 L1429.8,585.0 L1430.2,585.0 L1430.6,585.0 L1431.0,585.0 L1431.4,585.0 L1431.8,585.0 L1432.2,585.0 L1432.6,585.0 L1433.0,585.0 L1433.4,585.0 L1433.8,585.0 L1434.2,585.0 L1434.6,585.0 L1435.0,585.0 L1435.4,585.0 L1435.8,585.0 L1436.2,585.0 L1436.6,585.0 L1437.0,585.0 L1437.4,585.0 L1437.8,585.0 L1438.2,585.0 L1438.6,585.0 L1439.0,585.0 L1439.4,585.0 L1439.8,585.0 L1440.2,585.0 L1440.6,585.0 L1441.0,585.0 L1441.4,585.0 L1441.8,585.0 L1442.2,585.0 L1442.6,585.0 L1443.0,585.0 L1443.4,585.0 L1443.8,585.0 L1444.2,585.0 L1444.6,585.0 L1445.0,585.0 L1445.4,585.0 L1445.8,585.0 L1446.2,585.0 L1446.6,585.0 L1447.0,585.0 L1447.4,585.0 L1447.8,585.0 L1448.2,584.9 L1448.6,584.9 L1449.0,584.9 L1449.4,584.9 L1449.8,584.9 L1450.2,584.9 L1450.6,584.9 L1451.0,584.9 L1451.4,584.9 L1451.8,584.9 L1452.2,584.9 L1452.6,584.9 L1453.0,584.9 L1453.4,584.9 L1453.8,584.9 L1454.2,584.9 L1454.6,584.9 L1455.0,584.9 L1455.4,584.9 L1455.8,584.9 L1456.2,584.9 L1456.6,584.9 L1457.0,584.9 L1457.4,584.9 L1457.8,584.9 L1458.2,584.9 L1458.6,584.9 L1459.0,584.9 L1459.4,584.9 L1459.8,584.9 L1460.2,584.9 L1460.6,584.9 L1461.0,584.9 L1461.4,584.9 L1461.8,584.9 L1462.2,584.9 L1462.6,584.8 L1463.0,584.8 L1463.4,584.8 L1463.8,584.8 L1464.2,584.8 L1464.6,584.8 L1465.0,584.8 L1465.4,584.8 L1465.8,584.8 L1466.2,584.8 L1466.6,584.8 L1467.0,584.8 L1467.4,584.8 L1467.8,584.8 L1468.2,584.8 L1468.6,584.8 L1469.0,584.8 L1469.4,584.8 L1469.8,584.8 L1470.2,584.8 L1470.6,584.8 L1471.0,584.8 L1471.4,584.8 L1471.8,584.8 L1472.2,584.8 L1472.6,584.7 L1473.0,584.7 L1473.4,584.7 L1473.8,584.7 L1474.2,584.7 L1474.6,584.7 L1475.0,584.7 L1475.4,584.7 L1475.8,584.7 L1476.2,584.7 L1476.6,584.7 L1477.0,584.7 L1477.4,584.7 L1477.8,584.7 L1478.2,584.7 L1478.6,584.7 L1479.0,584.7 L1479.4,584.7 L1479.8,584.7 L1480.2,584.6 L1480.6,584.6 L1481.0,584.6 L1481.4,584.6 L1481.8,584.6 L1482.2,584.6 L1482.6,584.6 L1483.0,584.6 L1483.4,584.6 L1483.8,584.6 L1484.2,584.6 L1484.6,584.6 L1485.0,584.6 L1485.4,584.6 L1485.8,584.6 L1486.2,584.5 L1486.6,584.5 L1487.0,584.5 L1487.4,584.5 L1487.8,584.5 L1488.2,584.5 L1488.6,584.5 L1489.0,584.5 L1489.4,584.5 L1489.8,584.5 L1490.2,584.5 L1490.6,584.4 L1491.0,584.4 L1491.4,584.4 L1491.8,584.4 L1492.2,584.4 L1492.6,584.4 L1493.0,584.4 L1493.4,584.4 L1493.8,584.4 L1494.2,584.4 L1494.6,584.3 L1495.0,584.3 L1495.4,584.3 L1495.8,584.3 L1496.2,584.3 L1496.6,584.3 L1497.0,584.3 L1497.4,584.3 L1497.8,584.2 L1498.2,584.2 L1498.6,584.2 L1499.0,584.2 L1499.4,584.2 L1499.8,584.2 L1500.2,584.2 L1500.6,584.2 L1501.0,584.1 L1501.4,584.1 L1501.8,584.1 L1502.2,584.1 L1502.6,584.1 L1503.0,584.1 L1503.4,584.0 L1503.8,584.0 L1504.2,584.0 L1504.6,584.0 L1505.0,584.0 L1505.4,583.9 L1505.8,583.9 L1506.2,583.9 L1506.6,583.9 L1507.0,583.9 L1507.4,583.8 L1507.8,583.8 L1508.2,583.8 L1508.6,583.8 L1509.0,583.8 L1509.4,583.7 L1509.8,583.7 L1510.2,583.7 L1510.6,583.7 L1511.0,583.6 L1511.4,583.6 L1511.8,583.6 L1512.2,583.6 L1512.6,583.5 L1513.0,583.5 L1513.4,583.5 L1513.8,583.4 L1514.2,583.4 L1514.6,583.4 L1515.0,583.3 L1515.4,583.3 L1515.8,583.3 L1516.2,583.2 L1516.6,583.2 L1517.0,583.2 L1517.4,583.1 L1517.8,583.1 L1518.2,583.0 L1518.6,583.0 L1519.0,582.9 L1519.4,582.9 L1519.8,582.9 L1520.2,582.8 L1520.6,582.8 L1521.0,582.7 L1521.4,582.6 L1521.8,582.6 L1522.2,582.5 L1522.6,582.5 L1523.0,582.4 L1523.4,582.4 L1523.8,582.3 L1524.2,582.2 L1524.6,582.2 L1525.0,582.1 L1525.4,582.0 L1525.8,581.9 L1526.2,581.9 L1526.6,581.8 L1527.0,581.7 L1527.4,581.6 L1527.8,581.5 L1528.2,581.4 L1528.6,581.3 L1529.0,581.2 L1529.4,581.1 L1529.8,581.0 L1530.2,580.9 L1530.6,580.8 L1531.0,580.6 L1531.4,580.5 L1531.8,580.4 L1532.2,580.2 L1532.6,580.1 L1533.0,579.9 L1533.4,579.8 L1533.8,579.6 L1534.2,579.5 L1534.6,579.3 L1535.0,579.1 L1535.4,578.9 L1535.8,578.7 L1536.2,578.5 L1536.6,578.3 L1537.0,578.0 L1537.4,577.8 L1537.8,577.5 L1538.2,577.3 L1538.6,577.0 L1539.0,576.7 L1539.4,576.4 L1539.8,576.1 L1540.2,575.8 L1540.6,575.5 L1541.0,575.2 L1541.4,574.8 L1541.8,574.4 L1542.2,574.0 L1542.6,573.6 L1543.0,573.2 L1543.4,572.8 L1543.8,572.4 L1544.2,571.9 L1544.6,571.4 L1545.0,571.0 L1545.4,570.5 L1545.8,570.0 L1546.2,569.4 L1546.6,568.9 L1547.0,568.3 L1547.4,567.8 L1547.8,567.2 L1548.2,566.6 L1548.6,566.1 L1549.0,565.5 L1549.4,564.9 L1549.8,564.3 L1550.2,563.7 L1550.6,563.1 L1551.0,562.5 L1551.4,562.0 L1551.8,561.5 L1552.2,560.9 L1552.6,560.5 L1553.0,560.0 L1553.4,559.6 L1553.8,559.2 L1554.2,558.9 L1554.6,558.6 L1555.0,558.3 L1555.4,558.1 L1555.8,558.0 L1556.2,557.9 L1556.6,557.9 L1557.0,558.0 L1557.4,558.1 L1557.8,558.2 L1558.2,558.4 L1558.6,558.7 L1559.0,559.0 L1559.4,559.4 L1559.8,559.8 L1560.2,560.2 L1560.6,560.7 L1561.0,561.2 L1561.4,561.7 L1561.8,562.3 L1562.2,562.8 L1562.6,563.4 L1563.0,564.0 L1563.4,564.6 L1563.8,565.2 L1564.2,565.8 L1564.6,566.3 L1565.0,566.9 L1565.4,567.5 L1565.8,568.1 L1566.2,568.6 L1566.6,569.2 L1567.0,569.7 L1567.4,570.2 L1567.8,570.7 L1568.2,571.2 L1568.6,571.7 L1569.0,572.1 L1569.4,572.6 L1569.8,573.0 L1570.2,573.4 L1570.6,573.8 L1571.0,574.2 L1571.4,574.6 L1571.8,575.0 L1572.2,575.3 L1572.6,575.6 L1573.0,576.0 L1573.4,576.3 L1573.8,576.6 L1574.2,576.9 L1574.6,577.1 L1575.0,577.4 L1575.4,577.7 L1575.8,577.9 L1576.2,578.1 L1576.6,578.4 L1577.0,578.6 L1577.4,578.8 L1577.8,579.0 L1578.2,579.2 L1578.6,579.3 L1579.0,579.5 L1579.4,579.7 L1579.8,579.8 L1580.2,580.0 L1580.6,580.1 L1581.0,580.3 L1581.4,580.4 L1581.8,580.6 L1582.2,580.7 L1582.6,580.8 L1583.0,580.9 L1583.4,581.0 L1583.8,581.1 L1584.2,581.2 L1584.6,581.3 L1585.0,581.4 L1585.4,581.5 L1585.8,581.6 L1586.2,581.7 L1586.6,581.8 L1587.0,581.9 L1587.4,581.9 L1587.8,582.0 L1588.2,582.1 L1588.6,582.2 L1589.0,582.2 L1589.4,582.3 L1589.8,582.4 L1590.2,582.4 L1590.6,582.5 L1591.0,582.5 L1591.4,582.6 L1591.8,582.6 L1592.2,582.7 L1592.6,582.7 L1593.0,582.8 L1593.4,582.8 L1593.8,582.9 L1594.2,582.9 L1594.6,583.0 L1595.0,583.0 L1595.4,583.1 L1595.8,583.1 L1596.2,583.1 L1596.6,583.2 L1597.0,583.2 L1597.4,583.2 L1597.8,583.3 L1598.2,583.3 L1598.6,583.3 L1599.0,583.4 L1599.4,583.4 L1599.8,583.4 L1600.2,583.5 L1600.6,583.5 L1601.0,583.5 L1601.4,583.5 L1601.8,583.6 L1602.2,583.6 L1602.6,583.6 L1603.0,583.6 L1603.4,583.7 L1603.8,583.7 L1604.2,583.7 L1604.6,583.7 L1605.0,583.8 L1605.4,583.8 L1605.8,583.8 L1606.2,583.8 L1606.6,583.8 L1607.0,583.9 L1607.4,583.9 L1607.8,583.9 L1608.2,583.9 L1608.6,583.9 L1609.0,584.0 L1609.4,584.0 L1609.8,584.0 L1610.2,584.0 L1610.6,584.0 L1611.0,584.0 L1611.4,584.1 L1611.8,584.1 L1612.2,584.1 L1612.6,584.1 L1613.0,584.1 L1613.4,584.1 L1613.8,584.1 L1614.2,584.2 L1614.6,584.2 L1615.0,584.2 L1615.4,584.2 L1615.8,584.2 L1616.2,584.2 L1616.6,584.2 L1617.0,584.2 L1617.4,584.2 L1617.8,584.3 L1618.2,584.3 L1618.6,584.3 L1619.0,584.3 L1619.4,584.3 L1619.8,584.3 L1620.2,584.3 L1620.6,584.3 L1621.0,584.3 L1621.4,584.4 L1621.8,584.4 L1622.2,584.4 L1622.6,584.4 L1623.0,584.4 L1623.4,584.4 L1623.8,584.4 L1624.2,584.4 L1624.6,584.4 L1625.0,584.4 L1625.4,584.4 L1625.8,584.4 L1626.2,584.5 L1626.6,584.5 L1627.0,584.5 L1627.4,584.5 L1627.8,584.5 L1628.2,584.5 L1628.6,584.5 L1629.0,584.5 L1629.4,584.5 L1629.8,584.5 L1630.2,584.5 L1630.6,584.5 L1631.0,584.5 L1631.4,584.5 L1631.8,584.5 L1632.2,584.5 L1632.6,584.6 L1633.0,584.6 L1633.4,584.6 L1633.8,584.6 L1634.2,584.6 L1634.6,584.6 L1635.0,584.6 L1635.4,584.6 L1635.8,584.6 L1636.2,584.6 L1636.6,584.6 L1637.0,584.6 L1637.4,584.6 L1637.8,584.6 L1638.2,584.6 L1638.6,584.6 L1639.0,584.6 L1639.4,584.6 L1639.8,584.6 L1640.2,584.6 L1640.6,584.7 L1641.0,584.7 L1641.4,584.7 L1641.8,584.7 L1642.2,584.7 L1642.6,584.7 L1643.0,584.7 L1643.4,584.7 L1643.8,584.7 L1644.2,584.7 L1644.6,584.7 L1645.0,584.7 L1645.4,584.7 L1645.8,584.7 L1646.2,584.7 L1646.6,584.7 L1647.0,584.7 L1647.4,584.7 L1647.8,584.7 L1648.2,584.7 L1648.6,584.7 L1649.0,584.7 L1649.4,584.7 L1649.8,584.7 L1650.2,584.7 L1650.6,584.7 L1651.0,584.7 L1651.4,584.7 L1651.8,584.7 L1652.2,584.7 L1652.6,584.7 L1653.0,584.7 L1653.4,584.8 L1653.8,584.8 L1654.2,584.8 L1654.6,584.8 L1655.0,584.8 L1655.4,584.8 L1655.8,584.8 L1656.2,584.8 L1656.6,584.8 L1657.0,584.8 L1657.4,584.8 L1657.8,584.8 L1658.2,584.8 L1658.6,584.8 L1659.0,584.8 L1659.4,584.8 L1659.8,584.8 L1660.2,584.8 L1660.6,584.8 L1661.0,584.8 L1661.4,584.8 L1661.8,584.8 L1662.2,584.8 L1662.6,584.8 L1663.0,584.8 L1663.4,584.8 L1663.8,584.8 L1664.2,584.8 L1664.6,584.8 L1665.0,584.8 L1665.4,584.8 L1665.8,584.8 L1666.2,584.8 L1666.6,584.8 L1667.0,584.8 L1667.4,584.8 L1667.8,584.8 L1668.2,584.8 L1668.6,584.8 L1669.0,584.8 L1669.4,584.8 L1669.8,584.8 L1670.2,584.8 L1670.6,584.8 L1671.0,584.8 L1671.4,584.8 L1671.8,584.8 L1672.2,584.8 L1672.6,584.8 L1673.0,584.8 L1673.4,584.8 L1673.8,584.8 L1674.2,584.8 L1674.6,584.8 L1675.0,584.8 L1675.4,584.8 L1675.8,584.8 L1676.2,584.8 L1676.6,584.8 L1677.0,584.8 L1677.4,584.8 L1677.8,584.8 L1678.2,584.8 L1678.6,584.8 L1679.0,584.8 L1679.4,584.8 L1679.8,584.8 L1680.2,584.8 L1680.6,584.8 L1681.0,584.8 L1681.4,584.8 L1681.8,584.8 L1682.2,584.8 L1682.6,584.8 L1683.0,584.8 L1683.4,584.8 L1683.8,584.8 L1684.2,584.8 L1684.6,584.8 L1685.0,584.8 L1685.4,584.8 L1685.8,584.8 L1686.2,584.8 L1686.6,584.8 L1687.0,584.8 L1687.4,584.8 L1687.8,584.8 L1688.2,584.8 L1688.6,584.8 L1689.0,584.8 L1689.4,584.8 L1689.8,584.8 L1690.2,584.8 L1690.6,584.8 L1691.0,584.8 L1691.4,584.8 L1691.8,584.8 L1692.2,584.8 L1692.6,584.8 L1693.0,584.8 L1693.4,584.8 L1693.8,584.8 L1694.2,584.8 L1694.6,584.8 L1695.0,584.8 L1695.4,584.8 L1695.8,584.8 L1696.2,584.8 L1696.6,584.8 L1697.0,584.8 L1697.4,584.8 L1697.8,584.8 L1698.2,584.8 L1698.6,584.8 L1699.0,584.8 L1699.4,584.8 L1699.8,584.8 L1700.2,584.8 L1700.6,584.8 L1701.0,584.8 L1701.4,584.8 L1701.8,584.8 L1702.2,584.8 L1702.6,584.8 L1703.0,584.8 L1703.4,584.8 L1703.8,584.8 L1704.2,584.8 L1704.6,584.8 L1705.0,584.8 L1705.4,584.8 L1705.8,584.8 L1706.2,584.8 L1706.6,584.8 L1707.0,584.8 L1707.4,584.8 L1707.8,584.8 L1708.2,584.8 L1708.6,584.8 L1709.0,584.8 L1709.4,584.8 L1709.8,584.8 L1710.2,584.8 L1710.6,584.8 L1711.0,584.8 L1711.4,584.8 L1711.8,584.8 L1712.2,584.8 L1712.6,584.8 L1713.0,584.8 L1713.4,584.8 L1713.8,584.8 L1714.2,584.8 L1714.6,584.8 L1715.0,584.8 L1715.4,584.8 L1715.8,584.8 L1716.2,584.8 L1716.6,584.8 L1717.0,584.8 L1717.4,584.8 L1717.8,584.8 L1718.2,584.8 L1718.6,584.8 L1719.0,584.8 L1719.4,584.8 L1719.8,584.8 L1720.2,584.8 L1720.6,584.8 L1721.0,584.8 L1721.4,584.8 L1721.8,584.8 L1722.2,584.8 L1722.6,584.8 L1723.0,584.8 L1723.4,584.8 L1723.8,584.8 L1724.2,584.8 L1724.6,584.8 L1725.0,584.8 L1725.4,584.8 L1725.8,584.8 L1726.2,584.8 L1726.6,584.8 L1727.0,584.8 L1727.4,584.7 L1727.8,584.7 L1728.2,584.7 L1728.6,584.7 L1729.0,584.7 L1729.4,584.7 L1729.8,584.7 L1730.2,584.7 L1730.6,584.7 L1731.0,584.7 L1731.4,584.7 L1731.8,584.7 L1732.2,584.7 L1732.6,584.7 L1733.0,584.7 L1733.4,584.7 L1733.8,584.7 L1734.2,584.7 L1734.6,584.7 L1735.0,584.7 L1735.4,584.7 L1735.8,584.7 L1736.2,584.7 L1736.6,584.7 L1737.0,584.7 L1737.4,584.7 L1737.8,584.7 L1738.2,584.7 L1738.6,584.7 L1739.0,584.7 L1739.4,584.7 L1739.8,584.7 L1740.2,584.7 L1740.6,584.7 L1741.0,584.6 L1741.4,584.6 L1741.8,584.6 L1742.2,584.6 L1742.6,584.6 L1743.0,584.6 L1743.4,584.6 L1743.8,584.6 L1744.2,584.6 L1744.6,584.6 L1745.0,584.6 L1745.4,584.6 L1745.8,584.6 L1746.2,584.6 L1746.6,584.6 L1747.0,584.6 L1747.4,584.6 L1747.8,584.6 L1748.2,584.6 L1748.6,584.6 L1749.0,584.6 L1749.4,584.6 L1749.8,584.5 L1750.2,584.5 L1750.6,584.5 L1751.0,584.5 L1751.4,584.5 L1751.8,584.5 L1752.2,584.5 L1752.6,584.5 L1753.0,584.5 L1753.4,584.5 L1753.8,584.5 L1754.2,584.5 L1754.6,584.5 L1755.0,584.5 L1755.4,584.5 L1755.8,584.5 L1756.2,584.4 L1756.6,584.4 L1757.0,584.4 L1757.4,584.4 L1757.8,584.4 L1758.2,584.4 L1758.6,584.4 L1759.0,584.4 L1759.4,584.4 L1759.8,584.4 L1760.2,584.4 L1760.6,584.4 L1761.0,584.4 L1761.4,584.3 L1761.8,584.3 L1762.2,584.3 L1762.6,584.3 L1763.0,584.3 L1763.4,584.3 L1763.8,584.3 L1764.2,584.3 L1764.6,584.3 L1765.0,584.3 L1765.4,584.2 L1765.8,584.2 L1766.2,584.2 L1766.6,584.2 L1767.0,584.2 L1767.4,584.2 L1767.8,584.2 L1768.2,584.2 L1768.6,584.2 L1769.0,584.1 L1769.4,584.1 L1769.8,584.1 L1770.2,584.1 L1770.6,584.1 L1771.0,584.1 L1771.4,584.1 L1771.8,584.0 L1772.2,584.0 L1772.6,584.0 L1773.0,584.0 L1773.4,584.0 L1773.8,584.0 L1774.2,583.9 L1774.6,583.9 L1775.0,583.9 L1775.4,583.9 L1775.8,583.9 L1776.2,583.9 L1776.6,583.8 L1777.0,583.8 L1777.4,583.8 L1777.8,583.8 L1778.2,583.8 L1778.6,583.7 L1779.0,583.7 L1779.4,583.7 L1779.8,583.7 L1780.2,583.6 L1780.6,583.6 L1781.0,583.6 L1781.4,583.6 L1781.8,583.5 L1782.2,583.5 L1782.6,583.5 L1783.0,583.5 L1783.4,583.4 L1783.8,583.4 L1784.2,583.4 L1784.6,583.3 L1785.0,583.3 L1785.4,583.3 L1785.8,583.2 L1786.2,583.2 L1786.6,583.2 L1787.0,583.1 L1787.4,583.1 L1787.8,583.1 L1788.2,583.0 L1788.6,583.0 L1789.0,582.9 L1789.4,582.9 L1789.8,582.8 L1790.2,582.8 L1790.6,582.7 L1791.0,582.7 L1791.4,582.6 L1791.8,582.6 L1792.2,582.5 L1792.6,582.5 L1793.0,582.4 L1793.4,582.4 L1793.8,582.3 L1794.2,582.2 L1794.6,582.2 L1795.0,582.1 L1795.4,582.0 L1795.8,581.9 L1796.2,581.9 L1796.6,581.8 L1797.0,581.7 L1797.4,581.6 L1797.8,581.5 L1798.2,581.4 L1798.6,581.3 L1799.0,581.2 L1799.4,581.1 L1799.8,581.0 L1800.2,580.9 L1800.6,580.8 L1801.0,580.7 L1801.4,580.5 L1801.8,580.4 L1802.2,580.2 L1802.6,580.1 L1803.0,579.9 L1803.4,579.8 L1803.8,579.6 L1804.2,579.4 L1804.6,579.2 L1805.0,579.0 L1805.4,578.8 L1805.8,578.6 L1806.2,578.4 L1806.6,578.1 L1807.0,577.8 L1807.4,577.6 L1807.8,577.3 L1808.2,576.9 L1808.6,576.6 L1809.0,576.2 L1809.4,575.8 L1809.8,575.4 L1810.2,574.9 L1810.6,574.4 L1811.0,573.8 L1811.4,573.2 L1811.8,572.6 L1812.2,571.9 L1812.6,571.1 L1813.0,570.2 L1813.4,569.3 L1813.8,568.3 L1814.2,567.2 L1814.6,566.0 L1815.0,564.7 L1815.4,563.3 L1815.8,561.7 L1816.2,560.1 L1816.6,558.3 L1817.0,556.4 L1817.4,554.3 L1817.8,552.1 L1818.2,549.7 L1818.6,547.2 L1819.0,544.5 L1819.4,541.6 L1819.8,538.6 L1820.2,535.5 L1820.6,532.2 L1821.0,528.8 L1821.4,525.3 L1821.8,521.7 L1822.2,518.0 L1822.6,514.3 L1823.0,510.7 L1823.4,507.1 L1823.8,503.7 L1824.2,500.5 L1824.6,497.5 L1825.0,494.9 L1825.4,492.7 L1825.8,491.0 L1826.2,489.8 L1826.6,489.2 L1827.0,489.2 L1827.4,489.8 L1827.8,491.0 L1828.2,492.7 L1828.6,494.9 L1829.0,497.5 L1829.4,500.4 L1829.8,503.7 L1830.2,507.1 L1830.6,510.7 L1831.0,514.3 L1831.4,518.0 L1831.8,521.6 L1832.2,525.2 L1832.6,528.7 L1833.0,532.1 L1833.4,535.4 L1833.8,538.6 L1834.2,541.5 L1834.6,544.4 L1835.0,547.1 L1835.4,549.6 L1835.8,552.0 L1836.2,554.2 L1836.6,556.3 L1837.0,558.2 L1837.4,560.0 L1837.8,561.6 L1838.2,563.2 L1838.6,564.6 L1839.0,565.9 L1839.4,567.1 L1839.8,568.2 L1840.2,569.2 L1840.6,570.1 L1841.0,570.9 L1841.4,571.7 L1841.8,572.4 L1842.2,573.1 L1842.6,573.7 L1843.0,574.2 L1843.4,574.7 L1843.8,575.2 L1844.2,575.6 L1844.6,576.0 L1845.0,576.4 L1845.4,576.8 L1845.8,577.1 L1846.2,577.4 L1846.6,577.7 L1847.0,577.9 L1847.4,578.2 L1847.8,578.4 L1848.2,578.6 L1848.6,578.8 L1849.0,579.0 L1849.4,579.2 L1849.8,579.4 L1850.2,579.5 L1850.6,579.7 L1851.0,579.8 L1851.4,580.0 L1851.8,580.1 L1852.2,580.3 L1852.6,580.4 L1853.0,580.5 L1853.4,580.6 L1853.8,580.7 L1854.2,580.8 L1854.6,580.9 L1855.0,581.0 L1855.4,581.1 L1855.8,581.2 L1856.2,581.3 L1856.6,581.4 L1857.0,581.4 L1857.4,581.5 L1857.8,581.6 L1858.2,581.7 L1858.6,581.7 L1859.0,581.8 L1859.4,581.8 L1859.8,581.9 L1860.2,582.0 L1860.6,582.0 L1861.0,582.1 L1861.4,582.1 L1861.8,582.1 L1862.2,582.2 L1862.6,582.2 L1863.0,582.3 L1863.4,582.3 L1863.8,582.3 L1864.2,582.4 L1864.6,582.4 L1865.0,582.4 L1865.4,582.5 L1865.8,582.5 L1866.2,582.5 L1866.6,582.6 L1867.0,582.6 L1867.4,582.6 L1867.8,582.6 L1868.2,582.6 L1868.6,582.7 L1869.0,582.7 L1869.4,582.7 L1869.8,582.7 L1870.2,582.7 L1870.6,582.7 L1871.0,582.7 L1871.4,582.7 L1871.8,582.7 L1872.2,582.7 L1872.6,582.7 L1873.0,582.7 L1873.4,582.7 L1873.8,582.7 L1874.2,582.7 L1874.6,582.7 L1875.0,582.7 L1875.4,582.7 L1875.8,582.7 L1876.2,582.7 L1876.6,582.6 L1877.0,582.6 L1877.4,582.6 L1877.8,582.6 L1878.2,582.5 L1878.6,582.5 L1879.0,582.4 L1879.4,582.4 L1879.8,582.3 L1880.2,582.3 L1880.6,582.2 L1881.0,582.2 L1881.4,582.1 L1881.8,582.0 L1882.2,581.9 L1882.6,581.8 L1883.0,581.7 L1883.4,581.6 L1883.8,581.4 L1884.2,581.3 L1884.6,581.1 L1885.0,580.9 L1885.4,580.6 L1885.8,580.3 L1886.2,580.0 L1886.6,579.5 L1887.0,579.0 L1887.4,578.2 L1887.8,577.2 L1888.2,576.0 L1888.6,574.3 L1889.0,572.1 L1889.4,569.3 L1889.8,565.7 L1890.2,561.3 L1890.6,555.9 L1891.0,549.6 L1891.4,542.2 L1891.8,533.8 L1892.2,524.7 L1892.6,515.0 L1893.0,505.0 L1893.4,495.3 L1893.8,486.4 L1894.2,478.9 L1894.6,473.4 L1895.0,470.5 L1895.4,470.5 L1895.8,473.4 L1896.2,478.9 L1896.6,486.4 L1897.0,495.4 L1897.4,505.1 L1897.8,515.0 L1898.2,524.7 L1898.6,533.9 L1899.0,542.2 L1899.4,549.6 L1899.8,556.0 L1900.2,561.4 L1900.6,565.8 L1901.0,569.3 L1901.4,572.2 L1901.8,574.4 L1902.2,576.0 L1902.6,577.3 L1903.0,578.3 L1903.4,579.1 L1903.8,579.6 L1904.2,580.1 L1904.6,580.5 L1905.0,580.8 L1905.4,581.0 L1905.8,581.2 L1906.2,581.4 L1906.6,581.6 L1907.0,581.7 L1907.4,581.9 L1907.8,582.0 L1908.2,582.1 L1908.6,582.2 L1909.0,582.3 L1909.4,582.4 L1909.8,582.4 L1910.2,582.5 L1910.6,582.6 L1911.0,582.6 L1911.4,582.7 L1911.8,582.7 L1912.2,582.8 L1912.6,582.8 L1913.0,582.9 L1913.4,582.9 L1913.8,582.9 L1914.2,583.0 L1914.6,583.0 L1915.0,583.0 L1915.4,583.1 L1915.8,583.1 L1916.2,583.1 L1916.6,583.1 L1917.0,583.1 L1917.4,583.1 L1917.8,583.2 L1918.2,583.2 L1918.6,583.2 L1919.0,583.2 L1919.4,583.2 L1919.8,583.2 L1920.2,583.2 L1920.6,583.2 L1921.0,583.2 L1921.4,583.2 L1921.8,583.2 L1922.2,583.2 L1922.6,583.2 L1923.0,583.2 L1923.4,583.2 L1923.8,583.2 L1924.2,583.2 L1924.6,583.2 L1925.0,583.2 L1925.4,583.2 L1925.8,583.2 L1926.2,583.2 L1926.6,583.2 L1927.0,583.2 L1927.4,583.2 L1927.8,583.2 L1928.2,583.2 L1928.6,583.2 L1929.0,583.1 L1929.4,583.1 L1929.8,583.1 L1930.2,583.1 L1930.6,583.1 L1931.0,583.1 L1931.4,583.1 L1931.8,583.1 L1932.2,583.0 L1932.6,583.0 L1933.0,583.0 L1933.4,583.0 L1933.8,583.0 L1934.2,582.9 L1934.6,582.9 L1935.0,582.9 L1935.4,582.9 L1935.8,582.9 L1936.2,582.8 L1936.6,582.8 L1937.0,582.8 L1937.4,582.8 L1937.8,582.7 L1938.2,582.7 L1938.6,582.7 L1939.0,582.6 L1939.4,582.6 L1939.8,582.6 L1940.2,582.5 L1940.6,582.5 L1941.0,582.5 L1941.4,582.4 L1941.8,582.4 L1942.2,582.4 L1942.6,582.3 L1943.0,582.3 L1943.4,582.2 L1943.8,582.2 L1944.2,582.2 L1944.6,582.1 L1945.0,582.1 L1945.4,582.0 L1945.8,582.0 L1946.2,581.9 L1946.6,581.8 L1947.0,581.8 L1947.4,581.7 L1947.8,581.7 L1948.2,581.6 L1948.6,581.5 L1949.0,581.5 L1949.4,581.4 L1949.8,581.3 L1950.2,581.2 L1950.6,581.2 L1951.0,581.1 L1951.4,581.0 L1951.8,580.9 L1952.2,580.8 L1952.6,580.7 L1953.0,580.6 L1953.4,580.5 L1953.8,580.4 L1954.2,580.3 L1954.6,580.2 L1955.0,580.0 L1955.4,579.9 L1955.8,579.8 L1956.2,579.6 L1956.6,579.5 L1957.0,579.4 L1957.4,579.2 L1957.8,579.0 L1958.2,578.9 L1958.6,578.7 L1959.0,578.5 L1959.4,578.3 L1959.8,578.1 L1960.2,577.9 L1960.6,577.7 L1961.0,577.5 L1961.4,577.2 L1961.8,577.0 L1962.2,576.7 L1962.6,576.4 L1963.0,576.2 L1963.4,575.9 L1963.8,575.6 L1964.2,575.3 L1964.6,574.9 L1965.0,574.6 L1965.4,574.2 L1965.8,573.9 L1966.2,573.5 L1966.6,573.1 L1967.0,572.7 L1967.4,572.3 L1967.8,571.9 L1968.2,571.4 L1968.6,570.9 L1969.0,570.5 L1969.4,570.0 L1969.8,569.5 L1970.2,568.9 L1970.6,568.4 L1971.0,567.9 L1971.4,567.3 L1971.8,566.7 L1972.2,566.2 L1972.6,565.6 L1973.0,565.0 L1973.4,564.4 L1973.8,563.8 L1974.2,563.3 L1974.6,562.7 L1975.0,562.1 L1975.4,561.6 L1975.8,561.0 L1976.2,560.5 L1976.6,560.1 L1977.0,559.6 L1977.4,559.2 L1977.8,558.8 L1978.2,558.5 L1978.6,558.2 L1979.0,557.9 L1979.4,557.7 L1979.8,557.6 L1980.2,557.5 L1980.6,557.5 L1981.0,557.5 L1981.4,557.6 L1981.8,557.8 L1982.2,558.0 L1982.6,558.2 L1983.0,558.5 L1983.4,558.9 L1983.8,559.3 L1984.2,559.7 L1984.6,560.1 L1985.0,560.6 L1985.4,561.1 L1985.8,561.7 L1986.2,562.2 L1986.6,562.8 L1987.0,563.3 L1987.4,563.9 L1987.8,564.5 L1988.2,565.0 L1988.6,565.6 L1989.0,566.2 L1989.4,566.7 L1989.8,567.2 L1990.2,567.8 L1990.6,568.3 L1991.0,568.8 L1991.4,569.3 L1991.8,569.8 L1992.2,570.3 L1992.6,570.7 L1993.0,571.2 L1993.4,571.6 L1993.8,572.0 L1994.2,572.4 L1994.6,572.8 L1995.0,573.1 L1995.4,573.5 L1995.8,573.8 L1996.2,574.2 L1996.6,574.5 L1997.0,574.8 L1997.4,575.1 L1997.8,575.3 L1998.2,575.6 L1998.6,575.9 L1999.0,576.1 L1999.4,576.3 L1999.8,576.5 L2000.2,576.8 L2000.6,577.0 L2001.0,577.1 L2001.4,577.3 L2001.8,577.5 L2002.2,577.7 L2002.6,577.8 L2003.0,578.0 L2003.4,578.1 L2003.8,578.2 L2004.2,578.4 L2004.6,578.5 L2005.0,578.6 L2005.4,578.7 L2005.8,578.8 L2006.2,578.9 L2006.6,579.0 L2007.0,579.1 L2007.4,579.2 L2007.8,579.2 L2008.2,579.3 L2008.6,579.4 L2009.0,579.4 L2009.4,579.5 L2009.8,579.6 L2010.2,579.6 L2010.6,579.6 L2011.0,579.7 L2011.4,579.7 L2011.8,579.8 L2012.2,579.8 L2012.6,579.8 L2013.0,579.8 L2013.4,579.9 L2013.8,579.9 L2014.2,579.9 L2014.6,579.9 L2015.0,579.9 L2015.4,579.9 L2015.8,579.9 L2016.2,579.9 L2016.6,579.9 L2017.0,579.9 L2017.4,579.9 L2017.8,579.8 L2018.2,579.8 L2018.6,579.8 L2019.0,579.8 L2019.4,579.7 L2019.8,579.7 L2020.2,579.7 L2020.6,579.6 L2021.0,579.6 L2021.4,579.5 L2021.8,579.5 L2022.2,579.4 L2022.6,579.3 L2023.0,579.3 L2023.4,579.2 L2023.8,579.1 L2024.2,579.0 L2024.6,579.0 L2025.0,578.9 L2025.4,578.8 L2025.8,578.7 L2026.2,578.6 L2026.6,578.4 L2027.0,578.3 L2027.4,578.2 L2027.8,578.1 L2028.2,577.9 L2028.6,577.8 L2029.0,577.6 L2029.4,577.4 L2029.8,577.3 L2030.2,577.1 L2030.6,576.9 L2031.0,576.7 L2031.4,576.5 L2031.8,576.2 L2032.2,576.0 L2032.6,575.8 L2033.0,575.5 L2033.4,575.2 L2033.8,575.0 L2034.2,574.7 L2034.6,574.4 L2035.0,574.1 L2035.4,573.7 L2035.8,573.4 L2036.2,573.0 L2036.6,572.6 L2037.0,572.3 L2037.4,571.9 L2037.8,571.4 L2038.2,571.0 L2038.6,570.6 L2039.0,570.1 L2039.4,569.6 L2039.8,569.1 L2040.2,568.6 L2040.6,568.1 L2041.0,567.6 L2041.4,567.0 L2041.8,566.5 L2042.2,565.9 L2042.6,565.3 L2043.0,564.7 L2043.4,564.2 L2043.8,563.6 L2044.2,563.0 L2044.6,562.4 L2045.0,561.8 L2045.4,561.2 L2045.8,560.7 L2046.2,560.1 L2046.6,559.6 L2047.0,559.1 L2047.4,558.6 L2047.8,558.2 L2048.2,557.8 L2048.6,557.5 L2049.0,557.2 L2049.4,556.9 L2049.8,556.7 L2050.2,556.6 L2050.6,556.5 L2051.0,556.5 L2051.4,556.5 L2051.8,556.6 L2052.2,556.7 L2052.6,556.9 L2053.0,557.2 L2053.4,557.5 L2053.8,557.9 L2054.2,558.3 L2054.6,558.7 L2055.0,559.2 L2055.4,559.7 L2055.8,560.3 L2056.2,560.8 L2056.6,561.4 L2057.0,562.0 L2057.4,562.6 L2057.8,563.2 L2058.2,563.8 L2058.6,564.4 L2059.0,565.0 L2059.4,565.6 L2059.8,566.2 L2060.2,566.7 L2060.6,567.3 L2061.0,567.9 L2061.4,568.4 L2061.8,569.0 L2062.2,569.5 L2062.6,570.0 L2063.0,570.5 L2063.4,570.9 L2063.8,571.4 L2064.2,571.9 L2064.6,572.3 L2065.0,572.7 L2065.4,573.1 L2065.8,573.5 L2066.2,573.9 L2066.6,574.2 L2067.0,574.6 L2067.4,574.9 L2067.8,575.2 L2068.2,575.5 L2068.6,575.8 L2069.0,576.1 L2069.4,576.4 L2069.8,576.6 L2070.2,576.9 L2070.6,577.1 L2071.0,577.4 L2071.4,577.6 L2071.8,577.8 L2072.2,578.0 L2072.6,578.2 L2073.0,578.4 L2073.4,578.6 L2073.8,578.7 L2074.2,578.9 L2074.6,579.1 L2075.0,579.2 L2075.4,579.4 L2075.8,579.5 L2076.2,579.6 L2076.6,579.8 L2077.0,579.9 L2077.4,580.0 L2077.8,580.1 L2078.2,580.2 L2078.6,580.3 L2079.0,580.4 L2079.4,580.5 L2079.8,580.6 L2080.2,580.7 L2080.6,580.8 L2081.0,580.9 L2081.4,581.0 L2081.8,581.0 L2082.2,581.1 L2082.6,581.2 L2083.0,581.3 L2083.4,581.3 L2083.8,581.4 L2084.2,581.4 L2084.6,581.5 L2085.0,581.6 L2085.4,581.6 L2085.8,581.7 L2086.2,581.7 L2086.6,581.8 L2087.0,581.8 L2087.4,581.9 L2087.8,581.9 L2088.2,582.0 L2088.6,582.0 L2089.0,582.0 L2089.4,582.1 L2089.8,582.1 L2090.2,582.1 L2090.6,582.2 L2091.0,582.2 L2091.4,582.2 L2091.8,582.3 L2092.2,582.3 L2092.6,582.3 L2093.0,582.4 L2093.4,582.4 L2093.8,582.4 L2094.2,582.4 L2094.6,582.5 L2095.0,582.5 L2095.4,582.5 L2095.8,582.5 L2096.2,582.5 L2096.6,582.6 L2097.0,582.6 L2097.4,582.6 L2097.8,582.6 L2098.2,582.6 L2098.6,582.7 L2099.0,582.7 L2099.4,582.7 L2099.8,582.7 L2100.2,582.7 L2100.6,582.7 L2101.0,582.7 L2101.4,582.7 L2101.8,582.8 L2102.2,582.8 L2102.6,582.8 L2103.0,582.8 L2103.4,582.8 L2103.8,582.8 L2104.2,582.8 L2104.6,582.8 L2105.0,582.8 L2105.4,582.8 L2105.8,582.8 L2106.2,582.8 L2106.6,582.8 L2107.0,582.8 L2107.4,582.8 L2107.8,582.8 L2108.2,582.8 L2108.6,582.8 L2109.0,582.8 L2109.4,582.8 L2109.8,582.8 L2110.2,582.8 L2110.6,582.8 L2111.0,582.8 L2111.4,582.8 L2111.8,582.8 L2112.2,582.8 L2112.6,582.8 L2113.0,582.7 L2113.4,582.7 L2113.8,582.7 L2114.2,582.7 L2114.6,582.7 L2115.0,582.7 L2115.4,582.7 L2115.8,582.7 L2116.2,582.6 L2116.6,582.6 L2117.0,582.6 L2117.4,582.6 L2117.8,582.6 L2118.2,582.6 L2118.6,582.5 L2119.0,582.5 L2119.4,582.5 L2119.8,582.5 L2120.2,582.4 L2120.6,582.4 L2121.0,582.4 L2121.4,582.4 L2121.8,582.3 L2122.2,582.3 L2122.6,582.3 L2123.0,582.2 L2123.4,582.2 L2123.8,582.2 L2124.2,582.1 L2124.6,582.1 L2125.0,582.0 L2125.4,582.0 L2125.8,582.0 L2126.2,581.9 L2126.6,581.9 L2127.0,581.8 L2127.4,581.8 L2127.8,581.7 L2128.2,581.6 L2128.6,581.6 L2129.0,581.5 L2129.4,581.5 L2129.8,581.4 L2130.2,581.3 L2130.6,581.3 L2131.0,581.2 L2131.4,581.1 L2131.8,581.0 L2132.2,581.0 L2132.6,580.9 L2133.0,580.8 L2133.4,580.7 L2133.8,580.6 L2134.2,580.5 L2134.6,580.4 L2135.0,580.3 L2135.4,580.1 L2135.8,580.0 L2136.2,579.9 L2136.6,579.8 L2137.0,579.6 L2137.4,579.5 L2137.8,579.3 L2138.2,579.2 L2138.6,579.0 L2139.0,578.8 L2139.4,578.6 L2139.8,578.4 L2140.2,578.2 L2140.6,578.0 L2141.0,577.8 L2141.4,577.5 L2141.8,577.3 L2142.2,577.0 L2142.6,576.7 L2143.0,576.4 L2143.4,576.0 L2143.8,575.7 L2144.2,575.3 L2144.6,574.9 L2145.0,574.5 L2145.4,574.1 L2145.8,573.6 L2146.2,573.1 L2146.6,572.5 L2147.0,572.0 L2147.4,571.3 L2147.8,570.7 L2148.2,570.0 L2148.6,569.3 L2149.0,568.5 L2149.4,567.7 L2149.8,566.8 L2150.2,565.9 L2150.6,564.9 L2151.0,563.9 L2151.4,562.8 L2151.8,561.7 L2152.2,560.5 L2152.6,559.2 L2153.0,557.9 L2153.4,556.6 L2153.8,555.1 L2154.2,553.6 L2154.6,552.1 L2155.0,550.5 L2155.4,548.9 L2155.8,547.2 L2156.2,545.6 L2156.6,543.9 L2157.0,542.2 L2157.4,540.5 L2157.8,538.8 L2158.2,537.2 L2158.6,535.7 L2159.0,534.3 L2159.4,533.0 L2159.8,531.9 L2160.2,530.9 L2160.6,530.1 L2161.0,529.5 L2161.4,529.2 L2161.8,529.1 L2162.2,529.2 L2162.6,529.5 L2163.0,530.1 L2163.4,530.9 L2163.8,531.9 L2164.2,533.0 L2164.6,534.3 L2165.0,535.8 L2165.4,537.3 L2165.8,538.9 L2166.2,540.5 L2166.6,542.2 L2167.0,543.9 L2167.4,545.6 L2167.8,547.3 L2168.2,549.0 L2168.6,550.6 L2169.0,552.2 L2169.4,553.7 L2169.8,555.2 L2170.2,556.7 L2170.6,558.0 L2171.0,559.4 L2171.4,560.6 L2171.8,561.8 L2172.2,563.0 L2172.6,564.0 L2173.0,565.1 L2173.4,566.1 L2173.8,567.0 L2174.2,567.9 L2174.6,568.7 L2175.0,569.5 L2175.4,570.2 L2175.8,570.9 L2176.2,571.5 L2176.6,572.2 L2177.0,572.7 L2177.4,573.3 L2177.8,573.8 L2178.2,574.3 L2178.6,574.7 L2179.0,575.2 L2179.4,575.6 L2179.8,575.9 L2180.2,576.3 L2180.6,576.6 L2181.0,576.9 L2181.4,577.2 L2181.8,577.5 L2182.2,577.8 L2182.6,578.1 L2183.0,578.3 L2183.4,578.5 L2183.8,578.7 L2184.2,578.9 L2184.6,579.1 L2185.0,579.3 L2185.4,579.5 L2185.8,579.7 L2186.2,579.8 L2186.6,580.0 L2187.0,580.1 L2187.4,580.3 L2187.8,580.4 L2188.2,580.5 L2188.6,580.7 L2189.0,580.8 L2189.4,580.9 L2189.8,581.0 L2190.2,581.1 L2190.6,581.2 L2191.0,581.3 L2191.4,581.4 L2191.8,581.5 L2192.2,581.6 L2192.6,581.7 L2193.0,581.7 L2193.4,581.8 L2193.8,581.9 L2194.2,582.0 L2194.6,582.0 L2195.0,582.1 L2195.4,582.2 L2195.8,582.2 L2196.2,582.3 L2196.6,582.4 L2197.0,582.4 L2197.4,582.5 L2197.8,582.5 L2198.2,582.6 L2198.6,582.6 L2199.0,582.7 L2199.4,582.7 L2199.8,582.8 L2200.2,582.8 L2200.6,582.9 L2201.0,582.9 L2201.4,582.9 L2201.8,583.0 L2202.2,583.0 L2202.6,583.1 L2203.0,583.1 L2203.4,583.1 L2203.8,583.2 L2204.2,583.2 L2204.6,583.2 L2205.0,583.3 L2205.4,583.3 L2205.8,583.3 L2206.2,583.4 L2206.6,583.4 L2207.0,583.4 L2207.4,583.5 L2207.8,583.5 L2208.2,583.5 L2208.6,583.5 L2209.0,583.6 L2209.4,583.6 L2209.8,583.6 L2210.2,583.6 L2210.6,583.7 L2211.0,583.7 L2211.4,583.7 L2211.8,583.7 L2212.2,583.8 L2212.6,583.8 L2213.0,583.8 L2213.4,583.8 L2213.8,583.8 L2214.2,583.9 L2214.6,583.9 L2215.0,583.9 L2215.4,583.9 L2215.8,583.9 L2216.2,583.9 L2216.6,584.0 L2217.0,584.0 L2217.4,584.0 L2217.8,584.0 L2218.2,584.0 L2218.6,584.0 L2219.0,584.1 L2219.4,584.1 L2219.8,584.1 L2220.2,584.1 L2220.6,584.1 L2221.0,584.1 L2221.4,584.1 L2221.8,584.2 L2222.2,584.2 L2222.6,584.2 L2223.0,584.2 L2223.4,584.2 L2223.8,584.2 L2224.2,584.2 L2224.6,584.2 L2225.0,584.3 L2225.4,584.3 L2225.8,584.3 L2226.2,584.3 L2226.6,584.3 L2227.0,584.3 L2227.4,584.3 L2227.8,584.3 L2228.2,584.3 L2228.6,584.3 L2229.0,584.4 L2229.4,584.4 L2229.8,584.4 L2230.2,584.4 L2230.6,584.4 L2231.0,584.4 L2231.4,584.4 L2231.8,584.4 L2232.2,584.4 L2232.6,584.4 L2233.0,584.4 L2233.4,584.4 L2233.8,584.5 L2234.2,584.5 L2234.6,584.5 L2235.0,584.5 L2235.4,584.5 L2235.8,584.5 L2236.2,584.5 L2236.6,584.5 L2237.0,584.5 L2237.4,584.5 L2237.8,584.5 L2238.2,584.5 L2238.6,584.5 L2239.0,584.5 L2239.4,584.6 L2239.8,584.6 L2240.2,584.6 L2240.6,584.6 L2241.0,584.6 L2241.4,584.6 L2241.8,584.6 L2242.2,584.6 L2242.6,584.6 L2243.0,584.6 L2243.4,584.6 L2243.8,584.6 L2244.2,584.6 L2244.6,584.6 L2245.0,584.6 L2245.4,584.6 L2245.8,584.6 L2246.2,584.7 L2246.6,584.7 L2247.0,584.7 L2247.4,584.7 L2247.8,584.7 L2248.2,584.7 L2248.6,584.7 L2249.0,584.7 L2249.4,584.7 L2249.8,584.7 L2250.2,584.7 L2250.6,584.7 L2251.0,584.7 L2251.4,584.7 L2251.8,584.7 L2252.2,584.7 L2252.6,584.7 L2253.0,584.7 L2253.4,584.7 L2253.8,584.7 L2254.2,584.7 L2254.6,584.7 L2255.0,584.7 L2255.4,584.8 L2255.8,584.8 L2256.2,584.8 L2256.6,584.8 L2257.0,584.8 L2257.4,584.8 L2257.8,584.8 L2258.2,584.8 L2258.6,584.8 L2259.0,584.8 L2259.4,584.8 L2259.8,584.8 L2260.2,584.8 L2260.6,584.8 L2261.0,584.8 L2261.4,584.8 L2261.8,584.8 L2262.2,584.8 L2262.6,584.8 L2263.0,584.8 L2263.4,584.8 L2263.8,584.8 L2264.2,584.8 L2264.6,584.8 L2265.0,584.8 L2265.4,584.8 L2265.8,584.8 L2266.2,584.8 L2266.6,584.8 L2267.0,584.8 L2267.4,584.9 L2267.8,584.9 L2268.2,584.9 L2268.6,584.9 L2269.0,584.9 L2269.4,584.9 L2269.8,584.9 L2270.2,584.9 L2270.6,584.9 L2271.0,584.9 L2271.4,584.9 L2271.8,584.9 L2272.2,584.9 L2272.6,584.9 L2273.0,584.9 L2273.4,584.9 L2273.8,584.9 L2274.2,584.9 L2274.6,584.9 L2275.0,584.9 L2275.4,584.9 L2275.8,584.9 L2276.2,584.9 L2276.6,584.9 L2277.0,584.9 L2277.4,584.9 L2277.8,584.9 L2278.2,584.9 L2278.6,584.9 L2279.0,584.9 L2279.4,584.9 L2279.8,584.9 L2280.2,584.9 L2280.6,584.9 L2281.0,584.9 L2281.4,584.9 L2281.8,584.9 L2282.2,584.9 L2282.6,584.9 L2283.0,584.9 L2283.4,584.9 L2283.8,584.9 L2284.2,584.9 L2284.6,584.9 L2285.0,584.9 L2285.4,585.0 L2285.8,585.0 L2286.2,585.0 L2286.6,585.0 L2287.0,585.0 L2287.4,585.0 L2287.8,585.0 L2288.2,585.0 L2288.6,585.0 L2289.0,585.0 L2289.4,585.0 L2289.8,585.0 L2290.2,585.0 L2290.6,585.0 L2291.0,585.0 L2291.4,585.0 L2291.8,585.0 L2292.2,585.0 L2292.6,585.0 L2293.0,585.0 L2293.4,585.0 L2293.8,585.0 L2294.2,585.0 L2294.6,585.0 L2295.0,585.0 L2295.4,585.0 L2295.8,585.0 L2296.2,585.0 L2296.6,585.0 L2297.0,585.0 L2297.4,585.0 L2297.8,585.0 L2298.2,585.0 L2298.6,585.0 L2299.0,585.0 L2299.4,585.0 L2299.8,585.0 L2300.2,585.0 L2300.6,585.0 L2301.0,585.0 L2301.4,585.0 L2301.8,585.0 L2302.2,585.0 L2302.6,585.0 L2303.0,585.0 L2303.4,585.0 L2303.8,585.0 L2304.2,585.0 L2304.6,585.0 L2305.0,585.0 L2305.4,585.0 L2305.8,585.0 L2306.2,585.0 L2306.6,585.0 L2307.0,585.0 L2307.4,585.0 L2307.8,585.0 L2308.2,585.0 L2308.6,585.0 L2309.0,585.0 L2309.4,585.0 L2309.8,585.0 L2310.2,585.0 L2310.6,585.0 L2311.0,585.0 L2311.4,585.0 L2311.8,585.0 L2312.2,585.0 L2312.6,585.0 L2313.0,585.0 L2313.4,585.0 L2313.8,585.0 L2314.2,585.0 L2314.6,585.0 L2315.0,585.1 L2315.4,585.1 L2315.8,585.1 L2316.2,585.1 L2316.6,585.1 L2317.0,585.1 L2317.4,585.1 L2317.8,585.1 L2318.2,585.1 L2318.6,585.1 L2319.0,585.1 L2319.4,585.1 L2319.8,585.1 L2320.2,585.1 L2320.6,585.1 L2321.0,585.1 L2321.4,585.1 L2321.8,585.1 L2322.2,585.1 L2322.6,585.1 L2323.0,585.1 L2323.4,585.1 L2323.8,585.1 L2324.2,585.1 L2324.6,585.1 L2325.0,585.1 L2325.4,585.1 L2325.8,585.1 L2326.2,585.1 L2326.6,585.1 L2327.0,585.1 L2327.4,585.1 L2327.8,585.1 L2328.2,585.1 L2328.6,585.1 L2329.0,585.1 L2329.4,585.1 L2329.8,585.1 L2330.2,585.1 L2330.6,585.1 L2331.0,585.1 L2331.4,585.1 L2331.8,585.1 L2332.2,585.1 L2332.6,585.1 L2333.0,585.1 L2333.4,585.1 L2333.8,585.1 L2334.2,585.1 L2334.6,585.1 L2335.0,585.1 L2335.4,585.1 L2335.8,585.1 L2336.2,585.1 L2336.6,585.1 L2337.0,585.1 L2337.4,585.1 L2337.8,585.1 L2338.2,585.1 L2338.6,585.1 L2339.0,585.1 L2339.4,585.1 L2339.8,585.1 L2340.2,585.1 L2340.6,585.1 L2341.0,585.1 L2341.4,585.1 L2341.8,585.1 L2342.2,585.1 L2342.6,585.1 L2343.0,585.1 L2343.4,585.1 L2343.8,585.1 L2344.2,585.1 L2344.6,585.1 L2345.0,585.1 L2345.4,585.1 L2345.8,585.1 L2346.2,585.1 L2346.6,585.1 L2347.0,585.1 L2347.4,585.1 L2347.8,585.1 L2348.2,585.1 L2348.6,585.1 L2349.0,585.1 L2349.4,585.1 L2349.8,585.1 L2350.2,585.1 L2350.6,585.1 L2351.0,585.1 L2351.4,585.1 L2351.8,585.1 L2352.2,585.1 L2352.6,585.1 L2353.0,585.1 L2353.4,585.1 L2353.8,585.1 L2354.2,585.1 L2354.6,585.1 L2355.0,585.1 L2355.4,585.1 L2355.8,585.1 L2356.2,585.1 L2356.6,585.1 L2357.0,585.1 L2357.4,585.1 L2357.8,585.1 L2358.2,585.1 L2358.6,585.1 L2359.0,585.1 L2359.4,585.1 L2359.8,585.1 L2360.2,585.1 L2360.6,585.1 L2361.0,585.1 L2361.4,585.1 L2361.8,585.1 L2362.2,585.1 L2362.6,585.1 L2363.0,585.1 L2363.4,585.1 L2363.8,585.1 L2364.2,585.1 L2364.6,585.1 L2365.0,585.1 L2365.4,585.1 L2365.8,585.1 L2366.2,585.1 L2366.6,585.1 L2367.0,585.1 L2367.4,585.1 L2367.8,585.1 L2368.2,585.1 L2368.6,585.1 L2369.0,585.1 L2369.4,585.1 L2369.8,585.1 L2370.2,585.1 L2370.6,585.1 L2371.0,585.1 L2371.4,585.1 L2371.8,585.1 L2372.2,585.1 L2372.6,585.1 L2373.0,585.1 L2373.4,585.1 L2373.8,585.1 L2374.2,585.2 L2374.6,585.2 L2375.0,585.2 L2375.4,585.2 L2375.8,585.2 L2376.2,585.2 L2376.6,585.2 L2377.0,585.2 L2377.4,585.2 L2377.8,585.2 L2378.2,585.2 L2378.6,585.2 L2379.0,585.2 L2379.4,585.2 L2379.8,585.2 L2380.2,585.2 L2380.6,585.2 L2381.0,585.2 L2381.4,585.2 L2381.8,585.2 L2382.2,585.2 L2382.6,585.2 L2383.0,585.2 L2383.4,585.2 L2383.8,585.2 L2384.2,585.2 L2384.6,585.2 L2385.0,585.2 L2385.4,585.2 L2385.8,585.2 L2386.2,585.2 L2386.6,585.2 L2387.0,585.2 L2387.4,585.2 L2387.8,585.2 L2388.2,585.2 L2388.6,585.2 L2389.0,585.2 L2389.4,585.2 L2389.8,585.2 L2390.2,585.2 L2390.6,585.2 L2391.0,585.2 L2391.4,585.2 L2391.8,585.2 L2392.2,585.2 L2392.6,585.2 L2393.0,585.2 L2393.4,585.2 L2393.8,585.2 L2394.2,585.2 L2394.6,585.2 L2395.0,585.2 L2395.4,585.2 L2395.8,585.2 L2396.2,585.2 L2396.6,585.2 L2397.0,585.2 L2397.4,585.2 L2397.8,585.2 L2398.2,585.2 L2398.6,585.2 L2399.0,585.2 L2399.4,585.2 L2399.8,585.2 L2400.2,585.2 L2400.6,585.2 L2401.0,585.2 L2401.4,585.2 L2401.8,585.2 L2402.2,585.2 L2402.6,585.2 L2403.0,585.2 L2403.4,585.2 L2403.8,585.2 L2404.2,585.2 L2404.6,585.2 L2405.0,585.2 L2405.4,585.2 L2405.8,585.2 L2406.2,585.2 L2406.6,585.2 L2407.0,585.2 L2407.4,585.2 L2407.8,585.2 L2408.2,585.2 L2408.6,585.2 L2409.0,585.2 L2409.4,585.2 L2409.8,585.2 L2410.2,585.2 L2410.6,585.2 L2411.0,585.2 L2411.4,585.2 L2411.8,585.2 L2412.2,585.2 L2412.6,585.2 L2413.0,585.2 L2413.4,585.2 L2413.8,585.2 L2414.2,585.2 L2414.6,585.2 L2415.0,585.2 L2415.4,585.2 L2415.8,585.2 L2416.2,585.2 L2416.6,585.2 L2417.0,585.2 L2417.4,585.2 L2417.8,585.2 L2418.2,585.2 L2418.6,585.2 L2419.0,585.2 L2419.4,585.2 L2419.8,585.2 L2420.2,585.2 L2420.6,585.2 L2421.0,585.2 L2421.4,585.2 L2421.8,585.2 L2422.2,585.2 L2422.6,585.2 L2423.0,585.2 L2423.4,585.2 L2423.8,585.2 L2424.2,585.2 L2424.6,585.2 L2425.0,585.2 L2425.4,585.2 L2425.8,585.2 L2426.2,585.2 L2426.6,585.2 L2427.0,585.2 L2427.4,585.2 L2427.8,585.2 L2428.2,585.2 L2428.6,585.2 L2429.0,585.2 L2429.4,585.2 L2429.8,585.2 L2430.2,585.2 L2430.6,585.2 L2431.0,585.2 L2431.4,585.2 L2431.8,585.2 L2432.2,585.2 L2432.6,585.2 L2433.0,585.2 L2433.4,585.2 L2433.8,585.2 L2434.2,585.2 L2434.6,585.2 L2435.0,585.2 L2435.4,585.2 L2435.8,585.2 L2436.2,585.2 L2436.6,585.2 L2437.0,585.2 L2437.4,585.2 L2437.8,585.2 L2438.2,585.2 L2438.6,585.2 L2439.0,585.2 L2439.4,585.2 L2439.8,585.2 L2440.2,585.2 L2440.6,585.2 L2441.0,585.2 L2441.4,585.2 L2441.8,585.2 L2442.2,585.2 L2442.6,585.2 L2443.0,585.2 L2443.4,585.2 L2443.8,585.2 L2444.2,585.2 L2444.6,585.2 L2445.0,585.2 L2445.4,585.2 L2445.8,585.2 L2446.2,585.2 L2446.6,585.2 L2447.0,585.2 L2447.4,585.2 L2447.8,585.2 L2448.2,585.2 L2448.6,585.2 L2449.0,585.2 L2449.4,585.2 L2449.8,585.2 L2450.2,585.2 L2450.6,585.2 L2451.0,585.2"/>
<path class="tr" stroke="#4f8f14" stroke-width="7.5" d="M1307.0,836.9 L1307.4,836.9 L1307.8,836.9 L1308.2,836.9 L1308.6,836.9 L1309.0,836.9 L1309.4,836.9 L1309.8,836.9 L1310.2,836.9 L1310.6,836.9 L1311.0,836.9 L1311.4,836.9 L1311.8,836.9 L1312.2,836.9 L1312.6,836.9 L1313.0,836.9 L1313.4,836.9 L1313.8,836.9 L1314.2,836.9 L1314.6,836.9 L1315.0,836.9 L1315.4,836.9 L1315.8,836.9 L1316.2,836.9 L1316.6,836.9 L1317.0,836.9 L1317.4,836.9 L1317.8,836.9 L1318.2,836.9 L1318.6,836.9 L1319.0,836.9 L1319.4,836.9 L1319.8,836.9 L1320.2,836.9 L1320.6,836.9 L1321.0,836.9 L1321.4,836.9 L1321.8,836.9 L1322.2,836.9 L1322.6,836.9 L1323.0,836.9 L1323.4,836.9 L1323.8,836.9 L1324.2,836.9 L1324.6,836.9 L1325.0,836.9 L1325.4,836.9 L1325.8,836.9 L1326.2,836.9 L1326.6,836.9 L1327.0,836.9 L1327.4,836.9 L1327.8,836.9 L1328.2,836.9 L1328.6,836.9 L1329.0,836.9 L1329.4,836.9 L1329.8,836.9 L1330.2,836.9 L1330.6,836.9 L1331.0,836.9 L1331.4,836.9 L1331.8,836.9 L1332.2,836.9 L1332.6,836.9 L1333.0,836.9 L1333.4,836.9 L1333.8,836.9 L1334.2,836.9 L1334.6,836.9 L1335.0,836.9 L1335.4,836.9 L1335.8,836.9 L1336.2,836.9 L1336.6,836.9 L1337.0,836.9 L1337.4,836.9 L1337.8,836.9 L1338.2,836.9 L1338.6,836.9 L1339.0,836.9 L1339.4,836.9 L1339.8,836.9 L1340.2,836.9 L1340.6,836.9 L1341.0,836.9 L1341.4,836.9 L1341.8,836.9 L1342.2,836.9 L1342.6,836.9 L1343.0,836.9 L1343.4,836.9 L1343.8,836.9 L1344.2,836.9 L1344.6,836.9 L1345.0,836.9 L1345.4,836.9 L1345.8,836.9 L1346.2,836.9 L1346.6,836.9 L1347.0,836.9 L1347.4,836.9 L1347.8,836.9 L1348.2,836.9 L1348.6,836.9 L1349.0,836.9 L1349.4,836.9 L1349.8,836.9 L1350.2,836.9 L1350.6,836.9 L1351.0,836.9 L1351.4,836.9 L1351.8,836.9 L1352.2,836.9 L1352.6,836.9 L1353.0,836.9 L1353.4,836.9 L1353.8,836.9 L1354.2,836.9 L1354.6,836.9 L1355.0,836.9 L1355.4,836.9 L1355.8,836.9 L1356.2,836.9 L1356.6,836.9 L1357.0,836.9 L1357.4,836.9 L1357.8,836.9 L1358.2,836.9 L1358.6,836.9 L1359.0,836.9 L1359.4,836.9 L1359.8,836.9 L1360.2,836.9 L1360.6,836.9 L1361.0,836.9 L1361.4,836.9 L1361.8,836.9 L1362.2,836.9 L1362.6,836.9 L1363.0,836.9 L1363.4,836.9 L1363.8,836.9 L1364.2,836.9 L1364.6,836.9 L1365.0,836.9 L1365.4,836.9 L1365.8,836.9 L1366.2,836.9 L1366.6,836.9 L1367.0,836.9 L1367.4,836.9 L1367.8,836.9 L1368.2,836.9 L1368.6,836.9 L1369.0,836.9 L1369.4,836.9 L1369.8,836.9 L1370.2,836.9 L1370.6,836.9 L1371.0,836.9 L1371.4,836.9 L1371.8,836.9 L1372.2,836.9 L1372.6,836.9 L1373.0,836.9 L1373.4,836.9 L1373.8,836.9 L1374.2,836.9 L1374.6,836.9 L1375.0,836.9 L1375.4,836.9 L1375.8,836.9 L1376.2,836.9 L1376.6,836.9 L1377.0,836.9 L1377.4,836.9 L1377.8,836.9 L1378.2,836.9 L1378.6,836.9 L1379.0,836.9 L1379.4,836.9 L1379.8,836.9 L1380.2,836.9 L1380.6,836.9 L1381.0,836.9 L1381.4,836.9 L1381.8,836.9 L1382.2,836.9 L1382.6,836.9 L1383.0,836.9 L1383.4,836.9 L1383.8,836.9 L1384.2,836.9 L1384.6,836.9 L1385.0,836.9 L1385.4,836.9 L1385.8,836.9 L1386.2,836.9 L1386.6,836.9 L1387.0,836.9 L1387.4,836.9 L1387.8,836.9 L1388.2,836.9 L1388.6,836.9 L1389.0,836.9 L1389.4,836.9 L1389.8,836.9 L1390.2,836.9 L1390.6,836.9 L1391.0,836.9 L1391.4,836.9 L1391.8,836.9 L1392.2,836.9 L1392.6,836.9 L1393.0,836.9 L1393.4,836.9 L1393.8,836.9 L1394.2,836.9 L1394.6,836.9 L1395.0,836.9 L1395.4,836.9 L1395.8,836.9 L1396.2,836.9 L1396.6,836.9 L1397.0,836.9 L1397.4,836.9 L1397.8,836.9 L1398.2,836.9 L1398.6,836.9 L1399.0,836.9 L1399.4,836.9 L1399.8,836.9 L1400.2,836.9 L1400.6,836.9 L1401.0,836.9 L1401.4,836.9 L1401.8,836.9 L1402.2,836.9 L1402.6,836.9 L1403.0,836.9 L1403.4,836.9 L1403.8,836.9 L1404.2,836.9 L1404.6,836.8 L1405.0,836.8 L1405.4,836.8 L1405.8,836.8 L1406.2,836.8 L1406.6,836.8 L1407.0,836.8 L1407.4,836.8 L1407.8,836.8 L1408.2,836.8 L1408.6,836.8 L1409.0,836.8 L1409.4,836.8 L1409.8,836.8 L1410.2,836.8 L1410.6,836.8 L1411.0,836.8 L1411.4,836.8 L1411.8,836.8 L1412.2,836.8 L1412.6,836.8 L1413.0,836.8 L1413.4,836.8 L1413.8,836.8 L1414.2,836.8 L1414.6,836.8 L1415.0,836.8 L1415.4,836.8 L1415.8,836.8 L1416.2,836.8 L1416.6,836.8 L1417.0,836.8 L1417.4,836.8 L1417.8,836.8 L1418.2,836.8 L1418.6,836.8 L1419.0,836.8 L1419.4,836.8 L1419.8,836.8 L1420.2,836.8 L1420.6,836.8 L1421.0,836.8 L1421.4,836.8 L1421.8,836.8 L1422.2,836.8 L1422.6,836.8 L1423.0,836.8 L1423.4,836.8 L1423.8,836.8 L1424.2,836.8 L1424.6,836.8 L1425.0,836.8 L1425.4,836.8 L1425.8,836.8 L1426.2,836.8 L1426.6,836.8 L1427.0,836.8 L1427.4,836.8 L1427.8,836.8 L1428.2,836.8 L1428.6,836.8 L1429.0,836.8 L1429.4,836.8 L1429.8,836.8 L1430.2,836.8 L1430.6,836.8 L1431.0,836.8 L1431.4,836.8 L1431.8,836.8 L1432.2,836.8 L1432.6,836.8 L1433.0,836.8 L1433.4,836.8 L1433.8,836.8 L1434.2,836.8 L1434.6,836.8 L1435.0,836.8 L1435.4,836.8 L1435.8,836.8 L1436.2,836.8 L1436.6,836.8 L1437.0,836.8 L1437.4,836.8 L1437.8,836.8 L1438.2,836.8 L1438.6,836.8 L1439.0,836.8 L1439.4,836.8 L1439.8,836.8 L1440.2,836.8 L1440.6,836.8 L1441.0,836.8 L1441.4,836.8 L1441.8,836.8 L1442.2,836.8 L1442.6,836.8 L1443.0,836.8 L1443.4,836.8 L1443.8,836.8 L1444.2,836.8 L1444.6,836.8 L1445.0,836.8 L1445.4,836.8 L1445.8,836.8 L1446.2,836.8 L1446.6,836.8 L1447.0,836.7 L1447.4,836.7 L1447.8,836.7 L1448.2,836.7 L1448.6,836.7 L1449.0,836.7 L1449.4,836.7 L1449.8,836.7 L1450.2,836.7 L1450.6,836.7 L1451.0,836.7 L1451.4,836.7 L1451.8,836.7 L1452.2,836.7 L1452.6,836.7 L1453.0,836.7 L1453.4,836.7 L1453.8,836.7 L1454.2,836.7 L1454.6,836.7 L1455.0,836.7 L1455.4,836.7 L1455.8,836.7 L1456.2,836.7 L1456.6,836.7 L1457.0,836.7 L1457.4,836.7 L1457.8,836.7 L1458.2,836.7 L1458.6,836.7 L1459.0,836.7 L1459.4,836.7 L1459.8,836.7 L1460.2,836.7 L1460.6,836.7 L1461.0,836.7 L1461.4,836.7 L1461.8,836.7 L1462.2,836.7 L1462.6,836.7 L1463.0,836.7 L1463.4,836.7 L1463.8,836.7 L1464.2,836.7 L1464.6,836.7 L1465.0,836.7 L1465.4,836.7 L1465.8,836.7 L1466.2,836.7 L1466.6,836.7 L1467.0,836.7 L1467.4,836.6 L1467.8,836.6 L1468.2,836.6 L1468.6,836.6 L1469.0,836.6 L1469.4,836.6 L1469.8,836.6 L1470.2,836.6 L1470.6,836.6 L1471.0,836.6 L1471.4,836.6 L1471.8,836.6 L1472.2,836.6 L1472.6,836.6 L1473.0,836.6 L1473.4,836.6 L1473.8,836.6 L1474.2,836.6 L1474.6,836.6 L1475.0,836.6 L1475.4,836.6 L1475.8,836.6 L1476.2,836.6 L1476.6,836.6 L1477.0,836.6 L1477.4,836.6 L1477.8,836.6 L1478.2,836.6 L1478.6,836.6 L1479.0,836.6 L1479.4,836.6 L1479.8,836.6 L1480.2,836.5 L1480.6,836.5 L1481.0,836.5 L1481.4,836.5 L1481.8,836.5 L1482.2,836.5 L1482.6,836.5 L1483.0,836.5 L1483.4,836.5 L1483.8,836.5 L1484.2,836.5 L1484.6,836.5 L1485.0,836.5 L1485.4,836.5 L1485.8,836.5 L1486.2,836.5 L1486.6,836.5 L1487.0,836.5 L1487.4,836.5 L1487.8,836.5 L1488.2,836.5 L1488.6,836.5 L1489.0,836.4 L1489.4,836.4 L1489.8,836.4 L1490.2,836.4 L1490.6,836.4 L1491.0,836.4 L1491.4,836.4 L1491.8,836.4 L1492.2,836.4 L1492.6,836.4 L1493.0,836.4 L1493.4,836.4 L1493.8,836.4 L1494.2,836.4 L1494.6,836.4 L1495.0,836.4 L1495.4,836.3 L1495.8,836.3 L1496.2,836.3 L1496.6,836.3 L1497.0,836.3 L1497.4,836.3 L1497.8,836.3 L1498.2,836.3 L1498.6,836.3 L1499.0,836.3 L1499.4,836.3 L1499.8,836.3 L1500.2,836.3 L1500.6,836.2 L1501.0,836.2 L1501.4,836.2 L1501.8,836.2 L1502.2,836.2 L1502.6,836.2 L1503.0,836.2 L1503.4,836.2 L1503.8,836.2 L1504.2,836.2 L1504.6,836.1 L1505.0,836.1 L1505.4,836.1 L1505.8,836.1 L1506.2,836.1 L1506.6,836.1 L1507.0,836.1 L1507.4,836.1 L1507.8,836.1 L1508.2,836.0 L1508.6,836.0 L1509.0,836.0 L1509.4,836.0 L1509.8,836.0 L1510.2,836.0 L1510.6,836.0 L1511.0,835.9 L1511.4,835.9 L1511.8,835.9 L1512.2,835.9 L1512.6,835.9 L1513.0,835.9 L1513.4,835.8 L1513.8,835.8 L1514.2,835.8 L1514.6,835.8 L1515.0,835.8 L1515.4,835.7 L1515.8,835.7 L1516.2,835.7 L1516.6,835.7 L1517.0,835.7 L1517.4,835.6 L1517.8,835.6 L1518.2,835.6 L1518.6,835.6 L1519.0,835.5 L1519.4,835.5 L1519.8,835.5 L1520.2,835.5 L1520.6,835.4 L1521.0,835.4 L1521.4,835.4 L1521.8,835.4 L1522.2,835.3 L1522.6,835.3 L1523.0,835.3 L1523.4,835.2 L1523.8,835.2 L1524.2,835.2 L1524.6,835.1 L1525.0,835.1 L1525.4,835.0 L1525.8,835.0 L1526.2,835.0 L1526.6,834.9 L1527.0,834.9 L1527.4,834.8 L1527.8,834.8 L1528.2,834.7 L1528.6,834.7 L1529.0,834.6 L1529.4,834.6 L1529.8,834.5 L1530.2,834.5 L1530.6,834.4 L1531.0,834.3 L1531.4,834.3 L1531.8,834.2 L1532.2,834.1 L1532.6,834.1 L1533.0,834.0 L1533.4,833.9 L1533.8,833.8 L1534.2,833.7 L1534.6,833.7 L1535.0,833.6 L1535.4,833.5 L1535.8,833.4 L1536.2,833.3 L1536.6,833.1 L1537.0,833.0 L1537.4,832.9 L1537.8,832.8 L1538.2,832.6 L1538.6,832.5 L1539.0,832.3 L1539.4,832.2 L1539.8,832.0 L1540.2,831.8 L1540.6,831.6 L1541.0,831.4 L1541.4,831.2 L1541.8,830.9 L1542.2,830.7 L1542.6,830.4 L1543.0,830.1 L1543.4,829.8 L1543.8,829.4 L1544.2,829.1 L1544.6,828.7 L1545.0,828.3 L1545.4,827.8 L1545.8,827.3 L1546.2,826.8 L1546.6,826.3 L1547.0,825.7 L1547.4,825.1 L1547.8,824.4 L1548.2,823.7 L1548.6,823.0 L1549.0,822.2 L1549.4,821.4 L1549.8,820.5 L1550.2,819.5 L1550.6,818.5 L1551.0,817.5 L1551.4,816.4 L1551.8,815.3 L1552.2,814.1 L1552.6,812.9 L1553.0,811.6 L1553.4,810.2 L1553.8,808.9 L1554.2,807.5 L1554.6,806.0 L1555.0,804.5 L1555.4,803.0 L1555.8,801.5 L1556.2,800.0 L1556.6,798.5 L1557.0,797.0 L1557.4,795.6 L1557.8,794.2 L1558.2,792.8 L1558.6,791.6 L1559.0,790.5 L1559.4,789.5 L1559.8,788.6 L1560.2,787.9 L1560.6,787.4 L1561.0,787.1 L1561.4,786.9 L1561.8,787.0 L1562.2,787.2 L1562.6,787.6 L1563.0,788.2 L1563.4,789.0 L1563.8,790.0 L1564.2,791.0 L1564.6,792.2 L1565.0,793.5 L1565.4,794.9 L1565.8,796.3 L1566.2,797.7 L1566.6,799.2 L1567.0,800.8 L1567.4,802.3 L1567.8,803.8 L1568.2,805.3 L1568.6,806.7 L1569.0,808.2 L1569.4,809.6 L1569.8,810.9 L1570.2,812.2 L1570.6,813.5 L1571.0,814.7 L1571.4,815.9 L1571.8,817.0 L1572.2,818.0 L1572.6,819.0 L1573.0,820.0 L1573.4,820.9 L1573.8,821.8 L1574.2,822.6 L1574.6,823.3 L1575.0,824.1 L1575.4,824.7 L1575.8,825.4 L1576.2,826.0 L1576.6,826.5 L1577.0,827.1 L1577.4,827.6 L1577.8,828.0 L1578.2,828.5 L1578.6,828.9 L1579.0,829.2 L1579.4,829.6 L1579.8,829.9 L1580.2,830.2 L1580.6,830.5 L1581.0,830.8 L1581.4,831.0 L1581.8,831.2 L1582.2,831.5 L1582.6,831.7 L1583.0,831.9 L1583.4,832.0 L1583.8,832.2 L1584.2,832.4 L1584.6,832.5 L1585.0,832.7 L1585.4,832.8 L1585.8,832.9 L1586.2,833.0 L1586.6,833.2 L1587.0,833.3 L1587.4,833.4 L1587.8,833.5 L1588.2,833.6 L1588.6,833.7 L1589.0,833.7 L1589.4,833.8 L1589.8,833.9 L1590.2,834.0 L1590.6,834.1 L1591.0,834.1 L1591.4,834.2 L1591.8,834.3 L1592.2,834.3 L1592.6,834.4 L1593.0,834.4 L1593.4,834.5 L1593.8,834.6 L1594.2,834.6 L1594.6,834.7 L1595.0,834.7 L1595.4,834.8 L1595.8,834.8 L1596.2,834.8 L1596.6,834.9 L1597.0,834.9 L1597.4,835.0 L1597.8,835.0 L1598.2,835.0 L1598.6,835.1 L1599.0,835.1 L1599.4,835.2 L1599.8,835.2 L1600.2,835.2 L1600.6,835.2 L1601.0,835.3 L1601.4,835.3 L1601.8,835.3 L1602.2,835.4 L1602.6,835.4 L1603.0,835.4 L1603.4,835.4 L1603.8,835.5 L1604.2,835.5 L1604.6,835.5 L1605.0,835.5 L1605.4,835.6 L1605.8,835.6 L1606.2,835.6 L1606.6,835.6 L1607.0,835.7 L1607.4,835.7 L1607.8,835.7 L1608.2,835.7 L1608.6,835.7 L1609.0,835.7 L1609.4,835.8 L1609.8,835.8 L1610.2,835.8 L1610.6,835.8 L1611.0,835.8 L1611.4,835.8 L1611.8,835.9 L1612.2,835.9 L1612.6,835.9 L1613.0,835.9 L1613.4,835.9 L1613.8,835.9 L1614.2,835.9 L1614.6,836.0 L1615.0,836.0 L1615.4,836.0 L1615.8,836.0 L1616.2,836.0 L1616.6,836.0 L1617.0,836.0 L1617.4,836.0 L1617.8,836.0 L1618.2,836.1 L1618.6,836.1 L1619.0,836.1 L1619.4,836.1 L1619.8,836.1 L1620.2,836.1 L1620.6,836.1 L1621.0,836.1 L1621.4,836.1 L1621.8,836.1 L1622.2,836.1 L1622.6,836.2 L1623.0,836.2 L1623.4,836.2 L1623.8,836.2 L1624.2,836.2 L1624.6,836.2 L1625.0,836.2 L1625.4,836.2 L1625.8,836.2 L1626.2,836.2 L1626.6,836.2 L1627.0,836.2 L1627.4,836.2 L1627.8,836.3 L1628.2,836.3 L1628.6,836.3 L1629.0,836.3 L1629.4,836.3 L1629.8,836.3 L1630.2,836.3 L1630.6,836.3 L1631.0,836.3 L1631.4,836.3 L1631.8,836.3 L1632.2,836.3 L1632.6,836.3 L1633.0,836.3 L1633.4,836.3 L1633.8,836.3 L1634.2,836.3 L1634.6,836.3 L1635.0,836.3 L1635.4,836.4 L1635.8,836.4 L1636.2,836.4 L1636.6,836.4 L1637.0,836.4 L1637.4,836.4 L1637.8,836.4 L1638.2,836.4 L1638.6,836.4 L1639.0,836.4 L1639.4,836.4 L1639.8,836.4 L1640.2,836.4 L1640.6,836.4 L1641.0,836.4 L1641.4,836.4 L1641.8,836.4 L1642.2,836.4 L1642.6,836.4 L1643.0,836.4 L1643.4,836.4 L1643.8,836.4 L1644.2,836.4 L1644.6,836.4 L1645.0,836.4 L1645.4,836.4 L1645.8,836.4 L1646.2,836.4 L1646.6,836.4 L1647.0,836.4 L1647.4,836.4 L1647.8,836.5 L1648.2,836.5 L1648.6,836.5 L1649.0,836.5 L1649.4,836.5 L1649.8,836.5 L1650.2,836.5 L1650.6,836.5 L1651.0,836.5 L1651.4,836.5 L1651.8,836.5 L1652.2,836.5 L1652.6,836.5 L1653.0,836.5 L1653.4,836.5 L1653.8,836.5 L1654.2,836.5 L1654.6,836.5 L1655.0,836.5 L1655.4,836.5 L1655.8,836.5 L1656.2,836.5 L1656.6,836.5 L1657.0,836.5 L1657.4,836.5 L1657.8,836.5 L1658.2,836.5 L1658.6,836.5 L1659.0,836.5 L1659.4,836.5 L1659.8,836.5 L1660.2,836.5 L1660.6,836.5 L1661.0,836.5 L1661.4,836.5 L1661.8,836.5 L1662.2,836.5 L1662.6,836.5 L1663.0,836.5 L1663.4,836.5 L1663.8,836.5 L1664.2,836.5 L1664.6,836.5 L1665.0,836.5 L1665.4,836.5 L1665.8,836.5 L1666.2,836.5 L1666.6,836.5 L1667.0,836.5 L1667.4,836.5 L1667.8,836.5 L1668.2,836.5 L1668.6,836.5 L1669.0,836.5 L1669.4,836.5 L1669.8,836.5 L1670.2,836.5 L1670.6,836.5 L1671.0,836.5 L1671.4,836.5 L1671.8,836.5 L1672.2,836.5 L1672.6,836.5 L1673.0,836.5 L1673.4,836.5 L1673.8,836.5 L1674.2,836.5 L1674.6,836.5 L1675.0,836.5 L1675.4,836.5 L1675.8,836.5 L1676.2,836.5 L1676.6,836.5 L1677.0,836.5 L1677.4,836.5 L1677.8,836.5 L1678.2,836.5 L1678.6,836.5 L1679.0,836.5 L1679.4,836.5 L1679.8,836.5 L1680.2,836.5 L1680.6,836.5 L1681.0,836.5 L1681.4,836.5 L1681.8,836.5 L1682.2,836.5 L1682.6,836.5 L1683.0,836.5 L1683.4,836.5 L1683.8,836.5 L1684.2,836.5 L1684.6,836.5 L1685.0,836.5 L1685.4,836.5 L1685.8,836.5 L1686.2,836.5 L1686.6,836.5 L1687.0,836.5 L1687.4,836.5 L1687.8,836.5 L1688.2,836.5 L1688.6,836.5 L1689.0,836.5 L1689.4,836.5 L1689.8,836.5 L1690.2,836.5 L1690.6,836.5 L1691.0,836.5 L1691.4,836.5 L1691.8,836.5 L1692.2,836.5 L1692.6,836.5 L1693.0,836.5 L1693.4,836.5 L1693.8,836.5 L1694.2,836.5 L1694.6,836.5 L1695.0,836.5 L1695.4,836.5 L1695.8,836.5 L1696.2,836.5 L1696.6,836.5 L1697.0,836.5 L1697.4,836.5 L1697.8,836.5 L1698.2,836.5 L1698.6,836.5 L1699.0,836.5 L1699.4,836.5 L1699.8,836.5 L1700.2,836.5 L1700.6,836.5 L1701.0,836.5 L1701.4,836.5 L1701.8,836.5 L1702.2,836.5 L1702.6,836.5 L1703.0,836.5 L1703.4,836.5 L1703.8,836.5 L1704.2,836.5 L1704.6,836.5 L1705.0,836.5 L1705.4,836.5 L1705.8,836.5 L1706.2,836.5 L1706.6,836.5 L1707.0,836.5 L1707.4,836.5 L1707.8,836.5 L1708.2,836.5 L1708.6,836.4 L1709.0,836.4 L1709.4,836.4 L1709.8,836.4 L1710.2,836.4 L1710.6,836.4 L1711.0,836.4 L1711.4,836.4 L1711.8,836.4 L1712.2,836.4 L1712.6,836.4 L1713.0,836.4 L1713.4,836.4 L1713.8,836.4 L1714.2,836.4 L1714.6,836.4 L1715.0,836.4 L1715.4,836.4 L1715.8,836.4 L1716.2,836.4 L1716.6,836.4 L1717.0,836.4 L1717.4,836.4 L1717.8,836.4 L1718.2,836.4 L1718.6,836.4 L1719.0,836.4 L1719.4,836.4 L1719.8,836.4 L1720.2,836.4 L1720.6,836.4 L1721.0,836.4 L1721.4,836.4 L1721.8,836.4 L1722.2,836.4 L1722.6,836.4 L1723.0,836.4 L1723.4,836.4 L1723.8,836.3 L1724.2,836.3 L1724.6,836.3 L1725.0,836.3 L1725.4,836.3 L1725.8,836.3 L1726.2,836.3 L1726.6,836.3 L1727.0,836.3 L1727.4,836.3 L1727.8,836.3 L1728.2,836.3 L1728.6,836.3 L1729.0,836.3 L1729.4,836.3 L1729.8,836.3 L1730.2,836.3 L1730.6,836.3 L1731.0,836.3 L1731.4,836.3 L1731.8,836.3 L1732.2,836.3 L1732.6,836.3 L1733.0,836.3 L1733.4,836.2 L1733.8,836.2 L1734.2,836.2 L1734.6,836.2 L1735.0,836.2 L1735.4,836.2 L1735.8,836.2 L1736.2,836.2 L1736.6,836.2 L1737.0,836.2 L1737.4,836.2 L1737.8,836.2 L1738.2,836.2 L1738.6,836.2 L1739.0,836.2 L1739.4,836.2 L1739.8,836.2 L1740.2,836.2 L1740.6,836.1 L1741.0,836.1 L1741.4,836.1 L1741.8,836.1 L1742.2,836.1 L1742.6,836.1 L1743.0,836.1 L1743.4,836.1 L1743.8,836.1 L1744.2,836.1 L1744.6,836.1 L1745.0,836.1 L1745.4,836.1 L1745.8,836.1 L1746.2,836.1 L1746.6,836.0 L1747.0,836.0 L1747.4,836.0 L1747.8,836.0 L1748.2,836.0 L1748.6,836.0 L1749.0,836.0 L1749.4,836.0 L1749.8,836.0 L1750.2,836.0 L1750.6,836.0 L1751.0,836.0 L1751.4,835.9 L1751.8,835.9 L1752.2,835.9 L1752.6,835.9 L1753.0,835.9 L1753.4,835.9 L1753.8,835.9 L1754.2,835.9 L1754.6,835.9 L1755.0,835.8 L1755.4,835.8 L1755.8,835.8 L1756.2,835.8 L1756.6,835.8 L1757.0,835.8 L1757.4,835.8 L1757.8,835.8 L1758.2,835.8 L1758.6,835.7 L1759.0,835.7 L1759.4,835.7 L1759.8,835.7 L1760.2,835.7 L1760.6,835.7 L1761.0,835.7 L1761.4,835.6 L1761.8,835.6 L1762.2,835.6 L1762.6,835.6 L1763.0,835.6 L1763.4,835.6 L1763.8,835.6 L1764.2,835.5 L1764.6,835.5 L1765.0,835.5 L1765.4,835.5 L1765.8,835.5 L1766.2,835.5 L1766.6,835.4 L1767.0,835.4 L1767.4,835.4 L1767.8,835.4 L1768.2,835.4 L1768.6,835.3 L1769.0,835.3 L1769.4,835.3 L1769.8,835.3 L1770.2,835.3 L1770.6,835.2 L1771.0,835.2 L1771.4,835.2 L1771.8,835.2 L1772.2,835.1 L1772.6,835.1 L1773.0,835.1 L1773.4,835.1 L1773.8,835.0 L1774.2,835.0 L1774.6,835.0 L1775.0,835.0 L1775.4,834.9 L1775.8,834.9 L1776.2,834.9 L1776.6,834.8 L1777.0,834.8 L1777.4,834.8 L1777.8,834.7 L1778.2,834.7 L1778.6,834.7 L1779.0,834.6 L1779.4,834.6 L1779.8,834.6 L1780.2,834.5 L1780.6,834.5 L1781.0,834.4 L1781.4,834.4 L1781.8,834.4 L1782.2,834.3 L1782.6,834.3 L1783.0,834.2 L1783.4,834.2 L1783.8,834.1 L1784.2,834.1 L1784.6,834.0 L1785.0,834.0 L1785.4,833.9 L1785.8,833.9 L1786.2,833.8 L1786.6,833.8 L1787.0,833.7 L1787.4,833.6 L1787.8,833.6 L1788.2,833.5 L1788.6,833.4 L1789.0,833.4 L1789.4,833.3 L1789.8,833.2 L1790.2,833.2 L1790.6,833.1 L1791.0,833.0 L1791.4,832.9 L1791.8,832.8 L1792.2,832.7 L1792.6,832.6 L1793.0,832.6 L1793.4,832.5 L1793.8,832.4 L1794.2,832.3 L1794.6,832.1 L1795.0,832.0 L1795.4,831.9 L1795.8,831.8 L1796.2,831.7 L1796.6,831.5 L1797.0,831.4 L1797.4,831.3 L1797.8,831.1 L1798.2,831.0 L1798.6,830.8 L1799.0,830.6 L1799.4,830.5 L1799.8,830.3 L1800.2,830.1 L1800.6,829.9 L1801.0,829.7 L1801.4,829.5 L1801.8,829.3 L1802.2,829.0 L1802.6,828.8 L1803.0,828.5 L1803.4,828.3 L1803.8,828.0 L1804.2,827.7 L1804.6,827.4 L1805.0,827.0 L1805.4,826.7 L1805.8,826.3 L1806.2,825.9 L1806.6,825.5 L1807.0,825.1 L1807.4,824.7 L1807.8,824.2 L1808.2,823.7 L1808.6,823.2 L1809.0,822.7 L1809.4,822.1 L1809.8,821.5 L1810.2,820.9 L1810.6,820.3 L1811.0,819.6 L1811.4,818.9 L1811.8,818.1 L1812.2,817.3 L1812.6,816.5 L1813.0,815.7 L1813.4,814.8 L1813.8,813.9 L1814.2,812.9 L1814.6,811.9 L1815.0,810.9 L1815.4,809.8 L1815.8,808.7 L1816.2,807.6 L1816.6,806.4 L1817.0,805.2 L1817.4,803.9 L1817.8,802.7 L1818.2,801.4 L1818.6,800.0 L1819.0,798.7 L1819.4,797.4 L1819.8,796.0 L1820.2,794.7 L1820.6,793.3 L1821.0,792.0 L1821.4,790.8 L1821.8,789.5 L1822.2,788.3 L1822.6,787.2 L1823.0,786.2 L1823.4,785.3 L1823.8,784.5 L1824.2,783.8 L1824.6,783.2 L1825.0,782.7 L1825.4,782.4 L1825.8,782.3 L1826.2,782.3 L1826.6,782.4 L1827.0,782.7 L1827.4,783.2 L1827.8,783.7 L1828.2,784.4 L1828.6,785.3 L1829.0,786.2 L1829.4,787.2 L1829.8,788.3 L1830.2,789.5 L1830.6,790.7 L1831.0,792.0 L1831.4,793.3 L1831.8,794.6 L1832.2,796.0 L1832.6,797.3 L1833.0,798.7 L1833.4,800.0 L1833.8,801.3 L1834.2,802.6 L1834.6,803.9 L1835.0,805.1 L1835.4,806.3 L1835.8,807.5 L1836.2,808.6 L1836.6,809.7 L1837.0,810.8 L1837.4,811.8 L1837.8,812.8 L1838.2,813.8 L1838.6,814.7 L1839.0,815.6 L1839.4,816.4 L1839.8,817.3 L1840.2,818.0 L1840.6,818.8 L1841.0,819.5 L1841.4,820.2 L1841.8,820.8 L1842.2,821.4 L1842.6,822.0 L1843.0,822.6 L1843.4,823.1 L1843.8,823.6 L1844.2,824.1 L1844.6,824.6 L1845.0,825.0 L1845.4,825.4 L1845.8,825.8 L1846.2,826.2 L1846.6,826.5 L1847.0,826.9 L1847.4,827.2 L1847.8,827.5 L1848.2,827.8 L1848.6,828.1 L1849.0,828.4 L1849.4,828.6 L1849.8,828.9 L1850.2,829.1 L1850.6,829.3 L1851.0,829.5 L1851.4,829.7 L1851.8,829.9 L1852.2,830.1 L1852.6,830.3 L1853.0,830.4 L1853.4,830.6 L1853.8,830.8 L1854.2,830.9 L1854.6,831.0 L1855.0,831.2 L1855.4,831.3 L1855.8,831.4 L1856.2,831.5 L1856.6,831.7 L1857.0,831.8 L1857.4,831.9 L1857.8,832.0 L1858.2,832.1 L1858.6,832.2 L1859.0,832.3 L1859.4,832.4 L1859.8,832.4 L1860.2,832.5 L1860.6,832.6 L1861.0,832.7 L1861.4,832.7 L1861.8,832.8 L1862.2,832.9 L1862.6,832.9 L1863.0,833.0 L1863.4,833.1 L1863.8,833.1 L1864.2,833.2 L1864.6,833.2 L1865.0,833.3 L1865.4,833.3 L1865.8,833.4 L1866.2,833.4 L1866.6,833.5 L1867.0,833.5 L1867.4,833.5 L1867.8,833.6 L1868.2,833.6 L1868.6,833.6 L1869.0,833.7 L1869.4,833.7 L1869.8,833.7 L1870.2,833.8 L1870.6,833.8 L1871.0,833.8 L1871.4,833.8 L1871.8,833.8 L1872.2,833.9 L1872.6,833.9 L1873.0,833.9 L1873.4,833.9 L1873.8,833.9 L1874.2,833.9 L1874.6,833.9 L1875.0,833.9 L1875.4,833.9 L1875.8,833.9 L1876.2,833.9 L1876.6,833.9 L1877.0,833.9 L1877.4,833.9 L1877.8,833.9 L1878.2,833.8 L1878.6,833.8 L1879.0,833.8 L1879.4,833.7 L1879.8,833.7 L1880.2,833.6 L1880.6,833.6 L1881.0,833.5 L1881.4,833.5 L1881.8,833.4 L1882.2,833.3 L1882.6,833.2 L1883.0,833.1 L1883.4,833.0 L1883.8,832.9 L1884.2,832.7 L1884.6,832.5 L1885.0,832.3 L1885.4,832.1 L1885.8,831.8 L1886.2,831.4 L1886.6,830.9 L1887.0,830.2 L1887.4,829.4 L1887.8,828.2 L1888.2,826.6 L1888.6,824.5 L1889.0,821.8 L1889.4,818.1 L1889.8,813.5 L1890.2,807.6 L1890.6,800.5 L1891.0,792.0 L1891.4,782.1 L1891.8,771.0 L1892.2,758.9 L1892.6,746.2 L1893.0,733.4 L1893.4,721.3 L1893.8,710.5 L1894.2,702.0 L1894.6,696.5 L1895.0,694.6 L1895.4,696.5 L1895.8,702.0 L1896.2,710.6 L1896.6,721.4 L1897.0,733.5 L1897.4,746.3 L1897.8,759.0 L1898.2,771.1 L1898.6,782.2 L1899.0,792.1 L1899.4,800.7 L1899.8,807.9 L1900.2,813.7 L1900.6,818.4 L1901.0,822.1 L1901.4,824.9 L1901.8,827.0 L1902.2,828.6 L1902.6,829.7 L1903.0,830.6 L1903.4,831.3 L1903.8,831.8 L1904.2,832.2 L1904.6,832.5 L1905.0,832.8 L1905.4,833.0 L1905.8,833.2 L1906.2,833.4 L1906.6,833.6 L1907.0,833.7 L1907.4,833.8 L1907.8,834.0 L1908.2,834.1 L1908.6,834.2 L1909.0,834.3 L1909.4,834.3 L1909.8,834.4 L1910.2,834.5 L1910.6,834.6 L1911.0,834.6 L1911.4,834.7 L1911.8,834.7 L1912.2,834.8 L1912.6,834.8 L1913.0,834.9 L1913.4,834.9 L1913.8,835.0 L1914.2,835.0 L1914.6,835.0 L1915.0,835.1 L1915.4,835.1 L1915.8,835.1 L1916.2,835.2 L1916.6,835.2 L1917.0,835.2 L1917.4,835.2 L1917.8,835.2 L1918.2,835.3 L1918.6,835.3 L1919.0,835.3 L1919.4,835.3 L1919.8,835.3 L1920.2,835.4 L1920.6,835.4 L1921.0,835.4 L1921.4,835.4 L1921.8,835.4 L1922.2,835.4 L1922.6,835.4 L1923.0,835.4 L1923.4,835.4 L1923.8,835.5 L1924.2,835.5 L1924.6,835.5 L1925.0,835.5 L1925.4,835.5 L1925.8,835.5 L1926.2,835.5 L1926.6,835.5 L1927.0,835.5 L1927.4,835.5 L1927.8,835.5 L1928.2,835.5 L1928.6,835.5 L1929.0,835.5 L1929.4,835.5 L1929.8,835.5 L1930.2,835.5 L1930.6,835.5 L1931.0,835.5 L1931.4,835.5 L1931.8,835.5 L1932.2,835.5 L1932.6,835.5 L1933.0,835.5 L1933.4,835.5 L1933.8,835.5 L1934.2,835.5 L1934.6,835.5 L1935.0,835.5 L1935.4,835.5 L1935.8,835.5 L1936.2,835.5 L1936.6,835.5 L1937.0,835.5 L1937.4,835.5 L1937.8,835.5 L1938.2,835.5 L1938.6,835.4 L1939.0,835.4 L1939.4,835.4 L1939.8,835.4 L1940.2,835.4 L1940.6,835.4 L1941.0,835.4 L1941.4,835.4 L1941.8,835.4 L1942.2,835.4 L1942.6,835.3 L1943.0,835.3 L1943.4,835.3 L1943.8,835.3 L1944.2,835.3 L1944.6,835.3 L1945.0,835.3 L1945.4,835.3 L1945.8,835.2 L1946.2,835.2 L1946.6,835.2 L1947.0,835.2 L1947.4,835.2 L1947.8,835.1 L1948.2,835.1 L1948.6,835.1 L1949.0,835.1 L1949.4,835.1 L1949.8,835.0 L1950.2,835.0 L1950.6,835.0 L1951.0,835.0 L1951.4,834.9 L1951.8,834.9 L1952.2,834.9 L1952.6,834.8 L1953.0,834.8 L1953.4,834.8 L1953.8,834.7 L1954.2,834.7 L1954.6,834.7 L1955.0,834.6 L1955.4,834.6 L1955.8,834.6 L1956.2,834.5 L1956.6,834.5 L1957.0,834.4 L1957.4,834.4 L1957.8,834.3 L1958.2,834.3 L1958.6,834.2 L1959.0,834.2 L1959.4,834.1 L1959.8,834.0 L1960.2,834.0 L1960.6,833.9 L1961.0,833.8 L1961.4,833.8 L1961.8,833.7 L1962.2,833.6 L1962.6,833.5 L1963.0,833.4 L1963.4,833.3 L1963.8,833.2 L1964.2,833.1 L1964.6,833.0 L1965.0,832.9 L1965.4,832.7 L1965.8,832.6 L1966.2,832.5 L1966.6,832.3 L1967.0,832.1 L1967.4,831.9 L1967.8,831.7 L1968.2,831.5 L1968.6,831.3 L1969.0,831.0 L1969.4,830.7 L1969.8,830.4 L1970.2,830.1 L1970.6,829.8 L1971.0,829.4 L1971.4,829.0 L1971.8,828.5 L1972.2,828.0 L1972.6,827.5 L1973.0,826.9 L1973.4,826.3 L1973.8,825.7 L1974.2,825.0 L1974.6,824.2 L1975.0,823.4 L1975.4,822.6 L1975.8,821.7 L1976.2,820.7 L1976.6,819.7 L1977.0,818.6 L1977.4,817.4 L1977.8,816.2 L1978.2,815.0 L1978.6,813.7 L1979.0,812.3 L1979.4,810.9 L1979.8,809.4 L1980.2,807.9 L1980.6,806.4 L1981.0,804.9 L1981.4,803.3 L1981.8,801.7 L1982.2,800.1 L1982.6,798.6 L1983.0,797.1 L1983.4,795.6 L1983.8,794.3 L1984.2,793.0 L1984.6,791.8 L1985.0,790.8 L1985.4,789.9 L1985.8,789.2 L1986.2,788.7 L1986.6,788.4 L1987.0,788.2 L1987.4,788.3 L1987.8,788.7 L1988.2,789.2 L1988.6,789.9 L1989.0,790.7 L1989.4,791.8 L1989.8,792.9 L1990.2,794.2 L1990.6,795.6 L1991.0,797.0 L1991.4,798.5 L1991.8,800.1 L1992.2,801.6 L1992.6,803.2 L1993.0,804.7 L1993.4,806.3 L1993.8,807.8 L1994.2,809.3 L1994.6,810.7 L1995.0,812.1 L1995.4,813.5 L1995.8,814.8 L1996.2,816.0 L1996.6,817.2 L1997.0,818.4 L1997.4,819.4 L1997.8,820.5 L1998.2,821.4 L1998.6,822.3 L1999.0,823.2 L1999.4,824.0 L1999.8,824.7 L2000.2,825.4 L2000.6,826.0 L2001.0,826.6 L2001.4,827.2 L2001.8,827.7 L2002.2,828.2 L2002.6,828.6 L2003.0,829.0 L2003.4,829.4 L2003.8,829.7 L2004.2,830.1 L2004.6,830.3 L2005.0,830.6 L2005.4,830.9 L2005.8,831.1 L2006.2,831.3 L2006.6,831.5 L2007.0,831.6 L2007.4,831.8 L2007.8,832.0 L2008.2,832.1 L2008.6,832.2 L2009.0,832.3 L2009.4,832.4 L2009.8,832.5 L2010.2,832.6 L2010.6,832.7 L2011.0,832.8 L2011.4,832.9 L2011.8,833.0 L2012.2,833.0 L2012.6,833.1 L2013.0,833.1 L2013.4,833.2 L2013.8,833.2 L2014.2,833.3 L2014.6,833.3 L2015.0,833.4 L2015.4,833.4 L2015.8,833.4 L2016.2,833.5 L2016.6,833.5 L2017.0,833.5 L2017.4,833.5 L2017.8,833.5 L2018.2,833.6 L2018.6,833.6 L2019.0,833.6 L2019.4,833.6 L2019.8,833.6 L2020.2,833.6 L2020.6,833.6 L2021.0,833.6 L2021.4,833.6 L2021.8,833.6 L2022.2,833.6 L2022.6,833.6 L2023.0,833.6 L2023.4,833.6 L2023.8,833.6 L2024.2,833.5 L2024.6,833.5 L2025.0,833.5 L2025.4,833.5 L2025.8,833.4 L2026.2,833.4 L2026.6,833.4 L2027.0,833.3 L2027.4,833.3 L2027.8,833.3 L2028.2,833.2 L2028.6,833.2 L2029.0,833.1 L2029.4,833.1 L2029.8,833.0 L2030.2,832.9 L2030.6,832.9 L2031.0,832.8 L2031.4,832.7 L2031.8,832.6 L2032.2,832.5 L2032.6,832.4 L2033.0,832.3 L2033.4,832.2 L2033.8,832.1 L2034.2,832.0 L2034.6,831.8 L2035.0,831.7 L2035.4,831.5 L2035.8,831.3 L2036.2,831.1 L2036.6,830.9 L2037.0,830.7 L2037.4,830.4 L2037.8,830.2 L2038.2,829.9 L2038.6,829.6 L2039.0,829.2 L2039.4,828.8 L2039.8,828.4 L2040.2,828.0 L2040.6,827.5 L2041.0,827.0 L2041.4,826.5 L2041.8,825.9 L2042.2,825.2 L2042.6,824.5 L2043.0,823.8 L2043.4,823.0 L2043.8,822.2 L2044.2,821.3 L2044.6,820.3 L2045.0,819.3 L2045.4,818.3 L2045.8,817.1 L2046.2,816.0 L2046.6,814.7 L2047.0,813.4 L2047.4,812.1 L2047.8,810.7 L2048.2,809.3 L2048.6,807.8 L2049.0,806.3 L2049.4,804.8 L2049.8,803.2 L2050.2,801.6 L2050.6,800.0 L2051.0,798.5 L2051.4,796.9 L2051.8,795.4 L2052.2,794.0 L2052.6,792.6 L2053.0,791.4 L2053.4,790.2 L2053.8,789.2 L2054.2,788.3 L2054.6,787.7 L2055.0,787.2 L2055.4,786.9 L2055.8,786.8 L2056.2,786.9 L2056.6,787.2 L2057.0,787.7 L2057.4,788.4 L2057.8,789.2 L2058.2,790.3 L2058.6,791.4 L2059.0,792.7 L2059.4,794.1 L2059.8,795.5 L2060.2,797.0 L2060.6,798.5 L2061.0,800.1 L2061.4,801.7 L2061.8,803.3 L2062.2,804.9 L2062.6,806.4 L2063.0,807.9 L2063.4,809.4 L2063.8,810.8 L2064.2,812.2 L2064.6,813.6 L2065.0,814.9 L2065.4,816.1 L2065.8,817.3 L2066.2,818.4 L2066.6,819.5 L2067.0,820.5 L2067.4,821.5 L2067.8,822.4 L2068.2,823.2 L2068.6,824.0 L2069.0,824.8 L2069.4,825.4 L2069.8,826.1 L2070.2,826.7 L2070.6,827.3 L2071.0,827.8 L2071.4,828.3 L2071.8,828.7 L2072.2,829.1 L2072.6,829.5 L2073.0,829.9 L2073.4,830.2 L2073.8,830.5 L2074.2,830.8 L2074.6,831.0 L2075.0,831.3 L2075.4,831.5 L2075.8,831.7 L2076.2,831.9 L2076.6,832.1 L2077.0,832.2 L2077.4,832.4 L2077.8,832.5 L2078.2,832.7 L2078.6,832.8 L2079.0,832.9 L2079.4,833.0 L2079.8,833.1 L2080.2,833.2 L2080.6,833.3 L2081.0,833.4 L2081.4,833.5 L2081.8,833.6 L2082.2,833.7 L2082.6,833.7 L2083.0,833.8 L2083.4,833.9 L2083.8,833.9 L2084.2,834.0 L2084.6,834.0 L2085.0,834.1 L2085.4,834.1 L2085.8,834.2 L2086.2,834.2 L2086.6,834.3 L2087.0,834.3 L2087.4,834.4 L2087.8,834.4 L2088.2,834.5 L2088.6,834.5 L2089.0,834.5 L2089.4,834.6 L2089.8,834.6 L2090.2,834.6 L2090.6,834.7 L2091.0,834.7 L2091.4,834.7 L2091.8,834.7 L2092.2,834.8 L2092.6,834.8 L2093.0,834.8 L2093.4,834.8 L2093.8,834.9 L2094.2,834.9 L2094.6,834.9 L2095.0,834.9 L2095.4,834.9 L2095.8,835.0 L2096.2,835.0 L2096.6,835.0 L2097.0,835.0 L2097.4,835.0 L2097.8,835.0 L2098.2,835.1 L2098.6,835.1 L2099.0,835.1 L2099.4,835.1 L2099.8,835.1 L2100.2,835.1 L2100.6,835.1 L2101.0,835.1 L2101.4,835.1 L2101.8,835.2 L2102.2,835.2 L2102.6,835.2 L2103.0,835.2 L2103.4,835.2 L2103.8,835.2 L2104.2,835.2 L2104.6,835.2 L2105.0,835.2 L2105.4,835.2 L2105.8,835.2 L2106.2,835.2 L2106.6,835.2 L2107.0,835.2 L2107.4,835.2 L2107.8,835.2 L2108.2,835.2 L2108.6,835.2 L2109.0,835.2 L2109.4,835.2 L2109.8,835.2 L2110.2,835.2 L2110.6,835.2 L2111.0,835.2 L2111.4,835.2 L2111.8,835.2 L2112.2,835.2 L2112.6,835.2 L2113.0,835.2 L2113.4,835.2 L2113.8,835.2 L2114.2,835.2 L2114.6,835.2 L2115.0,835.1 L2115.4,835.1 L2115.8,835.1 L2116.2,835.1 L2116.6,835.1 L2117.0,835.1 L2117.4,835.1 L2117.8,835.1 L2118.2,835.1 L2118.6,835.0 L2119.0,835.0 L2119.4,835.0 L2119.8,835.0 L2120.2,835.0 L2120.6,835.0 L2121.0,835.0 L2121.4,834.9 L2121.8,834.9 L2122.2,834.9 L2122.6,834.9 L2123.0,834.9 L2123.4,834.8 L2123.8,834.8 L2124.2,834.8 L2124.6,834.8 L2125.0,834.7 L2125.4,834.7 L2125.8,834.7 L2126.2,834.7 L2126.6,834.6 L2127.0,834.6 L2127.4,834.6 L2127.8,834.5 L2128.2,834.5 L2128.6,834.5 L2129.0,834.4 L2129.4,834.4 L2129.8,834.3 L2130.2,834.3 L2130.6,834.3 L2131.0,834.2 L2131.4,834.2 L2131.8,834.1 L2132.2,834.1 L2132.6,834.0 L2133.0,834.0 L2133.4,833.9 L2133.8,833.9 L2134.2,833.8 L2134.6,833.7 L2135.0,833.7 L2135.4,833.6 L2135.8,833.5 L2136.2,833.5 L2136.6,833.4 L2137.0,833.3 L2137.4,833.2 L2137.8,833.2 L2138.2,833.1 L2138.6,833.0 L2139.0,832.9 L2139.4,832.8 L2139.8,832.7 L2140.2,832.6 L2140.6,832.5 L2141.0,832.3 L2141.4,832.2 L2141.8,832.1 L2142.2,832.0 L2142.6,831.8 L2143.0,831.7 L2143.4,831.5 L2143.8,831.4 L2144.2,831.2 L2144.6,831.0 L2145.0,830.8 L2145.4,830.6 L2145.8,830.4 L2146.2,830.2 L2146.6,830.0 L2147.0,829.7 L2147.4,829.4 L2147.8,829.2 L2148.2,828.8 L2148.6,828.5 L2149.0,828.2 L2149.4,827.8 L2149.8,827.4 L2150.2,827.0 L2150.6,826.5 L2151.0,826.0 L2151.4,825.4 L2151.8,824.8 L2152.2,824.1 L2152.6,823.4 L2153.0,822.6 L2153.4,821.7 L2153.8,820.8 L2154.2,819.8 L2154.6,818.6 L2155.0,817.4 L2155.4,816.0 L2155.8,814.6 L2156.2,813.0 L2156.6,811.2 L2157.0,809.3 L2157.4,807.3 L2157.8,805.1 L2158.2,802.7 L2158.6,800.2 L2159.0,797.5 L2159.4,794.6 L2159.8,791.6 L2160.2,788.4 L2160.6,785.0 L2161.0,781.5 L2161.4,777.8 L2161.8,774.0 L2162.2,770.1 L2162.6,766.2 L2163.0,762.3 L2163.4,758.4 L2163.8,754.5 L2164.2,750.9 L2164.6,747.5 L2165.0,744.5 L2165.4,741.8 L2165.8,739.6 L2166.2,738.0 L2166.6,737.1 L2167.0,736.7 L2167.4,737.1 L2167.8,738.0 L2168.2,739.7 L2168.6,741.8 L2169.0,744.5 L2169.4,747.5 L2169.8,750.9 L2170.2,754.6 L2170.6,758.4 L2171.0,762.3 L2171.4,766.2 L2171.8,770.2 L2172.2,774.0 L2172.6,777.8 L2173.0,781.5 L2173.4,785.0 L2173.8,788.4 L2174.2,791.6 L2174.6,794.7 L2175.0,797.6 L2175.4,800.3 L2175.8,802.8 L2176.2,805.2 L2176.6,807.4 L2177.0,809.4 L2177.4,811.3 L2177.8,813.0 L2178.2,814.6 L2178.6,816.1 L2179.0,817.5 L2179.4,818.7 L2179.8,819.9 L2180.2,820.9 L2180.6,821.8 L2181.0,822.7 L2181.4,823.5 L2181.8,824.2 L2182.2,824.9 L2182.6,825.5 L2183.0,826.1 L2183.4,826.6 L2183.8,827.1 L2184.2,827.5 L2184.6,827.9 L2185.0,828.3 L2185.4,828.7 L2185.8,829.0 L2186.2,829.3 L2186.6,829.6 L2187.0,829.9 L2187.4,830.1 L2187.8,830.4 L2188.2,830.6 L2188.6,830.8 L2189.0,831.0 L2189.4,831.2 L2189.8,831.4 L2190.2,831.5 L2190.6,831.7 L2191.0,831.9 L2191.4,832.0 L2191.8,832.2 L2192.2,832.3 L2192.6,832.4 L2193.0,832.6 L2193.4,832.7 L2193.8,832.8 L2194.2,832.9 L2194.6,833.0 L2195.0,833.1 L2195.4,833.2 L2195.8,833.3 L2196.2,833.4 L2196.6,833.5 L2197.0,833.6 L2197.4,833.7 L2197.8,833.7 L2198.2,833.8 L2198.6,833.9 L2199.0,834.0 L2199.4,834.0 L2199.8,834.1 L2200.2,834.2 L2200.6,834.2 L2201.0,834.3 L2201.4,834.3 L2201.8,834.4 L2202.2,834.4 L2202.6,834.5 L2203.0,834.5 L2203.4,834.6 L2203.8,834.6 L2204.2,834.7 L2204.6,834.7 L2205.0,834.8 L2205.4,834.8 L2205.8,834.9 L2206.2,834.9 L2206.6,834.9 L2207.0,835.0 L2207.4,835.0 L2207.8,835.0 L2208.2,835.1 L2208.6,835.1 L2209.0,835.1 L2209.4,835.2 L2209.8,835.2 L2210.2,835.2 L2210.6,835.3 L2211.0,835.3 L2211.4,835.3 L2211.8,835.4 L2212.2,835.4 L2212.6,835.4 L2213.0,835.4 L2213.4,835.5 L2213.8,835.5 L2214.2,835.5 L2214.6,835.5 L2215.0,835.5 L2215.4,835.6 L2215.8,835.6 L2216.2,835.6 L2216.6,835.6 L2217.0,835.6 L2217.4,835.7 L2217.8,835.7 L2218.2,835.7 L2218.6,835.7 L2219.0,835.7 L2219.4,835.8 L2219.8,835.8 L2220.2,835.8 L2220.6,835.8 L2221.0,835.8 L2221.4,835.8 L2221.8,835.9 L2222.2,835.9 L2222.6,835.9 L2223.0,835.9 L2223.4,835.9 L2223.8,835.9 L2224.2,835.9 L2224.6,835.9 L2225.0,836.0 L2225.4,836.0 L2225.8,836.0 L2226.2,836.0 L2226.6,836.0 L2227.0,836.0 L2227.4,836.0 L2227.8,836.0 L2228.2,836.1 L2228.6,836.1 L2229.0,836.1 L2229.4,836.1 L2229.8,836.1 L2230.2,836.1 L2230.6,836.1 L2231.0,836.1 L2231.4,836.1 L2231.8,836.1 L2232.2,836.2 L2232.6,836.2 L2233.0,836.2 L2233.4,836.2 L2233.8,836.2 L2234.2,836.2 L2234.6,836.2 L2235.0,836.2 L2235.4,836.2 L2235.8,836.2 L2236.2,836.2 L2236.6,836.2 L2237.0,836.3 L2237.4,836.3 L2237.8,836.3 L2238.2,836.3 L2238.6,836.3 L2239.0,836.3 L2239.4,836.3 L2239.8,836.3 L2240.2,836.3 L2240.6,836.3 L2241.0,836.3 L2241.4,836.3 L2241.8,836.3 L2242.2,836.3 L2242.6,836.3 L2243.0,836.4 L2243.4,836.4 L2243.8,836.4 L2244.2,836.4 L2244.6,836.4 L2245.0,836.4 L2245.4,836.4 L2245.8,836.4 L2246.2,836.4 L2246.6,836.4 L2247.0,836.4 L2247.4,836.4 L2247.8,836.4 L2248.2,836.4 L2248.6,836.4 L2249.0,836.4 L2249.4,836.4 L2249.8,836.4 L2250.2,836.4 L2250.6,836.5 L2251.0,836.5 L2251.4,836.5 L2251.8,836.5 L2252.2,836.5 L2252.6,836.5 L2253.0,836.5 L2253.4,836.5 L2253.8,836.5 L2254.2,836.5 L2254.6,836.5 L2255.0,836.5 L2255.4,836.5 L2255.8,836.5 L2256.2,836.5 L2256.6,836.5 L2257.0,836.5 L2257.4,836.5 L2257.8,836.5 L2258.2,836.5 L2258.6,836.5 L2259.0,836.5 L2259.4,836.5 L2259.8,836.5 L2260.2,836.5 L2260.6,836.5 L2261.0,836.6 L2261.4,836.6 L2261.8,836.6 L2262.2,836.6 L2262.6,836.6 L2263.0,836.6 L2263.4,836.6 L2263.8,836.6 L2264.2,836.6 L2264.6,836.6 L2265.0,836.6 L2265.4,836.6 L2265.8,836.6 L2266.2,836.6 L2266.6,836.6 L2267.0,836.6 L2267.4,836.6 L2267.8,836.6 L2268.2,836.6 L2268.6,836.6 L2269.0,836.6 L2269.4,836.6 L2269.8,836.6 L2270.2,836.6 L2270.6,836.6 L2271.0,836.6 L2271.4,836.6 L2271.8,836.6 L2272.2,836.6 L2272.6,836.6 L2273.0,836.6 L2273.4,836.6 L2273.8,836.6 L2274.2,836.6 L2274.6,836.6 L2275.0,836.6 L2275.4,836.6 L2275.8,836.6 L2276.2,836.6 L2276.6,836.7 L2277.0,836.7 L2277.4,836.7 L2277.8,836.7 L2278.2,836.7 L2278.6,836.7 L2279.0,836.7 L2279.4,836.7 L2279.8,836.7 L2280.2,836.7 L2280.6,836.7 L2281.0,836.7 L2281.4,836.7 L2281.8,836.7 L2282.2,836.7 L2282.6,836.7 L2283.0,836.7 L2283.4,836.7 L2283.8,836.7 L2284.2,836.7 L2284.6,836.7 L2285.0,836.7 L2285.4,836.7 L2285.8,836.7 L2286.2,836.7 L2286.6,836.7 L2287.0,836.7 L2287.4,836.7 L2287.8,836.7 L2288.2,836.7 L2288.6,836.7 L2289.0,836.7 L2289.4,836.7 L2289.8,836.7 L2290.2,836.7 L2290.6,836.7 L2291.0,836.7 L2291.4,836.7 L2291.8,836.7 L2292.2,836.7 L2292.6,836.7 L2293.0,836.7 L2293.4,836.7 L2293.8,836.7 L2294.2,836.7 L2294.6,836.7 L2295.0,836.7 L2295.4,836.7 L2295.8,836.7 L2296.2,836.7 L2296.6,836.7 L2297.0,836.7 L2297.4,836.7 L2297.8,836.7 L2298.2,836.7 L2298.6,836.7 L2299.0,836.7 L2299.4,836.7 L2299.8,836.7 L2300.2,836.7 L2300.6,836.7 L2301.0,836.7 L2301.4,836.8 L2301.8,836.8 L2302.2,836.8 L2302.6,836.8 L2303.0,836.8 L2303.4,836.8 L2303.8,836.8 L2304.2,836.8 L2304.6,836.8 L2305.0,836.8 L2305.4,836.8 L2305.8,836.8 L2306.2,836.8 L2306.6,836.8 L2307.0,836.8 L2307.4,836.8 L2307.8,836.8 L2308.2,836.8 L2308.6,836.8 L2309.0,836.8 L2309.4,836.8 L2309.8,836.8 L2310.2,836.8 L2310.6,836.8 L2311.0,836.8 L2311.4,836.8 L2311.8,836.8 L2312.2,836.8 L2312.6,836.8 L2313.0,836.8 L2313.4,836.8 L2313.8,836.8 L2314.2,836.8 L2314.6,836.8 L2315.0,836.8 L2315.4,836.8 L2315.8,836.8 L2316.2,836.8 L2316.6,836.8 L2317.0,836.8 L2317.4,836.8 L2317.8,836.8 L2318.2,836.8 L2318.6,836.8 L2319.0,836.8 L2319.4,836.8 L2319.8,836.8 L2320.2,836.8 L2320.6,836.8 L2321.0,836.8 L2321.4,836.8 L2321.8,836.8 L2322.2,836.8 L2322.6,836.8 L2323.0,836.8 L2323.4,836.8 L2323.8,836.8 L2324.2,836.8 L2324.6,836.8 L2325.0,836.8 L2325.4,836.8 L2325.8,836.8 L2326.2,836.8 L2326.6,836.8 L2327.0,836.8 L2327.4,836.8 L2327.8,836.8 L2328.2,836.8 L2328.6,836.8 L2329.0,836.8 L2329.4,836.8 L2329.8,836.8 L2330.2,836.8 L2330.6,836.8 L2331.0,836.8 L2331.4,836.8 L2331.8,836.8 L2332.2,836.8 L2332.6,836.8 L2333.0,836.8 L2333.4,836.8 L2333.8,836.8 L2334.2,836.8 L2334.6,836.8 L2335.0,836.8 L2335.4,836.8 L2335.8,836.8 L2336.2,836.8 L2336.6,836.8 L2337.0,836.8 L2337.4,836.8 L2337.8,836.8 L2338.2,836.8 L2338.6,836.8 L2339.0,836.8 L2339.4,836.8 L2339.8,836.8 L2340.2,836.8 L2340.6,836.8 L2341.0,836.8 L2341.4,836.8 L2341.8,836.8 L2342.2,836.8 L2342.6,836.8 L2343.0,836.8 L2343.4,836.8 L2343.8,836.8 L2344.2,836.8 L2344.6,836.8 L2345.0,836.8 L2345.4,836.8 L2345.8,836.8 L2346.2,836.8 L2346.6,836.8 L2347.0,836.8 L2347.4,836.8 L2347.8,836.8 L2348.2,836.8 L2348.6,836.8 L2349.0,836.8 L2349.4,836.8 L2349.8,836.8 L2350.2,836.8 L2350.6,836.8 L2351.0,836.8 L2351.4,836.8 L2351.8,836.9 L2352.2,836.9 L2352.6,836.9 L2353.0,836.9 L2353.4,836.9 L2353.8,836.9 L2354.2,836.9 L2354.6,836.9 L2355.0,836.9 L2355.4,836.9 L2355.8,836.9 L2356.2,836.9 L2356.6,836.9 L2357.0,836.9 L2357.4,836.9 L2357.8,836.9 L2358.2,836.9 L2358.6,836.9 L2359.0,836.9 L2359.4,836.9 L2359.8,836.9 L2360.2,836.9 L2360.6,836.9 L2361.0,836.9 L2361.4,836.9 L2361.8,836.9 L2362.2,836.9 L2362.6,836.9 L2363.0,836.9 L2363.4,836.9 L2363.8,836.9 L2364.2,836.9 L2364.6,836.9 L2365.0,836.9 L2365.4,836.9 L2365.8,836.9 L2366.2,836.9 L2366.6,836.9 L2367.0,836.9 L2367.4,836.9 L2367.8,836.9 L2368.2,836.9 L2368.6,836.9 L2369.0,836.9 L2369.4,836.9 L2369.8,836.9 L2370.2,836.9 L2370.6,836.9 L2371.0,836.9 L2371.4,836.9 L2371.8,836.9 L2372.2,836.9 L2372.6,836.9 L2373.0,836.9 L2373.4,836.9 L2373.8,836.9 L2374.2,836.9 L2374.6,836.9 L2375.0,836.9 L2375.4,836.9 L2375.8,836.9 L2376.2,836.9 L2376.6,836.9 L2377.0,836.9 L2377.4,836.9 L2377.8,836.9 L2378.2,836.9 L2378.6,836.9 L2379.0,836.9 L2379.4,836.9 L2379.8,836.9 L2380.2,836.9 L2380.6,836.9 L2381.0,836.9 L2381.4,836.9 L2381.8,836.9 L2382.2,836.9 L2382.6,836.9 L2383.0,836.9 L2383.4,836.9 L2383.8,836.9 L2384.2,836.9 L2384.6,836.9 L2385.0,836.9 L2385.4,836.9 L2385.8,836.9 L2386.2,836.9 L2386.6,836.9 L2387.0,836.9 L2387.4,836.9 L2387.8,836.9 L2388.2,836.9 L2388.6,836.9 L2389.0,836.9 L2389.4,836.9 L2389.8,836.9 L2390.2,836.9 L2390.6,836.9 L2391.0,836.9 L2391.4,836.9 L2391.8,836.9 L2392.2,836.9 L2392.6,836.9 L2393.0,836.9 L2393.4,836.9 L2393.8,836.9 L2394.2,836.9 L2394.6,836.9 L2395.0,836.9 L2395.4,836.9 L2395.8,836.9 L2396.2,836.9 L2396.6,836.9 L2397.0,836.9 L2397.4,836.9 L2397.8,836.9 L2398.2,836.9 L2398.6,836.9 L2399.0,836.9 L2399.4,836.9 L2399.8,836.9 L2400.2,836.9 L2400.6,836.9 L2401.0,836.9 L2401.4,836.9 L2401.8,836.9 L2402.2,836.9 L2402.6,836.9 L2403.0,836.9 L2403.4,836.9 L2403.8,836.9 L2404.2,836.9 L2404.6,836.9 L2405.0,836.9 L2405.4,836.9 L2405.8,836.9 L2406.2,836.9 L2406.6,836.9 L2407.0,836.9 L2407.4,836.9 L2407.8,836.9 L2408.2,836.9 L2408.6,836.9 L2409.0,836.9 L2409.4,836.9 L2409.8,836.9 L2410.2,836.9 L2410.6,836.9 L2411.0,836.9 L2411.4,836.9 L2411.8,836.9 L2412.2,836.9 L2412.6,836.9 L2413.0,836.9 L2413.4,836.9 L2413.8,836.9 L2414.2,836.9 L2414.6,836.9 L2415.0,836.9 L2415.4,836.9 L2415.8,836.9 L2416.2,836.9 L2416.6,836.9 L2417.0,836.9 L2417.4,836.9 L2417.8,836.9 L2418.2,836.9 L2418.6,836.9 L2419.0,836.9 L2419.4,836.9 L2419.8,836.9 L2420.2,836.9 L2420.6,836.9 L2421.0,836.9 L2421.4,836.9 L2421.8,836.9 L2422.2,836.9 L2422.6,836.9 L2423.0,836.9 L2423.4,836.9 L2423.8,836.9 L2424.2,836.9 L2424.6,836.9 L2425.0,836.9 L2425.4,836.9 L2425.8,836.9 L2426.2,836.9 L2426.6,836.9 L2427.0,836.9 L2427.4,836.9 L2427.8,836.9 L2428.2,836.9 L2428.6,836.9 L2429.0,836.9 L2429.4,836.9 L2429.8,836.9 L2430.2,836.9 L2430.6,836.9 L2431.0,836.9 L2431.4,836.9 L2431.8,836.9 L2432.2,836.9 L2432.6,836.9 L2433.0,836.9 L2433.4,836.9 L2433.8,836.9 L2434.2,836.9 L2434.6,836.9 L2435.0,836.9 L2435.4,836.9 L2435.8,836.9 L2436.2,836.9 L2436.6,836.9 L2437.0,836.9 L2437.4,836.9 L2437.8,836.9 L2438.2,836.9 L2438.6,836.9 L2439.0,836.9 L2439.4,836.9 L2439.8,836.9 L2440.2,836.9 L2440.6,836.9 L2441.0,836.9 L2441.4,836.9 L2441.8,836.9 L2442.2,836.9 L2442.6,836.9 L2443.0,836.9 L2443.4,836.9 L2443.8,836.9 L2444.2,836.9 L2444.6,836.9 L2445.0,836.9 L2445.4,836.9 L2445.8,836.9 L2446.2,836.9 L2446.6,836.9 L2447.0,836.9 L2447.4,836.9 L2447.8,836.9 L2448.2,836.9 L2448.6,836.9 L2449.0,836.9 L2449.4,836.9 L2449.8,836.9 L2450.2,836.9 L2450.6,836.9 L2451.0,836.9"/>
<path class="tr" stroke="#8c0e1d" stroke-width="7.5" d="M1307.0,1088.0 L1307.4,1088.0 L1307.8,1088.0 L1308.2,1088.0 L1308.6,1088.0 L1309.0,1088.0 L1309.4,1088.0 L1309.8,1088.0 L1310.2,1088.0 L1310.6,1088.0 L1311.0,1088.0 L1311.4,1088.0 L1311.8,1088.0 L1312.2,1088.0 L1312.6,1088.0 L1313.0,1088.0 L1313.4,1088.0 L1313.8,1088.0 L1314.2,1088.0 L1314.6,1088.0 L1315.0,1088.0 L1315.4,1088.0 L1315.8,1088.0 L1316.2,1088.0 L1316.6,1088.0 L1317.0,1088.0 L1317.4,1088.0 L1317.8,1088.0 L1318.2,1088.0 L1318.6,1088.0 L1319.0,1088.0 L1319.4,1088.0 L1319.8,1088.0 L1320.2,1088.0 L1320.6,1088.0 L1321.0,1088.0 L1321.4,1088.0 L1321.8,1088.0 L1322.2,1088.0 L1322.6,1088.0 L1323.0,1088.0 L1323.4,1088.0 L1323.8,1088.0 L1324.2,1088.0 L1324.6,1088.0 L1325.0,1088.0 L1325.4,1088.0 L1325.8,1088.0 L1326.2,1088.0 L1326.6,1088.0 L1327.0,1088.0 L1327.4,1088.0 L1327.8,1088.0 L1328.2,1088.0 L1328.6,1088.0 L1329.0,1088.0 L1329.4,1088.0 L1329.8,1088.0 L1330.2,1088.0 L1330.6,1088.0 L1331.0,1088.0 L1331.4,1088.0 L1331.8,1088.0 L1332.2,1088.0 L1332.6,1088.0 L1333.0,1088.0 L1333.4,1088.0 L1333.8,1088.0 L1334.2,1088.0 L1334.6,1088.0 L1335.0,1088.0 L1335.4,1088.0 L1335.8,1088.0 L1336.2,1088.0 L1336.6,1088.0 L1337.0,1088.0 L1337.4,1088.0 L1337.8,1088.0 L1338.2,1088.0 L1338.6,1088.0 L1339.0,1088.0 L1339.4,1088.0 L1339.8,1088.0 L1340.2,1088.0 L1340.6,1088.0 L1341.0,1088.0 L1341.4,1088.0 L1341.8,1088.0 L1342.2,1088.0 L1342.6,1088.0 L1343.0,1088.0 L1343.4,1088.0 L1343.8,1088.0 L1344.2,1088.0 L1344.6,1088.0 L1345.0,1088.0 L1345.4,1088.0 L1345.8,1088.0 L1346.2,1088.0 L1346.6,1088.0 L1347.0,1088.0 L1347.4,1088.0 L1347.8,1088.0 L1348.2,1088.0 L1348.6,1088.0 L1349.0,1088.0 L1349.4,1088.0 L1349.8,1088.0 L1350.2,1088.0 L1350.6,1088.0 L1351.0,1088.0 L1351.4,1088.0 L1351.8,1088.0 L1352.2,1088.0 L1352.6,1088.0 L1353.0,1088.0 L1353.4,1088.0 L1353.8,1088.0 L1354.2,1088.0 L1354.6,1088.0 L1355.0,1088.0 L1355.4,1088.0 L1355.8,1088.0 L1356.2,1088.0 L1356.6,1088.0 L1357.0,1088.0 L1357.4,1088.0 L1357.8,1088.0 L1358.2,1088.0 L1358.6,1088.0 L1359.0,1088.0 L1359.4,1088.0 L1359.8,1088.0 L1360.2,1088.0 L1360.6,1088.0 L1361.0,1088.0 L1361.4,1088.0 L1361.8,1088.0 L1362.2,1088.0 L1362.6,1088.0 L1363.0,1088.0 L1363.4,1088.0 L1363.8,1088.0 L1364.2,1088.0 L1364.6,1088.0 L1365.0,1088.0 L1365.4,1088.0 L1365.8,1088.0 L1366.2,1088.0 L1366.6,1088.0 L1367.0,1088.0 L1367.4,1088.0 L1367.8,1088.0 L1368.2,1088.0 L1368.6,1088.0 L1369.0,1088.0 L1369.4,1088.0 L1369.8,1088.0 L1370.2,1088.0 L1370.6,1088.0 L1371.0,1088.0 L1371.4,1088.0 L1371.8,1088.0 L1372.2,1088.0 L1372.6,1088.0 L1373.0,1088.0 L1373.4,1088.0 L1373.8,1088.0 L1374.2,1088.0 L1374.6,1088.0 L1375.0,1088.0 L1375.4,1088.0 L1375.8,1088.0 L1376.2,1088.0 L1376.6,1088.0 L1377.0,1088.0 L1377.4,1088.0 L1377.8,1088.0 L1378.2,1088.0 L1378.6,1088.0 L1379.0,1088.0 L1379.4,1088.0 L1379.8,1088.0 L1380.2,1088.0 L1380.6,1088.0 L1381.0,1088.0 L1381.4,1088.0 L1381.8,1088.0 L1382.2,1088.0 L1382.6,1088.0 L1383.0,1088.0 L1383.4,1088.0 L1383.8,1088.0 L1384.2,1088.0 L1384.6,1088.0 L1385.0,1088.0 L1385.4,1088.0 L1385.8,1088.0 L1386.2,1088.0 L1386.6,1088.0 L1387.0,1088.0 L1387.4,1088.0 L1387.8,1088.0 L1388.2,1088.0 L1388.6,1088.0 L1389.0,1088.0 L1389.4,1088.0 L1389.8,1088.0 L1390.2,1088.0 L1390.6,1088.0 L1391.0,1088.0 L1391.4,1088.0 L1391.8,1088.0 L1392.2,1088.0 L1392.6,1088.0 L1393.0,1088.0 L1393.4,1088.0 L1393.8,1088.0 L1394.2,1088.0 L1394.6,1088.0 L1395.0,1088.0 L1395.4,1088.0 L1395.8,1088.0 L1396.2,1088.0 L1396.6,1088.0 L1397.0,1088.0 L1397.4,1088.0 L1397.8,1088.0 L1398.2,1088.0 L1398.6,1088.0 L1399.0,1088.0 L1399.4,1088.0 L1399.8,1088.0 L1400.2,1088.0 L1400.6,1088.0 L1401.0,1088.0 L1401.4,1088.0 L1401.8,1088.0 L1402.2,1088.0 L1402.6,1088.0 L1403.0,1088.0 L1403.4,1088.0 L1403.8,1088.0 L1404.2,1088.0 L1404.6,1088.0 L1405.0,1088.0 L1405.4,1088.0 L1405.8,1088.0 L1406.2,1088.0 L1406.6,1088.0 L1407.0,1088.0 L1407.4,1088.0 L1407.8,1088.0 L1408.2,1088.0 L1408.6,1088.0 L1409.0,1088.0 L1409.4,1088.0 L1409.8,1088.0 L1410.2,1088.0 L1410.6,1088.0 L1411.0,1088.0 L1411.4,1088.0 L1411.8,1088.0 L1412.2,1088.0 L1412.6,1088.0 L1413.0,1088.0 L1413.4,1088.0 L1413.8,1088.0 L1414.2,1088.0 L1414.6,1088.0 L1415.0,1088.0 L1415.4,1088.0 L1415.8,1088.0 L1416.2,1088.0 L1416.6,1088.0 L1417.0,1088.0 L1417.4,1088.0 L1417.8,1088.0 L1418.2,1088.0 L1418.6,1088.0 L1419.0,1088.0 L1419.4,1088.0 L1419.8,1088.0 L1420.2,1088.0 L1420.6,1088.0 L1421.0,1088.0 L1421.4,1088.0 L1421.8,1088.0 L1422.2,1088.0 L1422.6,1088.0 L1423.0,1088.0 L1423.4,1088.0 L1423.8,1088.0 L1424.2,1088.0 L1424.6,1088.0 L1425.0,1088.0 L1425.4,1088.0 L1425.8,1088.0 L1426.2,1088.0 L1426.6,1088.0 L1427.0,1088.0 L1427.4,1088.0 L1427.8,1088.0 L1428.2,1088.0 L1428.6,1088.0 L1429.0,1088.0 L1429.4,1088.0 L1429.8,1088.0 L1430.2,1088.0 L1430.6,1088.0 L1431.0,1088.0 L1431.4,1088.0 L1431.8,1088.0 L1432.2,1088.0 L1432.6,1088.0 L1433.0,1088.0 L1433.4,1088.0 L1433.8,1088.0 L1434.2,1088.0 L1434.6,1088.0 L1435.0,1088.0 L1435.4,1088.0 L1435.8,1088.0 L1436.2,1088.0 L1436.6,1088.0 L1437.0,1088.0 L1437.4,1088.0 L1437.8,1088.0 L1438.2,1088.0 L1438.6,1088.0 L1439.0,1088.0 L1439.4,1088.0 L1439.8,1088.0 L1440.2,1088.0 L1440.6,1088.0 L1441.0,1088.0 L1441.4,1088.0 L1441.8,1088.0 L1442.2,1088.0 L1442.6,1088.0 L1443.0,1088.0 L1443.4,1088.0 L1443.8,1088.0 L1444.2,1088.0 L1444.6,1088.0 L1445.0,1088.0 L1445.4,1088.0 L1445.8,1088.0 L1446.2,1088.0 L1446.6,1088.0 L1447.0,1088.0 L1447.4,1088.0 L1447.8,1088.0 L1448.2,1088.0 L1448.6,1088.0 L1449.0,1088.0 L1449.4,1088.0 L1449.8,1088.0 L1450.2,1088.0 L1450.6,1088.0 L1451.0,1088.0 L1451.4,1088.0 L1451.8,1088.0 L1452.2,1088.0 L1452.6,1088.0 L1453.0,1088.0 L1453.4,1087.9 L1453.8,1087.9 L1454.2,1087.9 L1454.6,1087.9 L1455.0,1087.9 L1455.4,1087.9 L1455.8,1087.9 L1456.2,1087.9 L1456.6,1087.9 L1457.0,1087.9 L1457.4,1087.9 L1457.8,1087.9 L1458.2,1087.9 L1458.6,1087.9 L1459.0,1087.9 L1459.4,1087.9 L1459.8,1087.9 L1460.2,1087.9 L1460.6,1087.9 L1461.0,1087.9 L1461.4,1087.9 L1461.8,1087.9 L1462.2,1087.9 L1462.6,1087.9 L1463.0,1087.9 L1463.4,1087.9 L1463.8,1087.9 L1464.2,1087.9 L1464.6,1087.9 L1465.0,1087.9 L1465.4,1087.9 L1465.8,1087.9 L1466.2,1087.9 L1466.6,1087.9 L1467.0,1087.9 L1467.4,1087.9 L1467.8,1087.9 L1468.2,1087.9 L1468.6,1087.9 L1469.0,1087.9 L1469.4,1087.9 L1469.8,1087.9 L1470.2,1087.9 L1470.6,1087.9 L1471.0,1087.9 L1471.4,1087.9 L1471.8,1087.9 L1472.2,1087.9 L1472.6,1087.9 L1473.0,1087.9 L1473.4,1087.9 L1473.8,1087.9 L1474.2,1087.9 L1474.6,1087.9 L1475.0,1087.9 L1475.4,1087.9 L1475.8,1087.9 L1476.2,1087.9 L1476.6,1087.9 L1477.0,1087.9 L1477.4,1087.9 L1477.8,1087.9 L1478.2,1087.9 L1478.6,1087.9 L1479.0,1087.9 L1479.4,1087.9 L1479.8,1087.9 L1480.2,1087.9 L1480.6,1087.9 L1481.0,1087.9 L1481.4,1087.9 L1481.8,1087.9 L1482.2,1087.9 L1482.6,1087.9 L1483.0,1087.9 L1483.4,1087.9 L1483.8,1087.9 L1484.2,1087.9 L1484.6,1087.9 L1485.0,1087.9 L1485.4,1087.9 L1485.8,1087.9 L1486.2,1087.9 L1486.6,1087.9 L1487.0,1087.9 L1487.4,1087.9 L1487.8,1087.9 L1488.2,1087.9 L1488.6,1087.9 L1489.0,1087.9 L1489.4,1087.9 L1489.8,1087.9 L1490.2,1087.9 L1490.6,1087.9 L1491.0,1087.9 L1491.4,1087.9 L1491.8,1087.9 L1492.2,1087.9 L1492.6,1087.9 L1493.0,1087.9 L1493.4,1087.9 L1493.8,1087.9 L1494.2,1087.9 L1494.6,1087.9 L1495.0,1087.9 L1495.4,1087.9 L1495.8,1087.9 L1496.2,1087.9 L1496.6,1087.9 L1497.0,1087.9 L1497.4,1087.9 L1497.8,1087.9 L1498.2,1087.9 L1498.6,1087.9 L1499.0,1087.9 L1499.4,1087.9 L1499.8,1087.9 L1500.2,1087.9 L1500.6,1087.9 L1501.0,1087.9 L1501.4,1087.9 L1501.8,1087.9 L1502.2,1087.9 L1502.6,1087.9 L1503.0,1087.9 L1503.4,1087.9 L1503.8,1087.9 L1504.2,1087.9 L1504.6,1087.9 L1505.0,1087.9 L1505.4,1087.9 L1505.8,1087.9 L1506.2,1087.9 L1506.6,1087.9 L1507.0,1087.9 L1507.4,1087.9 L1507.8,1087.9 L1508.2,1087.9 L1508.6,1087.9 L1509.0,1087.9 L1509.4,1087.9 L1509.8,1087.9 L1510.2,1087.9 L1510.6,1087.9 L1511.0,1087.9 L1511.4,1087.9 L1511.8,1087.9 L1512.2,1087.9 L1512.6,1087.9 L1513.0,1087.9 L1513.4,1087.9 L1513.8,1087.9 L1514.2,1087.9 L1514.6,1087.9 L1515.0,1087.9 L1515.4,1087.9 L1515.8,1087.9 L1516.2,1087.9 L1516.6,1087.9 L1517.0,1087.9 L1517.4,1087.9 L1517.8,1087.9 L1518.2,1087.9 L1518.6,1087.9 L1519.0,1087.9 L1519.4,1087.9 L1519.8,1087.9 L1520.2,1087.9 L1520.6,1087.9 L1521.0,1087.9 L1521.4,1087.9 L1521.8,1087.9 L1522.2,1087.9 L1522.6,1087.9 L1523.0,1087.9 L1523.4,1087.9 L1523.8,1087.9 L1524.2,1087.9 L1524.6,1087.9 L1525.0,1087.9 L1525.4,1087.9 L1525.8,1087.9 L1526.2,1087.9 L1526.6,1087.9 L1527.0,1087.9 L1527.4,1087.9 L1527.8,1087.9 L1528.2,1087.9 L1528.6,1087.9 L1529.0,1087.9 L1529.4,1087.9 L1529.8,1087.9 L1530.2,1087.9 L1530.6,1087.9 L1531.0,1087.9 L1531.4,1087.9 L1531.8,1087.9 L1532.2,1087.9 L1532.6,1087.9 L1533.0,1087.9 L1533.4,1087.9 L1533.8,1087.9 L1534.2,1087.9 L1534.6,1087.9 L1535.0,1087.9 L1535.4,1087.9 L1535.8,1087.9 L1536.2,1087.9 L1536.6,1087.9 L1537.0,1087.9 L1537.4,1087.9 L1537.8,1087.9 L1538.2,1087.9 L1538.6,1087.9 L1539.0,1087.9 L1539.4,1087.9 L1539.8,1087.9 L1540.2,1087.9 L1540.6,1087.9 L1541.0,1087.9 L1541.4,1087.9 L1541.8,1087.9 L1542.2,1087.9 L1542.6,1087.9 L1543.0,1087.9 L1543.4,1087.9 L1543.8,1087.9 L1544.2,1087.9 L1544.6,1087.9 L1545.0,1087.9 L1545.4,1087.9 L1545.8,1087.9 L1546.2,1087.9 L1546.6,1087.8 L1547.0,1087.8 L1547.4,1087.7 L1547.8,1087.5 L1548.2,1087.2 L1548.6,1086.8 L1549.0,1086.2 L1549.4,1085.4 L1549.8,1084.3 L1550.2,1082.9 L1550.6,1081.2 L1551.0,1079.0 L1551.4,1076.4 L1551.8,1073.5 L1552.2,1070.1 L1552.6,1066.4 L1553.0,1062.4 L1553.4,1058.2 L1553.8,1053.8 L1554.2,1049.4 L1554.6,1044.9 L1555.0,1040.6 L1555.4,1036.4 L1555.8,1032.4 L1556.2,1028.7 L1556.6,1025.3 L1557.0,1022.2 L1557.4,1019.5 L1557.8,1017.1 L1558.2,1015.0 L1558.6,1013.2 L1559.0,1011.8 L1559.4,1010.6 L1559.8,1009.7 L1560.2,1009.1 L1560.6,1008.7 L1561.0,1008.4 L1561.4,1008.3 L1561.8,1008.4 L1562.2,1008.5 L1562.6,1008.7 L1563.0,1009.0 L1563.4,1009.3 L1563.8,1009.6 L1564.2,1009.9 L1564.6,1010.2 L1565.0,1010.5 L1565.4,1010.8 L1565.8,1011.1 L1566.2,1011.4 L1566.6,1011.8 L1567.0,1012.1 L1567.4,1012.6 L1567.8,1013.1 L1568.2,1013.8 L1568.6,1014.6 L1569.0,1015.7 L1569.4,1016.9 L1569.8,1018.4 L1570.2,1020.3 L1570.6,1022.4 L1571.0,1024.8 L1571.4,1027.6 L1571.8,1030.7 L1572.2,1034.1 L1572.6,1037.8 L1573.0,1041.8 L1573.4,1045.9 L1573.8,1050.1 L1574.2,1054.4 L1574.6,1058.7 L1575.0,1062.8 L1575.4,1066.7 L1575.8,1070.3 L1576.2,1073.6 L1576.6,1076.5 L1577.0,1079.1 L1577.4,1081.2 L1577.8,1082.9 L1578.2,1084.3 L1578.6,1085.4 L1579.0,1086.2 L1579.4,1086.8 L1579.8,1087.2 L1580.2,1087.5 L1580.6,1087.6 L1581.0,1087.7 L1581.4,1087.8 L1581.8,1087.8 L1582.2,1087.9 L1582.6,1087.9 L1583.0,1087.9 L1583.4,1087.9 L1583.8,1087.9 L1584.2,1087.9 L1584.6,1087.9 L1585.0,1087.9 L1585.4,1087.9 L1585.8,1087.9 L1586.2,1087.9 L1586.6,1087.9 L1587.0,1087.9 L1587.4,1087.9 L1587.8,1087.9 L1588.2,1087.9 L1588.6,1087.9 L1589.0,1087.9 L1589.4,1087.9 L1589.8,1087.9 L1590.2,1087.9 L1590.6,1087.9 L1591.0,1087.9 L1591.4,1087.9 L1591.8,1087.9 L1592.2,1087.9 L1592.6,1087.9 L1593.0,1087.9 L1593.4,1087.9 L1593.8,1087.9 L1594.2,1087.9 L1594.6,1087.9 L1595.0,1087.9 L1595.4,1087.9 L1595.8,1087.9 L1596.2,1087.9 L1596.6,1087.9 L1597.0,1087.9 L1597.4,1087.9 L1597.8,1087.9 L1598.2,1087.9 L1598.6,1087.9 L1599.0,1087.9 L1599.4,1087.9 L1599.8,1087.9 L1600.2,1087.9 L1600.6,1087.9 L1601.0,1087.9 L1601.4,1087.9 L1601.8,1087.9 L1602.2,1087.9 L1602.6,1087.9 L1603.0,1087.9 L1603.4,1087.9 L1603.8,1087.9 L1604.2,1087.9 L1604.6,1087.9 L1605.0,1087.9 L1605.4,1087.9 L1605.8,1087.9 L1606.2,1087.9 L1606.6,1087.9 L1607.0,1087.9 L1607.4,1087.9 L1607.8,1087.9 L1608.2,1087.9 L1608.6,1087.9 L1609.0,1087.9 L1609.4,1087.9 L1609.8,1087.9 L1610.2,1087.9 L1610.6,1087.9 L1611.0,1087.9 L1611.4,1087.9 L1611.8,1087.9 L1612.2,1087.9 L1612.6,1087.9 L1613.0,1087.9 L1613.4,1087.9 L1613.8,1087.9 L1614.2,1087.9 L1614.6,1087.9 L1615.0,1087.9 L1615.4,1087.9 L1615.8,1087.9 L1616.2,1087.9 L1616.6,1087.9 L1617.0,1087.8 L1617.4,1087.8 L1617.8,1087.8 L1618.2,1087.8 L1618.6,1087.8 L1619.0,1087.8 L1619.4,1087.8 L1619.8,1087.8 L1620.2,1087.8 L1620.6,1087.8 L1621.0,1087.8 L1621.4,1087.8 L1621.8,1087.8 L1622.2,1087.8 L1622.6,1087.8 L1623.0,1087.8 L1623.4,1087.8 L1623.8,1087.8 L1624.2,1087.8 L1624.6,1087.8 L1625.0,1087.8 L1625.4,1087.8 L1625.8,1087.8 L1626.2,1087.8 L1626.6,1087.8 L1627.0,1087.8 L1627.4,1087.8 L1627.8,1087.8 L1628.2,1087.8 L1628.6,1087.8 L1629.0,1087.8 L1629.4,1087.8 L1629.8,1087.8 L1630.2,1087.8 L1630.6,1087.8 L1631.0,1087.8 L1631.4,1087.8 L1631.8,1087.8 L1632.2,1087.8 L1632.6,1087.8 L1633.0,1087.8 L1633.4,1087.8 L1633.8,1087.8 L1634.2,1087.8 L1634.6,1087.8 L1635.0,1087.8 L1635.4,1087.8 L1635.8,1087.8 L1636.2,1087.8 L1636.6,1087.8 L1637.0,1087.8 L1637.4,1087.8 L1637.8,1087.8 L1638.2,1087.8 L1638.6,1087.8 L1639.0,1087.8 L1639.4,1087.8 L1639.8,1087.8 L1640.2,1087.8 L1640.6,1087.8 L1641.0,1087.8 L1641.4,1087.8 L1641.8,1087.8 L1642.2,1087.8 L1642.6,1087.8 L1643.0,1087.8 L1643.4,1087.8 L1643.8,1087.8 L1644.2,1087.8 L1644.6,1087.8 L1645.0,1087.8 L1645.4,1087.8 L1645.8,1087.8 L1646.2,1087.8 L1646.6,1087.8 L1647.0,1087.8 L1647.4,1087.8 L1647.8,1087.8 L1648.2,1087.8 L1648.6,1087.8 L1649.0,1087.8 L1649.4,1087.8 L1649.8,1087.8 L1650.2,1087.8 L1650.6,1087.8 L1651.0,1087.8 L1651.4,1087.8 L1651.8,1087.8 L1652.2,1087.8 L1652.6,1087.8 L1653.0,1087.8 L1653.4,1087.8 L1653.8,1087.8 L1654.2,1087.8 L1654.6,1087.8 L1655.0,1087.8 L1655.4,1087.8 L1655.8,1087.8 L1656.2,1087.8 L1656.6,1087.8 L1657.0,1087.8 L1657.4,1087.8 L1657.8,1087.8 L1658.2,1087.8 L1658.6,1087.8 L1659.0,1087.8 L1659.4,1087.8 L1659.8,1087.8 L1660.2,1087.8 L1660.6,1087.8 L1661.0,1087.8 L1661.4,1087.8 L1661.8,1087.8 L1662.2,1087.8 L1662.6,1087.8 L1663.0,1087.8 L1663.4,1087.8 L1663.8,1087.8 L1664.2,1087.8 L1664.6,1087.8 L1665.0,1087.8 L1665.4,1087.8 L1665.8,1087.8 L1666.2,1087.8 L1666.6,1087.7 L1667.0,1087.7 L1667.4,1087.7 L1667.8,1087.7 L1668.2,1087.7 L1668.6,1087.7 L1669.0,1087.7 L1669.4,1087.7 L1669.8,1087.7 L1670.2,1087.7 L1670.6,1087.7 L1671.0,1087.7 L1671.4,1087.7 L1671.8,1087.7 L1672.2,1087.7 L1672.6,1087.7 L1673.0,1087.7 L1673.4,1087.7 L1673.8,1087.7 L1674.2,1087.7 L1674.6,1087.7 L1675.0,1087.7 L1675.4,1087.7 L1675.8,1087.7 L1676.2,1087.7 L1676.6,1087.7 L1677.0,1087.7 L1677.4,1087.7 L1677.8,1087.7 L1678.2,1087.7 L1678.6,1087.7 L1679.0,1087.7 L1679.4,1087.7 L1679.8,1087.7 L1680.2,1087.7 L1680.6,1087.7 L1681.0,1087.7 L1681.4,1087.7 L1681.8,1087.7 L1682.2,1087.7 L1682.6,1087.7 L1683.0,1087.7 L1683.4,1087.7 L1683.8,1087.7 L1684.2,1087.7 L1684.6,1087.7 L1685.0,1087.7 L1685.4,1087.7 L1685.8,1087.7 L1686.2,1087.7 L1686.6,1087.7 L1687.0,1087.7 L1687.4,1087.7 L1687.8,1087.7 L1688.2,1087.7 L1688.6,1087.7 L1689.0,1087.7 L1689.4,1087.7 L1689.8,1087.7 L1690.2,1087.7 L1690.6,1087.7 L1691.0,1087.7 L1691.4,1087.7 L1691.8,1087.7 L1692.2,1087.7 L1692.6,1087.6 L1693.0,1087.6 L1693.4,1087.6 L1693.8,1087.6 L1694.2,1087.6 L1694.6,1087.6 L1695.0,1087.6 L1695.4,1087.6 L1695.8,1087.6 L1696.2,1087.6 L1696.6,1087.6 L1697.0,1087.6 L1697.4,1087.6 L1697.8,1087.6 L1698.2,1087.6 L1698.6,1087.6 L1699.0,1087.6 L1699.4,1087.6 L1699.8,1087.6 L1700.2,1087.6 L1700.6,1087.6 L1701.0,1087.6 L1701.4,1087.6 L1701.8,1087.6 L1702.2,1087.6 L1702.6,1087.6 L1703.0,1087.6 L1703.4,1087.6 L1703.8,1087.6 L1704.2,1087.6 L1704.6,1087.6 L1705.0,1087.6 L1705.4,1087.6 L1705.8,1087.6 L1706.2,1087.6 L1706.6,1087.6 L1707.0,1087.6 L1707.4,1087.6 L1707.8,1087.6 L1708.2,1087.6 L1708.6,1087.6 L1709.0,1087.6 L1709.4,1087.5 L1709.8,1087.5 L1710.2,1087.5 L1710.6,1087.5 L1711.0,1087.5 L1711.4,1087.5 L1711.8,1087.5 L1712.2,1087.5 L1712.6,1087.5 L1713.0,1087.5 L1713.4,1087.5 L1713.8,1087.5 L1714.2,1087.5 L1714.6,1087.5 L1715.0,1087.5 L1715.4,1087.5 L1715.8,1087.5 L1716.2,1087.5 L1716.6,1087.5 L1717.0,1087.5 L1717.4,1087.5 L1717.8,1087.5 L1718.2,1087.5 L1718.6,1087.5 L1719.0,1087.5 L1719.4,1087.5 L1719.8,1087.5 L1720.2,1087.5 L1720.6,1087.5 L1721.0,1087.5 L1721.4,1087.4 L1721.8,1087.4 L1722.2,1087.4 L1722.6,1087.4 L1723.0,1087.4 L1723.4,1087.4 L1723.8,1087.4 L1724.2,1087.4 L1724.6,1087.4 L1725.0,1087.4 L1725.4,1087.4 L1725.8,1087.4 L1726.2,1087.4 L1726.6,1087.4 L1727.0,1087.4 L1727.4,1087.4 L1727.8,1087.4 L1728.2,1087.4 L1728.6,1087.4 L1729.0,1087.4 L1729.4,1087.4 L1729.8,1087.4 L1730.2,1087.3 L1730.6,1087.3 L1731.0,1087.3 L1731.4,1087.3 L1731.8,1087.3 L1732.2,1087.3 L1732.6,1087.3 L1733.0,1087.3 L1733.4,1087.3 L1733.8,1087.3 L1734.2,1087.3 L1734.6,1087.3 L1735.0,1087.3 L1735.4,1087.3 L1735.8,1087.3 L1736.2,1087.3 L1736.6,1087.3 L1737.0,1087.3 L1737.4,1087.2 L1737.8,1087.2 L1738.2,1087.2 L1738.6,1087.2 L1739.0,1087.2 L1739.4,1087.2 L1739.8,1087.2 L1740.2,1087.2 L1740.6,1087.2 L1741.0,1087.2 L1741.4,1087.2 L1741.8,1087.2 L1742.2,1087.2 L1742.6,1087.2 L1743.0,1087.2 L1743.4,1087.1 L1743.8,1087.1 L1744.2,1087.1 L1744.6,1087.1 L1745.0,1087.1 L1745.4,1087.1 L1745.8,1087.1 L1746.2,1087.1 L1746.6,1087.1 L1747.0,1087.1 L1747.4,1087.1 L1747.8,1087.1 L1748.2,1087.0 L1748.6,1087.0 L1749.0,1087.0 L1749.4,1087.0 L1749.8,1087.0 L1750.2,1087.0 L1750.6,1087.0 L1751.0,1087.0 L1751.4,1087.0 L1751.8,1087.0 L1752.2,1087.0 L1752.6,1086.9 L1753.0,1086.9 L1753.4,1086.9 L1753.8,1086.9 L1754.2,1086.9 L1754.6,1086.9 L1755.0,1086.9 L1755.4,1086.9 L1755.8,1086.9 L1756.2,1086.8 L1756.6,1086.8 L1757.0,1086.8 L1757.4,1086.8 L1757.8,1086.8 L1758.2,1086.8 L1758.6,1086.8 L1759.0,1086.8 L1759.4,1086.7 L1759.8,1086.7 L1760.2,1086.7 L1760.6,1086.7 L1761.0,1086.7 L1761.4,1086.7 L1761.8,1086.7 L1762.2,1086.6 L1762.6,1086.6 L1763.0,1086.6 L1763.4,1086.6 L1763.8,1086.6 L1764.2,1086.6 L1764.6,1086.5 L1765.0,1086.5 L1765.4,1086.5 L1765.8,1086.5 L1766.2,1086.5 L1766.6,1086.5 L1767.0,1086.4 L1767.4,1086.4 L1767.8,1086.4 L1768.2,1086.4 L1768.6,1086.4 L1769.0,1086.3 L1769.4,1086.3 L1769.8,1086.3 L1770.2,1086.3 L1770.6,1086.2 L1771.0,1086.2 L1771.4,1086.2 L1771.8,1086.2 L1772.2,1086.2 L1772.6,1086.1 L1773.0,1086.1 L1773.4,1086.1 L1773.8,1086.1 L1774.2,1086.0 L1774.6,1086.0 L1775.0,1086.0 L1775.4,1085.9 L1775.8,1085.9 L1776.2,1085.9 L1776.6,1085.9 L1777.0,1085.8 L1777.4,1085.8 L1777.8,1085.8 L1778.2,1085.7 L1778.6,1085.7 L1779.0,1085.7 L1779.4,1085.6 L1779.8,1085.6 L1780.2,1085.6 L1780.6,1085.5 L1781.0,1085.5 L1781.4,1085.5 L1781.8,1085.4 L1782.2,1085.4 L1782.6,1085.3 L1783.0,1085.3 L1783.4,1085.2 L1783.8,1085.2 L1784.2,1085.2 L1784.6,1085.1 L1785.0,1085.1 L1785.4,1085.0 L1785.8,1085.0 L1786.2,1084.9 L1786.6,1084.9 L1787.0,1084.8 L1787.4,1084.8 L1787.8,1084.7 L1788.2,1084.6 L1788.6,1084.6 L1789.0,1084.5 L1789.4,1084.5 L1789.8,1084.4 L1790.2,1084.3 L1790.6,1084.2 L1791.0,1084.2 L1791.4,1084.1 L1791.8,1084.0 L1792.2,1083.9 L1792.6,1083.9 L1793.0,1083.8 L1793.4,1083.7 L1793.8,1083.6 L1794.2,1083.5 L1794.6,1083.4 L1795.0,1083.3 L1795.4,1083.2 L1795.8,1083.1 L1796.2,1083.0 L1796.6,1082.9 L1797.0,1082.8 L1797.4,1082.6 L1797.8,1082.5 L1798.2,1082.4 L1798.6,1082.2 L1799.0,1082.1 L1799.4,1081.9 L1799.8,1081.8 L1800.2,1081.6 L1800.6,1081.5 L1801.0,1081.3 L1801.4,1081.1 L1801.8,1080.9 L1802.2,1080.7 L1802.6,1080.5 L1803.0,1080.3 L1803.4,1080.0 L1803.8,1079.8 L1804.2,1079.5 L1804.6,1079.3 L1805.0,1079.0 L1805.4,1078.7 L1805.8,1078.4 L1806.2,1078.1 L1806.6,1077.8 L1807.0,1077.4 L1807.4,1077.1 L1807.8,1076.7 L1808.2,1076.3 L1808.6,1075.9 L1809.0,1075.5 L1809.4,1075.1 L1809.8,1074.6 L1810.2,1074.1 L1810.6,1073.6 L1811.0,1073.1 L1811.4,1072.6 L1811.8,1072.1 L1812.2,1071.5 L1812.6,1070.9 L1813.0,1070.3 L1813.4,1069.6 L1813.8,1069.0 L1814.2,1068.3 L1814.6,1067.6 L1815.0,1066.9 L1815.4,1066.1 L1815.8,1065.4 L1816.2,1064.6 L1816.6,1063.8 L1817.0,1062.9 L1817.4,1062.1 L1817.8,1061.2 L1818.2,1060.3 L1818.6,1059.4 L1819.0,1058.5 L1819.4,1057.5 L1819.8,1056.6 L1820.2,1055.6 L1820.6,1054.6 L1821.0,1053.6 L1821.4,1052.6 L1821.8,1051.6 L1822.2,1050.6 L1822.6,1049.6 L1823.0,1048.6 L1823.4,1047.6 L1823.8,1046.7 L1824.2,1045.8 L1824.6,1044.8 L1825.0,1044.0 L1825.4,1043.1 L1825.8,1042.3 L1826.2,1041.6 L1826.6,1040.9 L1827.0,1040.3 L1827.4,1039.7 L1827.8,1039.2 L1828.2,1038.8 L1828.6,1038.4 L1829.0,1038.2 L1829.4,1038.0 L1829.8,1037.9 L1830.2,1037.9 L1830.6,1038.0 L1831.0,1038.2 L1831.4,1038.4 L1831.8,1038.8 L1832.2,1039.2 L1832.6,1039.7 L1833.0,1040.2 L1833.4,1040.9 L1833.8,1041.6 L1834.2,1042.3 L1834.6,1043.1 L1835.0,1043.9 L1835.4,1044.8 L1835.8,1045.7 L1836.2,1046.7 L1836.6,1047.6 L1837.0,1048.6 L1837.4,1049.6 L1837.8,1050.6 L1838.2,1051.6 L1838.6,1052.6 L1839.0,1053.6 L1839.4,1054.6 L1839.8,1055.5 L1840.2,1056.5 L1840.6,1057.5 L1841.0,1058.4 L1841.4,1059.3 L1841.8,1060.2 L1842.2,1061.1 L1842.6,1062.0 L1843.0,1062.9 L1843.4,1063.7 L1843.8,1064.5 L1844.2,1065.3 L1844.6,1066.1 L1845.0,1066.8 L1845.4,1067.5 L1845.8,1068.2 L1846.2,1068.9 L1846.6,1069.6 L1847.0,1070.2 L1847.4,1070.8 L1847.8,1071.4 L1848.2,1072.0 L1848.6,1072.5 L1849.0,1073.0 L1849.4,1073.5 L1849.8,1074.0 L1850.2,1074.5 L1850.6,1075.0 L1851.0,1075.4 L1851.4,1075.8 L1851.8,1076.2 L1852.2,1076.6 L1852.6,1077.0 L1853.0,1077.3 L1853.4,1077.6 L1853.8,1078.0 L1854.2,1078.3 L1854.6,1078.6 L1855.0,1078.9 L1855.4,1079.1 L1855.8,1079.4 L1856.2,1079.6 L1856.6,1079.9 L1857.0,1080.1 L1857.4,1080.3 L1857.8,1080.5 L1858.2,1080.7 L1858.6,1080.9 L1859.0,1081.1 L1859.4,1081.3 L1859.8,1081.4 L1860.2,1081.6 L1860.6,1081.7 L1861.0,1081.9 L1861.4,1082.0 L1861.8,1082.2 L1862.2,1082.3 L1862.6,1082.4 L1863.0,1082.5 L1863.4,1082.6 L1863.8,1082.7 L1864.2,1082.8 L1864.6,1082.9 L1865.0,1083.0 L1865.4,1083.1 L1865.8,1083.2 L1866.2,1083.3 L1866.6,1083.4 L1867.0,1083.5 L1867.4,1083.5 L1867.8,1083.6 L1868.2,1083.7 L1868.6,1083.7 L1869.0,1083.8 L1869.4,1083.9 L1869.8,1083.9 L1870.2,1084.0 L1870.6,1084.0 L1871.0,1084.1 L1871.4,1084.1 L1871.8,1084.2 L1872.2,1084.2 L1872.6,1084.3 L1873.0,1084.3 L1873.4,1084.3 L1873.8,1084.4 L1874.2,1084.4 L1874.6,1084.4 L1875.0,1084.4 L1875.4,1084.5 L1875.8,1084.5 L1876.2,1084.5 L1876.6,1084.5 L1877.0,1084.5 L1877.4,1084.5 L1877.8,1084.6 L1878.2,1084.6 L1878.6,1084.6 L1879.0,1084.6 L1879.4,1084.5 L1879.8,1084.5 L1880.2,1084.5 L1880.6,1084.5 L1881.0,1084.5 L1881.4,1084.4 L1881.8,1084.4 L1882.2,1084.4 L1882.6,1084.3 L1883.0,1084.2 L1883.4,1084.2 L1883.8,1084.1 L1884.2,1084.0 L1884.6,1083.9 L1885.0,1083.8 L1885.4,1083.6 L1885.8,1083.4 L1886.2,1083.2 L1886.6,1082.9 L1887.0,1082.5 L1887.4,1081.9 L1887.8,1081.2 L1888.2,1080.1 L1888.6,1078.7 L1889.0,1076.8 L1889.4,1074.2 L1889.8,1070.7 L1890.2,1066.2 L1890.6,1060.6 L1891.0,1053.6 L1891.4,1045.1 L1891.8,1035.3 L1892.2,1024.2 L1892.6,1012.0 L1893.0,999.1 L1893.4,986.1 L1893.8,973.6 L1894.2,962.4 L1894.6,953.2 L1895.0,946.9 L1895.4,944.1 L1895.8,945.1 L1896.2,949.7 L1896.6,957.6 L1897.0,967.9 L1897.4,979.9 L1897.8,992.8 L1898.2,1005.8 L1898.6,1018.4 L1899.0,1030.2 L1899.4,1040.7 L1899.8,1049.9 L1900.2,1057.6 L1900.6,1064.0 L1901.0,1069.1 L1901.4,1073.0 L1901.8,1076.1 L1902.2,1078.4 L1902.6,1080.1 L1903.0,1081.3 L1903.4,1082.2 L1903.8,1082.9 L1904.2,1083.4 L1904.6,1083.8 L1905.0,1084.1 L1905.4,1084.4 L1905.8,1084.6 L1906.2,1084.7 L1906.6,1084.9 L1907.0,1085.0 L1907.4,1085.2 L1907.8,1085.3 L1908.2,1085.4 L1908.6,1085.5 L1909.0,1085.6 L1909.4,1085.6 L1909.8,1085.7 L1910.2,1085.8 L1910.6,1085.8 L1911.0,1085.9 L1911.4,1086.0 L1911.8,1086.0 L1912.2,1086.1 L1912.6,1086.1 L1913.0,1086.2 L1913.4,1086.2 L1913.8,1086.2 L1914.2,1086.3 L1914.6,1086.3 L1915.0,1086.3 L1915.4,1086.3 L1915.8,1086.3 L1916.2,1086.3 L1916.6,1086.3 L1917.0,1086.2 L1917.4,1086.1 L1917.8,1085.9 L1918.2,1085.7 L1918.6,1085.3 L1919.0,1084.9 L1919.4,1084.4 L1919.8,1083.8 L1920.2,1083.2 L1920.6,1082.5 L1921.0,1081.8 L1921.4,1081.1 L1921.8,1080.6 L1922.2,1080.1 L1922.6,1079.9 L1923.0,1079.8 L1923.4,1079.9 L1923.8,1080.2 L1924.2,1080.7 L1924.6,1081.3 L1925.0,1081.9 L1925.4,1082.7 L1925.8,1083.4 L1926.2,1084.1 L1926.6,1084.7 L1927.0,1085.2 L1927.4,1085.6 L1927.8,1086.0 L1928.2,1086.3 L1928.6,1086.5 L1929.0,1086.7 L1929.4,1086.8 L1929.8,1086.8 L1930.2,1086.9 L1930.6,1086.9 L1931.0,1087.0 L1931.4,1087.0 L1931.8,1087.0 L1932.2,1087.0 L1932.6,1087.0 L1933.0,1087.0 L1933.4,1087.0 L1933.8,1087.0 L1934.2,1087.0 L1934.6,1087.0 L1935.0,1087.0 L1935.4,1087.0 L1935.8,1087.0 L1936.2,1087.1 L1936.6,1087.1 L1937.0,1087.1 L1937.4,1087.1 L1937.8,1087.1 L1938.2,1087.1 L1938.6,1087.1 L1939.0,1087.1 L1939.4,1087.1 L1939.8,1087.1 L1940.2,1087.1 L1940.6,1087.1 L1941.0,1087.1 L1941.4,1087.1 L1941.8,1087.1 L1942.2,1087.1 L1942.6,1087.1 L1943.0,1087.1 L1943.4,1087.1 L1943.8,1087.1 L1944.2,1087.1 L1944.6,1087.1 L1945.0,1087.1 L1945.4,1087.1 L1945.8,1087.1 L1946.2,1087.1 L1946.6,1087.1 L1947.0,1087.1 L1947.4,1087.1 L1947.8,1087.1 L1948.2,1087.1 L1948.6,1087.1 L1949.0,1087.1 L1949.4,1087.1 L1949.8,1087.1 L1950.2,1087.1 L1950.6,1087.1 L1951.0,1087.1 L1951.4,1087.1 L1951.8,1087.1 L1952.2,1087.1 L1952.6,1087.0 L1953.0,1087.0 L1953.4,1087.0 L1953.8,1087.0 L1954.2,1087.0 L1954.6,1087.0 L1955.0,1087.0 L1955.4,1087.0 L1955.8,1087.0 L1956.2,1087.0 L1956.6,1087.0 L1957.0,1087.0 L1957.4,1087.0 L1957.8,1086.9 L1958.2,1086.9 L1958.6,1086.9 L1959.0,1086.9 L1959.4,1086.9 L1959.8,1086.9 L1960.2,1086.9 L1960.6,1086.8 L1961.0,1086.8 L1961.4,1086.8 L1961.8,1086.8 L1962.2,1086.7 L1962.6,1086.7 L1963.0,1086.7 L1963.4,1086.6 L1963.8,1086.6 L1964.2,1086.5 L1964.6,1086.4 L1965.0,1086.4 L1965.4,1086.3 L1965.8,1086.2 L1966.2,1086.1 L1966.6,1086.0 L1967.0,1085.8 L1967.4,1085.7 L1967.8,1085.5 L1968.2,1085.3 L1968.6,1085.1 L1969.0,1084.8 L1969.4,1084.5 L1969.8,1084.2 L1970.2,1083.9 L1970.6,1083.5 L1971.0,1083.0 L1971.4,1082.5 L1971.8,1082.0 L1972.2,1081.4 L1972.6,1080.7 L1973.0,1080.0 L1973.4,1079.2 L1973.8,1078.4 L1974.2,1077.4 L1974.6,1076.4 L1975.0,1075.3 L1975.4,1074.1 L1975.8,1072.8 L1976.2,1071.4 L1976.6,1070.0 L1977.0,1068.4 L1977.4,1066.8 L1977.8,1065.1 L1978.2,1063.2 L1978.6,1061.3 L1979.0,1059.3 L1979.4,1057.3 L1979.8,1055.1 L1980.2,1052.9 L1980.6,1050.7 L1981.0,1048.4 L1981.4,1046.0 L1981.8,1043.6 L1982.2,1041.3 L1982.6,1038.9 L1983.0,1036.5 L1983.4,1034.2 L1983.8,1031.9 L1984.2,1029.6 L1984.6,1027.4 L1985.0,1025.3 L1985.4,1023.4 L1985.8,1021.5 L1986.2,1019.8 L1986.6,1018.2 L1987.0,1016.8 L1987.4,1015.6 L1987.8,1014.6 L1988.2,1013.8 L1988.6,1013.2 L1989.0,1012.8 L1989.4,1012.6 L1989.8,1012.7 L1990.2,1013.0 L1990.6,1013.5 L1991.0,1014.2 L1991.4,1015.1 L1991.8,1016.2 L1992.2,1017.5 L1992.6,1019.0 L1993.0,1020.6 L1993.4,1022.4 L1993.8,1024.4 L1994.2,1026.4 L1994.6,1028.5 L1995.0,1030.7 L1995.4,1033.0 L1995.8,1035.3 L1996.2,1037.7 L1996.6,1040.1 L1997.0,1042.5 L1997.4,1044.8 L1997.8,1047.2 L1998.2,1049.5 L1998.6,1051.8 L1999.0,1054.0 L1999.4,1056.2 L1999.8,1058.3 L2000.2,1060.4 L2000.6,1062.3 L2001.0,1064.2 L2001.4,1065.9 L2001.8,1067.6 L2002.2,1069.2 L2002.6,1070.7 L2003.0,1072.2 L2003.4,1073.5 L2003.8,1074.7 L2004.2,1075.9 L2004.6,1076.9 L2005.0,1077.9 L2005.4,1078.8 L2005.8,1079.6 L2006.2,1080.4 L2006.6,1081.1 L2007.0,1081.7 L2007.4,1082.3 L2007.8,1082.8 L2008.2,1083.3 L2008.6,1083.7 L2009.0,1084.1 L2009.4,1084.4 L2009.8,1084.7 L2010.2,1085.0 L2010.6,1085.2 L2011.0,1085.4 L2011.4,1085.6 L2011.8,1085.8 L2012.2,1085.9 L2012.6,1086.0 L2013.0,1086.1 L2013.4,1086.2 L2013.8,1086.3 L2014.2,1086.4 L2014.6,1086.5 L2015.0,1086.5 L2015.4,1086.6 L2015.8,1086.6 L2016.2,1086.7 L2016.6,1086.7 L2017.0,1086.7 L2017.4,1086.8 L2017.8,1086.8 L2018.2,1086.8 L2018.6,1086.8 L2019.0,1086.9 L2019.4,1086.9 L2019.8,1086.9 L2020.2,1086.9 L2020.6,1086.9 L2021.0,1086.9 L2021.4,1086.9 L2021.8,1086.9 L2022.2,1086.9 L2022.6,1086.9 L2023.0,1086.9 L2023.4,1087.0 L2023.8,1087.0 L2024.2,1087.0 L2024.6,1087.0 L2025.0,1087.0 L2025.4,1087.0 L2025.8,1087.0 L2026.2,1087.0 L2026.6,1087.0 L2027.0,1087.0 L2027.4,1087.0 L2027.8,1087.0 L2028.2,1087.0 L2028.6,1086.9 L2029.0,1086.9 L2029.4,1086.9 L2029.8,1086.9 L2030.2,1086.9 L2030.6,1086.9 L2031.0,1086.9 L2031.4,1086.9 L2031.8,1086.9 L2032.2,1086.9 L2032.6,1086.8 L2033.0,1086.8 L2033.4,1086.8 L2033.8,1086.8 L2034.2,1086.8 L2034.6,1086.7 L2035.0,1086.7 L2035.4,1086.6 L2035.8,1086.6 L2036.2,1086.5 L2036.6,1086.5 L2037.0,1086.4 L2037.4,1086.3 L2037.8,1086.2 L2038.2,1086.1 L2038.6,1086.0 L2039.0,1085.8 L2039.4,1085.7 L2039.8,1085.5 L2040.2,1085.2 L2040.6,1085.0 L2041.0,1084.7 L2041.4,1084.4 L2041.8,1084.0 L2042.2,1083.6 L2042.6,1083.1 L2043.0,1082.6 L2043.4,1082.0 L2043.8,1081.4 L2044.2,1080.7 L2044.6,1079.9 L2045.0,1079.0 L2045.4,1078.0 L2045.8,1077.0 L2046.2,1075.8 L2046.6,1074.6 L2047.0,1073.2 L2047.4,1071.8 L2047.8,1070.2 L2048.2,1068.5 L2048.6,1066.8 L2049.0,1064.9 L2049.4,1062.9 L2049.8,1060.8 L2050.2,1058.6 L2050.6,1056.3 L2051.0,1053.9 L2051.4,1051.5 L2051.8,1048.9 L2052.2,1046.4 L2052.6,1043.8 L2053.0,1041.1 L2053.4,1038.5 L2053.8,1035.8 L2054.2,1033.2 L2054.6,1030.7 L2055.0,1028.2 L2055.4,1025.7 L2055.8,1023.4 L2056.2,1021.2 L2056.6,1019.2 L2057.0,1017.3 L2057.4,1015.6 L2057.8,1014.1 L2058.2,1012.9 L2058.6,1011.8 L2059.0,1011.1 L2059.4,1010.5 L2059.8,1010.3 L2060.2,1010.3 L2060.6,1010.5 L2061.0,1011.1 L2061.4,1011.8 L2061.8,1012.9 L2062.2,1014.2 L2062.6,1015.6 L2063.0,1017.3 L2063.4,1019.2 L2063.8,1021.3 L2064.2,1023.5 L2064.6,1025.8 L2065.0,1028.2 L2065.4,1030.7 L2065.8,1033.3 L2066.2,1035.9 L2066.6,1038.5 L2067.0,1041.2 L2067.4,1043.8 L2067.8,1046.4 L2068.2,1049.0 L2068.6,1051.5 L2069.0,1054.0 L2069.4,1056.4 L2069.8,1058.7 L2070.2,1060.9 L2070.6,1063.0 L2071.0,1065.0 L2071.4,1066.9 L2071.8,1068.6 L2072.2,1070.3 L2072.6,1071.9 L2073.0,1073.3 L2073.4,1074.7 L2073.8,1076.0 L2074.2,1077.1 L2074.6,1078.2 L2075.0,1079.1 L2075.4,1080.0 L2075.8,1080.8 L2076.2,1081.5 L2076.6,1082.2 L2077.0,1082.8 L2077.4,1083.3 L2077.8,1083.8 L2078.2,1084.2 L2078.6,1084.5 L2079.0,1084.9 L2079.4,1085.2 L2079.8,1085.4 L2080.2,1085.6 L2080.6,1085.8 L2081.0,1086.0 L2081.4,1086.2 L2081.8,1086.3 L2082.2,1086.4 L2082.6,1086.5 L2083.0,1086.6 L2083.4,1086.7 L2083.8,1086.8 L2084.2,1086.8 L2084.6,1086.9 L2085.0,1086.9 L2085.4,1087.0 L2085.8,1087.0 L2086.2,1087.0 L2086.6,1087.1 L2087.0,1087.1 L2087.4,1087.1 L2087.8,1087.1 L2088.2,1087.2 L2088.6,1087.2 L2089.0,1087.2 L2089.4,1087.2 L2089.8,1087.2 L2090.2,1087.3 L2090.6,1087.3 L2091.0,1087.3 L2091.4,1087.3 L2091.8,1087.3 L2092.2,1087.3 L2092.6,1087.3 L2093.0,1087.3 L2093.4,1087.4 L2093.8,1087.4 L2094.2,1087.4 L2094.6,1087.4 L2095.0,1087.4 L2095.4,1087.4 L2095.8,1087.4 L2096.2,1087.4 L2096.6,1087.4 L2097.0,1087.4 L2097.4,1087.4 L2097.8,1087.4 L2098.2,1087.5 L2098.6,1087.5 L2099.0,1087.5 L2099.4,1087.5 L2099.8,1087.5 L2100.2,1087.5 L2100.6,1087.5 L2101.0,1087.5 L2101.4,1087.5 L2101.8,1087.5 L2102.2,1087.5 L2102.6,1087.5 L2103.0,1087.5 L2103.4,1087.5 L2103.8,1087.5 L2104.2,1087.5 L2104.6,1087.5 L2105.0,1087.5 L2105.4,1087.5 L2105.8,1087.5 L2106.2,1087.6 L2106.6,1087.6 L2107.0,1087.6 L2107.4,1087.6 L2107.8,1087.6 L2108.2,1087.6 L2108.6,1087.6 L2109.0,1087.6 L2109.4,1087.6 L2109.8,1087.6 L2110.2,1087.6 L2110.6,1087.6 L2111.0,1087.6 L2111.4,1087.6 L2111.8,1087.6 L2112.2,1087.6 L2112.6,1087.6 L2113.0,1087.6 L2113.4,1087.6 L2113.8,1087.6 L2114.2,1087.6 L2114.6,1087.6 L2115.0,1087.6 L2115.4,1087.6 L2115.8,1087.6 L2116.2,1087.6 L2116.6,1087.6 L2117.0,1087.6 L2117.4,1087.6 L2117.8,1087.6 L2118.2,1087.6 L2118.6,1087.6 L2119.0,1087.6 L2119.4,1087.6 L2119.8,1087.6 L2120.2,1087.6 L2120.6,1087.6 L2121.0,1087.6 L2121.4,1087.6 L2121.8,1087.6 L2122.2,1087.6 L2122.6,1087.6 L2123.0,1087.6 L2123.4,1087.6 L2123.8,1087.6 L2124.2,1087.6 L2124.6,1087.6 L2125.0,1087.6 L2125.4,1087.6 L2125.8,1087.6 L2126.2,1087.6 L2126.6,1087.6 L2127.0,1087.6 L2127.4,1087.6 L2127.8,1087.6 L2128.2,1087.6 L2128.6,1087.6 L2129.0,1087.6 L2129.4,1087.6 L2129.8,1087.6 L2130.2,1087.6 L2130.6,1087.6 L2131.0,1087.6 L2131.4,1087.6 L2131.8,1087.6 L2132.2,1087.6 L2132.6,1087.6 L2133.0,1087.6 L2133.4,1087.6 L2133.8,1087.6 L2134.2,1087.6 L2134.6,1087.6 L2135.0,1087.6 L2135.4,1087.6 L2135.8,1087.6 L2136.2,1087.6 L2136.6,1087.5 L2137.0,1087.5 L2137.4,1087.5 L2137.8,1087.5 L2138.2,1087.5 L2138.6,1087.5 L2139.0,1087.5 L2139.4,1087.5 L2139.8,1087.5 L2140.2,1087.5 L2140.6,1087.5 L2141.0,1087.5 L2141.4,1087.5 L2141.8,1087.5 L2142.2,1087.5 L2142.6,1087.4 L2143.0,1087.4 L2143.4,1087.4 L2143.8,1087.4 L2144.2,1087.4 L2144.6,1087.4 L2145.0,1087.4 L2145.4,1087.4 L2145.8,1087.4 L2146.2,1087.3 L2146.6,1087.3 L2147.0,1087.3 L2147.4,1087.3 L2147.8,1087.3 L2148.2,1087.3 L2148.6,1087.3 L2149.0,1087.2 L2149.4,1087.2 L2149.8,1087.2 L2150.2,1087.2 L2150.6,1087.2 L2151.0,1087.1 L2151.4,1087.1 L2151.8,1087.1 L2152.2,1087.1 L2152.6,1087.0 L2153.0,1087.0 L2153.4,1087.0 L2153.8,1086.9 L2154.2,1086.9 L2154.6,1086.9 L2155.0,1086.8 L2155.4,1086.8 L2155.8,1086.7 L2156.2,1086.7 L2156.6,1086.6 L2157.0,1086.6 L2157.4,1086.5 L2157.8,1086.4 L2158.2,1086.4 L2158.6,1086.3 L2159.0,1086.2 L2159.4,1086.2 L2159.8,1086.1 L2160.2,1086.0 L2160.6,1085.9 L2161.0,1085.6 L2161.4,1084.7 L2161.8,1082.2 L2162.2,1076.5 L2162.6,1066.9 L2163.0,1053.9 L2163.4,1039.1 L2163.8,1024.4 L2164.2,1011.4 L2164.6,1000.8 L2165.0,992.7 L2165.4,986.9 L2165.8,983.0 L2166.2,980.3 L2166.6,978.4 L2167.0,976.9 L2167.4,975.1 L2167.8,972.3 L2168.2,967.4 L2168.6,959.2 L2169.0,946.9 L2169.4,930.5 L2169.8,912.1 L2170.2,895.1 L2170.6,883.8 L2171.0,881.3 L2171.4,888.3 L2171.8,902.8 L2172.2,920.9 L2172.6,938.4 L2173.0,952.8 L2173.4,962.9 L2173.8,969.1 L2174.2,972.6 L2174.6,974.4 L2175.0,975.3 L2175.4,975.9 L2175.8,976.5 L2176.2,977.1 L2176.6,978.0 L2177.0,979.4 L2177.4,981.5 L2177.8,984.8 L2178.2,989.6 L2178.6,996.5 L2179.0,1005.8 L2179.4,1017.6 L2179.8,1031.7 L2180.2,1046.6 L2180.6,1060.8 L2181.0,1072.2 L2181.4,1079.8 L2181.8,1083.8 L2182.2,1085.3 L2182.6,1085.8 L2183.0,1085.9 L2183.4,1086.1 L2183.8,1086.1 L2184.2,1086.2 L2184.6,1086.3 L2185.0,1086.4 L2185.4,1086.4 L2185.8,1086.5 L2186.2,1086.6 L2186.6,1086.6 L2187.0,1086.7 L2187.4,1086.7 L2187.8,1086.8 L2188.2,1086.8 L2188.6,1086.9 L2189.0,1086.9 L2189.4,1087.0 L2189.8,1087.0 L2190.2,1087.0 L2190.6,1087.1 L2191.0,1087.1 L2191.4,1087.1 L2191.8,1087.1 L2192.2,1087.2 L2192.6,1087.2 L2193.0,1087.2 L2193.4,1087.2 L2193.8,1087.3 L2194.2,1087.3 L2194.6,1087.3 L2195.0,1087.3 L2195.4,1087.3 L2195.8,1087.4 L2196.2,1087.4 L2196.6,1087.4 L2197.0,1087.4 L2197.4,1087.4 L2197.8,1087.4 L2198.2,1087.5 L2198.6,1087.5 L2199.0,1087.5 L2199.4,1087.5 L2199.8,1087.5 L2200.2,1087.5 L2200.6,1087.5 L2201.0,1087.5 L2201.4,1087.5 L2201.8,1087.6 L2202.2,1087.6 L2202.6,1087.6 L2203.0,1087.6 L2203.4,1087.6 L2203.8,1087.6 L2204.2,1087.6 L2204.6,1087.6 L2205.0,1087.6 L2205.4,1087.6 L2205.8,1087.6 L2206.2,1087.6 L2206.6,1087.6 L2207.0,1087.7 L2207.4,1087.7 L2207.8,1087.7 L2208.2,1087.7 L2208.6,1087.7 L2209.0,1087.7 L2209.4,1087.7 L2209.8,1087.7 L2210.2,1087.7 L2210.6,1087.7 L2211.0,1087.7 L2211.4,1087.7 L2211.8,1087.7 L2212.2,1087.7 L2212.6,1087.7 L2213.0,1087.7 L2213.4,1087.7 L2213.8,1087.7 L2214.2,1087.7 L2214.6,1087.7 L2215.0,1087.7 L2215.4,1087.7 L2215.8,1087.8 L2216.2,1087.8 L2216.6,1087.8 L2217.0,1087.8 L2217.4,1087.8 L2217.8,1087.8 L2218.2,1087.8 L2218.6,1087.8 L2219.0,1087.8 L2219.4,1087.8 L2219.8,1087.8 L2220.2,1087.8 L2220.6,1087.8 L2221.0,1087.8 L2221.4,1087.8 L2221.8,1087.8 L2222.2,1087.8 L2222.6,1087.8 L2223.0,1087.8 L2223.4,1087.8 L2223.8,1087.8 L2224.2,1087.8 L2224.6,1087.8 L2225.0,1087.8 L2225.4,1087.8 L2225.8,1087.8 L2226.2,1087.8 L2226.6,1087.8 L2227.0,1087.8 L2227.4,1087.8 L2227.8,1087.8 L2228.2,1087.8 L2228.6,1087.8 L2229.0,1087.8 L2229.4,1087.8 L2229.8,1087.8 L2230.2,1087.8 L2230.6,1087.8 L2231.0,1087.8 L2231.4,1087.8 L2231.8,1087.8 L2232.2,1087.8 L2232.6,1087.8 L2233.0,1087.8 L2233.4,1087.8 L2233.8,1087.8 L2234.2,1087.8 L2234.6,1087.8 L2235.0,1087.8 L2235.4,1087.8 L2235.8,1087.9 L2236.2,1087.9 L2236.6,1087.9 L2237.0,1087.9 L2237.4,1087.9 L2237.8,1087.9 L2238.2,1087.9 L2238.6,1087.9 L2239.0,1087.9 L2239.4,1087.9 L2239.8,1087.9 L2240.2,1087.9 L2240.6,1087.9 L2241.0,1087.9 L2241.4,1087.9 L2241.8,1087.9 L2242.2,1087.9 L2242.6,1087.9 L2243.0,1087.9 L2243.4,1087.9 L2243.8,1087.9 L2244.2,1087.9 L2244.6,1087.9 L2245.0,1087.9 L2245.4,1087.9 L2245.8,1087.9 L2246.2,1087.9 L2246.6,1087.9 L2247.0,1087.9 L2247.4,1087.9 L2247.8,1087.9 L2248.2,1087.9 L2248.6,1087.9 L2249.0,1087.9 L2249.4,1087.9 L2249.8,1087.9 L2250.2,1087.9 L2250.6,1087.9 L2251.0,1087.9 L2251.4,1087.9 L2251.8,1087.9 L2252.2,1087.9 L2252.6,1087.9 L2253.0,1087.9 L2253.4,1087.9 L2253.8,1087.9 L2254.2,1087.9 L2254.6,1087.9 L2255.0,1087.9 L2255.4,1087.9 L2255.8,1087.9 L2256.2,1087.9 L2256.6,1087.9 L2257.0,1087.9 L2257.4,1087.9 L2257.8,1087.9 L2258.2,1087.9 L2258.6,1087.9 L2259.0,1087.9 L2259.4,1087.9 L2259.8,1087.9 L2260.2,1087.9 L2260.6,1087.9 L2261.0,1087.9 L2261.4,1087.9 L2261.8,1087.9 L2262.2,1087.9 L2262.6,1087.9 L2263.0,1087.9 L2263.4,1087.9 L2263.8,1087.9 L2264.2,1087.9 L2264.6,1087.9 L2265.0,1087.9 L2265.4,1087.9 L2265.8,1087.9 L2266.2,1087.9 L2266.6,1087.9 L2267.0,1087.9 L2267.4,1087.9 L2267.8,1087.9 L2268.2,1087.9 L2268.6,1087.9 L2269.0,1087.9 L2269.4,1087.9 L2269.8,1087.9 L2270.2,1087.9 L2270.6,1087.9 L2271.0,1087.9 L2271.4,1087.9 L2271.8,1087.9 L2272.2,1087.9 L2272.6,1087.9 L2273.0,1087.9 L2273.4,1087.9 L2273.8,1087.9 L2274.2,1087.9 L2274.6,1087.9 L2275.0,1087.9 L2275.4,1087.9 L2275.8,1087.9 L2276.2,1087.9 L2276.6,1087.9 L2277.0,1087.9 L2277.4,1087.9 L2277.8,1087.9 L2278.2,1087.9 L2278.6,1087.9 L2279.0,1087.9 L2279.4,1087.9 L2279.8,1087.9 L2280.2,1087.9 L2280.6,1087.9 L2281.0,1087.9 L2281.4,1087.9 L2281.8,1087.9 L2282.2,1087.9 L2282.6,1087.9 L2283.0,1087.9 L2283.4,1087.9 L2283.8,1087.9 L2284.2,1087.9 L2284.6,1087.9 L2285.0,1087.9 L2285.4,1087.9 L2285.8,1087.9 L2286.2,1087.9 L2286.6,1087.9 L2287.0,1087.9 L2287.4,1087.9 L2287.8,1087.9 L2288.2,1087.9 L2288.6,1087.9 L2289.0,1087.9 L2289.4,1087.9 L2289.8,1087.9 L2290.2,1087.9 L2290.6,1087.9 L2291.0,1087.9 L2291.4,1087.9 L2291.8,1087.9 L2292.2,1087.9 L2292.6,1087.9 L2293.0,1087.9 L2293.4,1087.9 L2293.8,1087.9 L2294.2,1087.9 L2294.6,1087.9 L2295.0,1087.9 L2295.4,1087.9 L2295.8,1087.9 L2296.2,1087.9 L2296.6,1087.9 L2297.0,1087.9 L2297.4,1087.9 L2297.8,1087.9 L2298.2,1087.9 L2298.6,1087.9 L2299.0,1087.9 L2299.4,1087.9 L2299.8,1087.9 L2300.2,1087.9 L2300.6,1087.9 L2301.0,1087.9 L2301.4,1087.9 L2301.8,1087.9 L2302.2,1087.9 L2302.6,1087.9 L2303.0,1087.9 L2303.4,1087.9 L2303.8,1087.9 L2304.2,1087.9 L2304.6,1087.9 L2305.0,1087.9 L2305.4,1087.9 L2305.8,1087.9 L2306.2,1087.9 L2306.6,1087.9 L2307.0,1087.9 L2307.4,1087.9 L2307.8,1087.9 L2308.2,1087.9 L2308.6,1087.9 L2309.0,1087.9 L2309.4,1087.9 L2309.8,1087.9 L2310.2,1087.9 L2310.6,1087.9 L2311.0,1087.9 L2311.4,1087.9 L2311.8,1087.9 L2312.2,1087.9 L2312.6,1087.9 L2313.0,1087.9 L2313.4,1087.9 L2313.8,1087.9 L2314.2,1087.9 L2314.6,1087.9 L2315.0,1087.9 L2315.4,1087.9 L2315.8,1087.9 L2316.2,1087.9 L2316.6,1087.9 L2317.0,1087.9 L2317.4,1087.9 L2317.8,1087.9 L2318.2,1087.9 L2318.6,1087.9 L2319.0,1087.9 L2319.4,1087.9 L2319.8,1087.9 L2320.2,1087.9 L2320.6,1087.9 L2321.0,1087.9 L2321.4,1087.9 L2321.8,1087.9 L2322.2,1087.9 L2322.6,1087.9 L2323.0,1087.9 L2323.4,1087.9 L2323.8,1087.9 L2324.2,1087.9 L2324.6,1087.9 L2325.0,1087.9 L2325.4,1087.9 L2325.8,1087.9 L2326.2,1087.9 L2326.6,1087.9 L2327.0,1087.9 L2327.4,1087.9 L2327.8,1087.9 L2328.2,1087.9 L2328.6,1087.9 L2329.0,1087.9 L2329.4,1087.9 L2329.8,1087.9 L2330.2,1087.9 L2330.6,1087.9 L2331.0,1087.9 L2331.4,1087.9 L2331.8,1087.9 L2332.2,1087.9 L2332.6,1087.9 L2333.0,1087.9 L2333.4,1087.9 L2333.8,1087.9 L2334.2,1087.9 L2334.6,1087.9 L2335.0,1087.9 L2335.4,1087.9 L2335.8,1087.9 L2336.2,1087.9 L2336.6,1087.9 L2337.0,1087.9 L2337.4,1088.0 L2337.8,1088.0 L2338.2,1088.0 L2338.6,1088.0 L2339.0,1088.0 L2339.4,1088.0 L2339.8,1088.0 L2340.2,1088.0 L2340.6,1088.0 L2341.0,1088.0 L2341.4,1088.0 L2341.8,1088.0 L2342.2,1088.0 L2342.6,1088.0 L2343.0,1088.0 L2343.4,1088.0 L2343.8,1088.0 L2344.2,1088.0 L2344.6,1088.0 L2345.0,1088.0 L2345.4,1088.0 L2345.8,1088.0 L2346.2,1088.0 L2346.6,1088.0 L2347.0,1088.0 L2347.4,1088.0 L2347.8,1088.0 L2348.2,1088.0 L2348.6,1088.0 L2349.0,1088.0 L2349.4,1088.0 L2349.8,1088.0 L2350.2,1088.0 L2350.6,1088.0 L2351.0,1088.0 L2351.4,1088.0 L2351.8,1088.0 L2352.2,1088.0 L2352.6,1088.0 L2353.0,1088.0 L2353.4,1088.0 L2353.8,1088.0 L2354.2,1088.0 L2354.6,1088.0 L2355.0,1088.0 L2355.4,1088.0 L2355.8,1088.0 L2356.2,1088.0 L2356.6,1088.0 L2357.0,1088.0 L2357.4,1088.0 L2357.8,1088.0 L2358.2,1088.0 L2358.6,1088.0 L2359.0,1088.0 L2359.4,1088.0 L2359.8,1088.0 L2360.2,1088.0 L2360.6,1088.0 L2361.0,1088.0 L2361.4,1088.0 L2361.8,1088.0 L2362.2,1088.0 L2362.6,1088.0 L2363.0,1088.0 L2363.4,1088.0 L2363.8,1088.0 L2364.2,1088.0 L2364.6,1088.0 L2365.0,1088.0 L2365.4,1088.0 L2365.8,1088.0 L2366.2,1088.0 L2366.6,1088.0 L2367.0,1088.0 L2367.4,1088.0 L2367.8,1088.0 L2368.2,1088.0 L2368.6,1088.0 L2369.0,1088.0 L2369.4,1088.0 L2369.8,1088.0 L2370.2,1088.0 L2370.6,1088.0 L2371.0,1088.0 L2371.4,1088.0 L2371.8,1088.0 L2372.2,1088.0 L2372.6,1088.0 L2373.0,1088.0 L2373.4,1088.0 L2373.8,1088.0 L2374.2,1088.0 L2374.6,1088.0 L2375.0,1088.0 L2375.4,1088.0 L2375.8,1088.0 L2376.2,1088.0 L2376.6,1088.0 L2377.0,1088.0 L2377.4,1088.0 L2377.8,1088.0 L2378.2,1088.0 L2378.6,1088.0 L2379.0,1088.0 L2379.4,1088.0 L2379.8,1088.0 L2380.2,1088.0 L2380.6,1088.0 L2381.0,1088.0 L2381.4,1088.0 L2381.8,1088.0 L2382.2,1088.0 L2382.6,1088.0 L2383.0,1088.0 L2383.4,1088.0 L2383.8,1088.0 L2384.2,1088.0 L2384.6,1088.0 L2385.0,1088.0 L2385.4,1088.0 L2385.8,1088.0 L2386.2,1088.0 L2386.6,1088.0 L2387.0,1088.0 L2387.4,1088.0 L2387.8,1088.0 L2388.2,1088.0 L2388.6,1088.0 L2389.0,1088.0 L2389.4,1088.0 L2389.8,1088.0 L2390.2,1088.0 L2390.6,1088.0 L2391.0,1088.0 L2391.4,1088.0 L2391.8,1088.0 L2392.2,1088.0 L2392.6,1088.0 L2393.0,1088.0 L2393.4,1088.0 L2393.8,1088.0 L2394.2,1088.0 L2394.6,1088.0 L2395.0,1088.0 L2395.4,1088.0 L2395.8,1088.0 L2396.2,1088.0 L2396.6,1088.0 L2397.0,1088.0 L2397.4,1088.0 L2397.8,1088.0 L2398.2,1088.0 L2398.6,1088.0 L2399.0,1088.0 L2399.4,1088.0 L2399.8,1088.0 L2400.2,1088.0 L2400.6,1088.0 L2401.0,1088.0 L2401.4,1088.0 L2401.8,1088.0 L2402.2,1088.0 L2402.6,1088.0 L2403.0,1088.0 L2403.4,1088.0 L2403.8,1088.0 L2404.2,1088.0 L2404.6,1088.0 L2405.0,1088.0 L2405.4,1088.0 L2405.8,1088.0 L2406.2,1088.0 L2406.6,1088.0 L2407.0,1088.0 L2407.4,1088.0 L2407.8,1088.0 L2408.2,1088.0 L2408.6,1088.0 L2409.0,1088.0 L2409.4,1088.0 L2409.8,1088.0 L2410.2,1088.0 L2410.6,1088.0 L2411.0,1088.0 L2411.4,1088.0 L2411.8,1088.0 L2412.2,1088.0 L2412.6,1088.0 L2413.0,1088.0 L2413.4,1088.0 L2413.8,1088.0 L2414.2,1088.0 L2414.6,1088.0 L2415.0,1088.0 L2415.4,1088.0 L2415.8,1088.0 L2416.2,1088.0 L2416.6,1088.0 L2417.0,1088.0 L2417.4,1088.0 L2417.8,1088.0 L2418.2,1088.0 L2418.6,1088.0 L2419.0,1088.0 L2419.4,1088.0 L2419.8,1088.0 L2420.2,1088.0 L2420.6,1088.0 L2421.0,1088.0 L2421.4,1088.0 L2421.8,1088.0 L2422.2,1088.0 L2422.6,1088.0 L2423.0,1088.0 L2423.4,1088.0 L2423.8,1088.0 L2424.2,1088.0 L2424.6,1088.0 L2425.0,1088.0 L2425.4,1088.0 L2425.8,1088.0 L2426.2,1088.0 L2426.6,1088.0 L2427.0,1088.0 L2427.4,1088.0 L2427.8,1088.0 L2428.2,1088.0 L2428.6,1088.0 L2429.0,1088.0 L2429.4,1088.0 L2429.8,1088.0 L2430.2,1088.0 L2430.6,1088.0 L2431.0,1088.0 L2431.4,1088.0 L2431.8,1088.0 L2432.2,1088.0 L2432.6,1088.0 L2433.0,1088.0 L2433.4,1088.0 L2433.8,1088.0 L2434.2,1088.0 L2434.6,1088.0 L2435.0,1088.0 L2435.4,1088.0 L2435.8,1088.0 L2436.2,1088.0 L2436.6,1088.0 L2437.0,1088.0 L2437.4,1088.0 L2437.8,1088.0 L2438.2,1088.0 L2438.6,1088.0 L2439.0,1088.0 L2439.4,1088.0 L2439.8,1088.0 L2440.2,1088.0 L2440.6,1088.0 L2441.0,1088.0 L2441.4,1088.0 L2441.8,1088.0 L2442.2,1088.0 L2442.6,1088.0 L2443.0,1088.0 L2443.4,1088.0 L2443.8,1088.0 L2444.2,1088.0 L2444.6,1088.0 L2445.0,1088.0 L2445.4,1088.0 L2445.8,1088.0 L2446.2,1088.0 L2446.6,1088.0 L2447.0,1088.0 L2447.4,1088.0 L2447.8,1088.0 L2448.2,1088.0 L2448.6,1088.0 L2449.0,1088.0 L2449.4,1088.0 L2449.8,1088.0 L2450.2,1088.0 L2450.6,1088.0 L2451.0,1088.0"/>
</g>
<g id="guides">
<line class="dash" x1="769.8" y1="264" x2="769.8" y2="811"/>
<line class="dash" x1="1556.6" y1="161" x2="1556.6" y2="1004"/>
<line class="dash" x1="1987.2" y1="272" x2="1987.2" y2="987"/>
<line class="dash" x1="2052.4" y1="150" x2="2052.4" y2="987"/>
<line class="dash" x1="2170.5" y1="262" x2="2170.5" y2="876"/>
</g>
<g id="axes" stroke="#2a2a2a" fill="none">
<line x1="249.5" y1="1179" x2="1236" y2="1179" stroke-width="6.6"/>
<line x1="1304" y1="1179" x2="2456" y2="1179" stroke-width="6.6"/>
<line x1="546.0" y1="1179" x2="546.0" y2="1188.5" stroke-width="5"/>
<line x1="840.2" y1="1179" x2="840.2" y2="1188.5" stroke-width="5"/>
<line x1="1134.6" y1="1179" x2="1134.6" y2="1188.5" stroke-width="5"/>
<line x1="253.0" y1="1179" x2="253.0" y2="1185.5" stroke-width="4.5"/>
<line x1="398.0" y1="1179" x2="398.0" y2="1185.5" stroke-width="4.5"/>
<line x1="693.0" y1="1179" x2="693.0" y2="1185.5" stroke-width="4.5"/>
<line x1="987.5" y1="1179" x2="987.5" y2="1185.5" stroke-width="4.5"/>
<line x1="1600.0" y1="1179" x2="1600.0" y2="1188.5" stroke-width="5"/>
<line x1="1885.5" y1="1179" x2="1885.5" y2="1188.5" stroke-width="5"/>
<line x1="2170.6" y1="1179" x2="2170.6" y2="1188.5" stroke-width="5"/>
<line x1="1317.0" y1="1179" x2="1317.0" y2="1185.5" stroke-width="4.5"/>
<line x1="1457.5" y1="1179" x2="1457.5" y2="1185.5" stroke-width="4.5"/>
<line x1="1743.0" y1="1179" x2="1743.0" y2="1185.5" stroke-width="4.5"/>
<line x1="2027.8" y1="1179" x2="2027.8" y2="1185.5" stroke-width="4.5"/>
<line x1="2313.0" y1="1179" x2="2313.0" y2="1185.5" stroke-width="4.5"/>
</g>
</g>
<g id="labels" filter="url(#softtxt)">
<text x="-11.9" y="221.4" font-size="121" font-weight="bold" fill="#0b0b0b">b</text>
<g transform="translate(665.24,245.00) scale(0.9858,1)" fill="#ea1420" font-size="76.5" font-weight="bold"><text x="0.00" y="0">6</text><path d="M72.65,0.00L62.08,0.00L62.08,-37.84Q56.29,-32.65 48.45,-30.18L48.45,-39.30Q52.59,-40.57 57.45,-44.19Q62.31,-47.85 64.10,-52.63L72.65,-52.63Z"/><text x="85.09" y="0">.</text><text x="106.35" y="0">2</text></g>
<g transform="translate(1480.68,145.50) scale(0.9807,1)" fill="#ea1420" font-size="76.5" font-weight="bold"><text x="0.00" y="0">3</text><text x="42.55" y="0">.</text><path d="M93.91,0.00L83.34,0.00L83.34,-37.84Q77.55,-32.65 69.70,-30.18L69.70,-39.30Q73.85,-40.57 78.70,-44.19Q83.56,-47.85 85.35,-52.63L93.91,-52.63Z"/><text x="106.35" y="0">4</text></g>
<g transform="translate(1968.15,145.50) scale(0.9919,1)" fill="#ea1420" font-size="76.5" font-weight="bold"><path d="M30.11,0.00L19.54,0.00L19.54,-37.84Q13.75,-32.65 5.90,-30.18L5.90,-39.30Q10.05,-40.57 14.90,-44.19Q19.76,-47.85 21.55,-52.63L30.11,-52.63Z"/><text x="42.55" y="0">.</text><text x="63.80" y="0">3</text><text x="106.35" y="0">7</text></g>
<g transform="translate(1907.20,254.00) scale(0.9828,1)" fill="#ea1420" font-size="76.5" font-weight="bold"><path d="M30.11,0.00L19.54,0.00L19.54,-37.84Q13.75,-32.65 5.90,-30.18L5.90,-39.30Q10.05,-40.57 14.90,-44.19Q19.76,-47.85 21.55,-52.63L30.11,-52.63Z"/><text x="42.55" y="0">.</text><text x="63.80" y="0">6</text></g>
<g transform="translate(2087.55,254.00) scale(0.9753,1)" fill="#ea1420" font-size="76.5" font-weight="bold"><text x="0.00" y="0">0</text><text x="42.55" y="0">.</text><text x="63.80" y="0">9</text><text x="106.35" y="0">9</text></g>
<g transform="translate(172.55,354.00) scale(0.9947,1)" fill="#0b0b0b" font-size="71.0" font-weight="bold"><text x="0.00" y="0">2</text></g>
<g transform="translate(166.39,604.50) scale(1.0238,1)" fill="#0b0b0b" font-size="71.0" font-weight="bold"><path d="M27.94,0.00L18.13,0.00L18.13,-35.12Q12.76,-30.30 5.48,-28.01L5.48,-36.47Q9.33,-37.65 13.83,-41.01Q18.34,-44.41 20.00,-48.85L27.94,-48.85Z"/></g>
<g transform="translate(123.23,856.50) scale(0.9849,1)" fill="#0b0b0b" font-size="71.0" font-weight="bold"><text x="0.00" y="0">0</text><text x="39.49" y="0">.</text><text x="59.21" y="0">5</text></g>
<g transform="translate(161.34,1107.00) scale(0.9477,1)" fill="#0b0b0b" font-size="71.0" font-weight="bold"><text x="0.00" y="0">0</text></g>
<g transform="translate(512.33,1261.00) scale(1.0300,1)" fill="#0b0b0b" font-size="84.0" font-weight="bold"><text x="0.00" y="0">6</text><text x="46.72" y="0">2</text></g>
<g transform="translate(806.37,1261.00) scale(1.0496,1)" fill="#0b0b0b" font-size="84.0" font-weight="bold"><text x="0.00" y="0">6</text><path d="M79.78,0.00L68.17,0.00L68.17,-41.55Q61.81,-35.85 53.20,-33.14L53.20,-43.15Q57.75,-44.54 63.08,-48.52Q68.41,-52.54 70.38,-57.79L79.78,-57.79Z"/></g>
<g transform="translate(1102.06,1261.00) scale(1.0194,1)" fill="#0b0b0b" font-size="84.0" font-weight="bold"><text x="0.00" y="0">6</text><text x="46.72" y="0">0</text></g>
<g transform="translate(1591.65,1261.00) scale(0.9580,1)" fill="#0b0b0b" font-size="84.0" font-weight="bold"><text x="0.00" y="0">3</text></g>
<g transform="translate(1875.08,1261.00) scale(1.0014,1)" fill="#0b0b0b" font-size="84.0" font-weight="bold"><text x="0.00" y="0">2</text></g>
<g transform="translate(2159.31,1261.00) scale(1.1099,1)" fill="#0b0b0b" font-size="84.0" font-weight="bold"><path d="M33.06,0.00L21.45,0.00L21.45,-41.55Q15.09,-35.85 6.48,-33.14L6.48,-43.15Q11.03,-44.54 16.37,-48.52Q21.70,-52.54 23.67,-57.79L33.06,-57.79Z"/></g>
<g transform="translate(659.0,1292.7)">
<path d="M38,13.3 C35,7.8 30,4.7 23.5,4.7 C15,4.7 10.2,9.3 10.4,15.3 C10.6,21.3 19,23.8 27,26.8 C36,30.3 40.5,34.3 40.5,39.8 C40.5,47.8 33,53.7 23.25,53.7 C13.5,53.7 6,47.8 6,39.8 C6,32.3 12,26.8 21,25.9" fill="none" stroke="#0b0b0b" stroke-width="9.6" stroke-linecap="butt" stroke-linejoin="round"/>
<text x="69.6" y="57.6" font-size="76" font-weight="bold" fill="#0b0b0b">(ppm)</text>
</g>
<g transform="translate(1746.5,1292.7)">
<path d="M38,13.3 C35,7.8 30,4.7 23.5,4.7 C15,4.7 10.2,9.3 10.4,15.3 C10.6,21.3 19,23.8 27,26.8 C36,30.3 40.5,34.3 40.5,39.8 C40.5,47.8 33,53.7 23.25,53.7 C13.5,53.7 6,47.8 6,39.8 C6,32.3 12,26.8 21,25.9" fill="none" stroke="#0b0b0b" stroke-width="9.6" stroke-linecap="butt" stroke-linejoin="round"/>
<text x="69.6" y="57.6" font-size="76" font-weight="bold" fill="#0b0b0b">(ppm)</text>
</g>
<text transform="translate(91,1133.4) rotate(-90)" font-size="76" font-weight="bold" fill="#0b0b0b">No. of Zn<tspan font-size="50" dy="-24.5">2</tspan><tspan font-size="46">+</tspan><tspan dy="24.5" dx="-6" letter-spacing="0.3"> equivalents</tspan></text>
</g>
</svg>
</body></html>
